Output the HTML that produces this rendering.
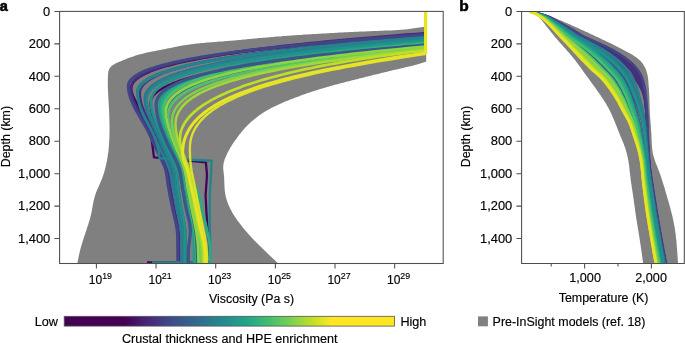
<!DOCTYPE html><html><head><meta charset="utf-8"><style>html,body{margin:0;padding:0;background:#fff;width:685px;height:343px;overflow:hidden}</style></head><body><svg width="685" height="343" viewBox="0 0 685 343" style="position:absolute;left:0;top:0;will-change:transform;opacity:0.999;font-family:'Liberation Sans',sans-serif;font-size:12px"><style>text{fill:#000;stroke:#000;stroke-width:.15px}</style>
<defs><clipPath id="ca"><rect x="59.5" y="11.3" width="383.7" height="252.2"/></clipPath><clipPath id="cb"><rect x="521.5" y="11.3" width="163" height="252.2"/></clipPath>
<linearGradient id="vg" x1="0" x2="1" y1="0" y2="0"><stop offset="0.185" stop-color="#440154"/><stop offset="0.247" stop-color="#482475"/><stop offset="0.310" stop-color="#414487"/><stop offset="0.372" stop-color="#355f8d"/><stop offset="0.435" stop-color="#2a788e"/><stop offset="0.497" stop-color="#21918c"/><stop offset="0.560" stop-color="#22a884"/><stop offset="0.623" stop-color="#44bf70"/><stop offset="0.685" stop-color="#7ad151"/><stop offset="0.748" stop-color="#bddf26"/><stop offset="0.810" stop-color="#fde725"/></linearGradient></defs>
<rect width="685" height="343" fill="#fff"/>
<g clip-path="url(#ca)">
<path d="M426.2,26.4 L424.5,26.7 L422.7,27.0 L421.0,27.2 L419.3,27.5 L417.6,27.8 L415.8,28.0 L414.1,28.3 L412.4,28.5 L410.7,28.7 L408.9,29.0 L407.2,29.2 L405.5,29.4 L403.7,29.5 L402.0,29.7 L400.3,29.8 L398.5,30.0 L396.8,30.1 L395.0,30.2 L393.3,30.3 L391.5,30.4 L389.8,30.4 L388.1,30.5 L386.3,30.6 L384.6,30.6 L382.8,30.7 L381.1,30.8 L379.3,30.8 L377.6,30.9 L375.8,31.0 L374.1,31.0 L372.3,31.1 L370.6,31.2 L368.9,31.2 L367.1,31.3 L365.4,31.4 L363.6,31.4 L361.9,31.5 L360.1,31.6 L358.4,31.7 L356.6,31.8 L354.9,31.8 L353.2,31.9 L351.4,32.0 L349.7,32.1 L347.9,32.2 L346.2,32.3 L344.4,32.3 L342.7,32.4 L341.0,32.5 L339.2,32.6 L337.5,32.7 L335.7,32.8 L334.0,32.9 L332.2,33.0 L330.5,33.1 L328.8,33.2 L327.0,33.3 L325.3,33.4 L323.5,33.5 L321.8,33.6 L320.1,33.7 L318.3,33.8 L316.6,33.9 L314.8,34.0 L313.1,34.1 L311.3,34.2 L309.6,34.3 L307.9,34.4 L306.1,34.5 L304.4,34.6 L302.6,34.7 L300.9,34.9 L299.2,35.0 L297.4,35.1 L295.7,35.2 L293.9,35.3 L292.2,35.4 L290.4,35.6 L288.7,35.7 L287.0,35.8 L285.2,36.0 L283.5,36.1 L281.7,36.2 L280.0,36.4 L278.3,36.5 L276.5,36.6 L274.8,36.8 L273.0,36.9 L271.3,37.1 L269.6,37.2 L267.8,37.4 L266.1,37.5 L264.3,37.7 L262.6,37.8 L260.9,38.0 L259.1,38.1 L257.4,38.3 L255.7,38.5 L253.9,38.6 L252.2,38.8 L250.4,38.9 L248.7,39.1 L247.0,39.3 L245.2,39.4 L243.5,39.6 L241.8,39.7 L240.0,39.9 L238.3,40.1 L236.5,40.2 L234.8,40.4 L233.1,40.5 L231.3,40.7 L229.6,40.8 L227.8,40.9 L226.1,41.1 L224.4,41.2 L222.6,41.4 L220.9,41.5 L219.1,41.6 L217.4,41.8 L215.7,41.9 L213.9,42.1 L212.2,42.2 L210.4,42.3 L208.7,42.5 L207.0,42.6 L205.2,42.8 L203.5,42.9 L201.7,43.1 L200.0,43.2 L198.3,43.4 L196.5,43.6 L194.8,43.8 L193.1,44.0 L191.3,44.2 L189.6,44.4 L187.9,44.7 L186.1,44.9 L184.4,45.2 L182.7,45.5 L181.0,45.8 L179.3,46.1 L177.6,46.5 L175.9,46.8 L174.1,47.2 L172.4,47.5 L170.7,47.9 L169.0,48.2 L167.3,48.6 L165.6,48.9 L163.9,49.3 L162.2,49.6 L160.5,50.0 L158.7,50.3 L157.0,50.6 L155.3,50.9 L153.6,51.2 L151.9,51.6 L150.2,51.9 L148.5,52.3 L146.8,52.6 L145.1,53.0 L143.4,53.4 L141.7,53.9 L140.0,54.3 L138.3,54.8 L136.6,55.3 L135.0,55.8 L133.3,56.4 L131.7,57.0 L130.0,57.5 L128.4,58.1 L126.7,58.8 L125.1,59.4 L123.5,60.0 L121.9,60.7 L120.3,61.4 L118.7,62.1 L117.1,62.8 L115.5,63.6 L113.9,64.4 L112.5,65.3 L111.1,66.5 L110.0,67.8 L109.1,69.3 L108.5,70.9 L108.2,72.7 L108.0,74.4 L107.9,76.2 L107.9,77.9 L107.8,79.7 L107.8,81.4 L107.8,83.2 L107.8,84.9 L107.8,86.6 L107.9,88.4 L108.0,90.1 L108.0,91.9 L108.1,93.6 L108.2,95.3 L108.3,97.1 L108.4,98.8 L108.5,100.6 L108.6,102.3 L108.7,104.1 L108.8,105.8 L108.9,107.6 L109.0,109.3 L109.1,111.0 L109.2,112.8 L109.2,114.5 L109.3,116.3 L109.3,118.0 L109.4,119.8 L109.4,121.5 L109.5,123.3 L109.5,125.0 L109.5,126.7 L109.5,128.5 L109.5,130.2 L109.5,132.0 L109.5,133.7 L109.4,135.5 L109.4,137.2 L109.3,139.0 L109.2,140.7 L109.1,142.5 L109.0,144.2 L108.9,145.9 L108.7,147.7 L108.6,149.4 L108.4,151.1 L108.2,152.9 L107.9,154.6 L107.7,156.3 L107.4,158.1 L107.1,159.8 L106.8,161.5 L106.4,163.2 L106.1,164.9 L105.7,166.6 L105.2,168.3 L104.8,170.0 L104.3,171.7 L103.8,173.4 L103.3,175.0 L102.7,176.7 L102.2,178.3 L101.5,180.0 L100.8,181.6 L100.1,183.2 L99.4,184.8 L98.7,186.4 L98.0,188.0 L97.3,189.6 L96.6,191.2 L96.0,192.8 L95.4,194.4 L94.9,196.1 L94.4,197.8 L94.0,199.4 L93.6,201.1 L93.3,202.9 L92.9,204.6 L92.6,206.3 L92.3,208.0 L92.0,209.8 L91.7,211.5 L91.3,213.2 L90.9,214.9 L90.5,216.6 L90.1,218.3 L89.6,220.0 L89.1,221.6 L88.6,223.3 L88.1,225.0 L87.5,226.6 L87.0,228.3 L86.5,230.0 L85.9,231.6 L85.3,233.3 L84.8,234.9 L84.2,236.6 L83.7,238.2 L83.1,239.9 L82.6,241.6 L82.1,243.2 L81.6,244.9 L81.1,246.6 L80.6,248.3 L80.2,249.9 L79.8,251.6 L79.4,253.3 L79.0,255.0 L78.6,256.7 L78.3,258.5 L78.0,260.2 L77.6,261.9 L77.3,263.6 L278.3,263.6 L277.4,262.8 L276.6,262.0 L275.7,261.1 L274.8,260.3 L274.0,259.5 L273.1,258.7 L272.3,257.9 L271.4,257.0 L270.5,256.2 L269.7,255.4 L268.8,254.6 L267.9,253.7 L267.1,252.9 L266.2,252.1 L265.4,251.3 L264.5,250.4 L263.6,249.6 L262.8,248.8 L261.9,248.0 L261.1,247.1 L260.2,246.3 L259.4,245.5 L258.5,244.6 L257.7,243.8 L256.9,242.9 L256.0,242.1 L255.2,241.2 L254.4,240.4 L253.5,239.5 L252.7,238.7 L251.9,237.8 L251.1,236.9 L250.3,236.0 L249.5,235.2 L248.7,234.3 L247.9,233.4 L247.1,232.5 L246.3,231.6 L245.5,230.7 L244.8,229.8 L244.0,228.9 L243.2,227.9 L242.5,227.0 L241.7,226.1 L241.0,225.1 L240.3,224.2 L239.6,223.2 L238.8,222.3 L238.1,221.3 L237.4,220.4 L236.8,219.4 L236.1,218.4 L235.4,217.4 L234.7,216.4 L234.1,215.4 L233.5,214.4 L232.8,213.4 L232.2,212.4 L231.7,211.3 L231.1,210.3 L230.5,209.2 L230.0,208.1 L229.5,207.1 L229.0,206.0 L228.5,204.9 L228.1,203.8 L227.6,202.6 L227.2,201.5 L226.9,200.4 L226.5,199.2 L226.2,198.1 L225.9,196.9 L225.6,195.8 L225.4,194.6 L225.1,193.4 L225.0,192.2 L224.8,191.1 L224.7,189.9 L224.6,188.7 L224.5,187.5 L224.5,186.3 L224.4,185.1 L224.4,183.9 L224.3,182.8 L224.3,181.6 L224.3,180.4 L224.2,179.2 L224.1,178.0 L224.1,176.8 L224.0,175.6 L223.8,174.4 L223.7,173.2 L223.6,172.0 L223.4,170.8 L223.3,169.6 L223.2,168.4 L223.2,167.3 L223.3,166.1 L223.4,164.9 L223.5,163.7 L223.8,162.6 L224.1,161.4 L224.4,160.3 L224.8,159.1 L225.2,158.0 L225.7,156.9 L226.2,155.8 L226.7,154.7 L227.2,153.6 L227.7,152.5 L228.3,151.5 L228.9,150.4 L229.4,149.4 L230.0,148.3 L230.6,147.3 L231.3,146.3 L231.9,145.3 L232.5,144.3 L233.2,143.3 L233.8,142.3 L234.5,141.3 L235.2,140.3 L235.9,139.4 L236.6,138.4 L237.3,137.4 L238.0,136.5 L238.7,135.5 L239.4,134.6 L240.2,133.7 L240.9,132.7 L241.7,131.8 L242.4,130.9 L243.2,130.0 L244.0,129.1 L244.8,128.2 L245.6,127.3 L246.5,126.5 L247.3,125.6 L248.1,124.8 L249.0,123.9 L249.9,123.1 L250.7,122.3 L251.6,121.5 L252.5,120.7 L253.4,119.9 L254.3,119.2 L255.3,118.4 L256.2,117.7 L257.2,117.0 L258.1,116.2 L259.1,115.5 L260.0,114.8 L261.0,114.2 L262.0,113.5 L263.0,112.8 L264.0,112.2 L265.0,111.6 L266.1,110.9 L267.1,110.3 L268.1,109.8 L269.2,109.2 L270.2,108.6 L271.3,108.0 L272.3,107.5 L273.4,107.0 L274.4,106.4 L275.5,105.9 L276.6,105.4 L277.7,104.9 L278.8,104.4 L279.9,103.9 L281.0,103.4 L282.0,103.0 L283.1,102.5 L284.2,102.0 L285.3,101.6 L286.5,101.1 L287.6,100.7 L288.7,100.2 L289.8,99.8 L290.9,99.3 L292.0,98.9 L293.1,98.5 L294.2,98.0 L295.3,97.6 L296.4,97.2 L297.6,96.8 L298.7,96.4 L299.8,95.9 L300.9,95.5 L302.0,95.1 L303.2,94.7 L304.3,94.3 L305.4,93.9 L306.5,93.5 L307.6,93.1 L308.8,92.8 L309.9,92.4 L311.0,92.0 L312.2,91.6 L313.3,91.2 L314.4,90.9 L315.6,90.5 L316.7,90.2 L317.8,89.8 L319.0,89.4 L320.1,89.1 L321.2,88.8 L322.4,88.4 L323.5,88.1 L324.7,87.7 L325.8,87.4 L327.0,87.1 L328.1,86.7 L329.3,86.4 L330.4,86.1 L331.5,85.8 L332.7,85.5 L333.8,85.1 L335.0,84.8 L336.1,84.5 L337.3,84.2 L338.4,83.9 L339.6,83.6 L340.8,83.3 L341.9,83.0 L343.1,82.7 L344.2,82.4 L345.4,82.1 L346.5,81.8 L347.7,81.5 L348.8,81.2 L350.0,80.9 L351.1,80.6 L352.3,80.3 L353.5,80.0 L354.6,79.8 L355.8,79.5 L356.9,79.2 L358.1,78.9 L359.2,78.6 L360.4,78.3 L361.5,78.0 L362.7,77.7 L363.9,77.4 L365.0,77.1 L366.2,76.8 L367.3,76.6 L368.5,76.3 L369.6,76.0 L370.8,75.7 L371.9,75.4 L373.1,75.1 L374.3,74.8 L375.4,74.5 L376.6,74.2 L377.7,74.0 L378.9,73.7 L380.0,73.4 L381.2,73.1 L382.4,72.8 L383.5,72.5 L384.7,72.3 L385.8,72.0 L387.0,71.7 L388.1,71.4 L389.3,71.1 L390.5,70.9 L391.6,70.6 L392.8,70.3 L393.9,70.0 L395.1,69.8 L396.3,69.5 L397.4,69.2 L398.6,68.9 L399.7,68.7 L400.9,68.4 L402.1,68.1 L403.2,67.9 L404.4,67.6 L405.6,67.3 L406.7,67.1 L407.9,66.8 L409.0,66.6 L410.2,66.3 L411.4,66.0 L412.5,65.7 L413.7,65.4 L414.8,65.1 L416.0,64.8 L417.1,64.5 L418.3,64.1 L419.4,63.8 L420.5,63.4 L421.7,63.1 L422.8,62.7 L423.9,62.3 L425.1,62.0 L426.2,61.6Z" fill="#808080"/>
<path d="M425.5,34.2 L415.6,35.0 L405.9,35.7 L396.3,36.5 L387.0,37.2 L377.7,38.0 L368.7,38.7 L359.8,39.5 L351.1,40.3 L342.6,41.0 L334.2,41.8 L326.0,42.6 L318.0,43.3 L310.1,44.1 L302.4,44.9 L294.9,45.7 L287.6,46.5 L280.4,47.3 L273.4,48.1 L266.5,48.9 L259.8,49.7 L253.3,50.5 L247.0,51.3 L240.8,52.2 L234.8,53.0 L229.0,53.9 L223.3,54.7 L217.8,55.6 L212.5,56.4 L207.4,57.3 L202.4,58.2 L197.6,59.1 L192.9,60.0 L188.4,60.9 L184.1,61.8 L180.0,62.7 L176.0,63.7 L172.2,64.6 L168.6,65.6 L165.1,66.5 L161.8,67.5 L158.7,68.5 L155.7,69.5 L152.9,70.5 L150.3,71.5 L147.9,72.6 L145.6,73.6 L143.5,74.7 L141.5,75.8 L139.8,76.9 L138.1,78.0 L136.7,79.1 L135.4,80.2 L134.3,81.3 L133.4,82.5 L132.7,83.7 L132.1,84.8 L131.6,86.1 L131.4,87.3 L131.3,88.5 L131.3,89.2 L131.4,89.8 L131.4,90.5 L131.6,91.2 L131.7,91.8 L131.9,92.5 L132.1,93.2 L132.3,93.8 L132.5,94.5 L132.8,95.2 L133.0,95.9 L133.3,96.5 L133.6,97.2 L133.9,97.9 L134.3,98.5 L134.6,99.2 L135.0,99.9 L135.3,100.5 L135.7,101.2 L136.0,101.9 L136.4,102.5 L136.7,103.2 L137.1,103.9 L137.5,104.5 L137.8,105.2 L138.1,105.9 L138.5,106.5 L138.8,107.2 L139.2,107.9 L139.5,108.6 L139.9,109.2 L140.2,109.9 L140.5,110.6 L140.9,111.2 L141.2,111.9 L141.5,112.6 L141.8,113.2 L142.2,113.9 L142.5,114.6 L142.8,115.2 L143.2,115.9 L143.5,116.6 L143.8,117.2 L144.2,117.9 L144.5,118.6 L144.8,119.2 L145.1,119.9 L145.5,120.6 L145.8,121.2 L146.1,121.9 L146.5,122.6 L146.8,123.3 L147.1,123.9 L147.4,124.6 L147.7,125.3 L148.0,125.9 L148.3,126.6 L148.6,127.3 L148.8,127.9 L149.1,128.6 L149.3,129.3 L149.6,129.9 L149.8,130.6 L150.0,131.3 L150.2,131.9 L150.4,132.6 L150.6,133.3 L150.8,133.9 L150.9,134.6 L151.1,135.3 L151.2,136.0 L151.3,136.6 L151.4,137.3 L151.5,138.0 L151.6,138.6 L151.7,139.3 L151.8,140.0 L151.8,140.6 L151.9,141.3 L154.0,157.4 L205.9,162.4 L207.0,175.0 L205.6,195.0 L206.4,212.0 L207.6,230.0 L209.6,246.0 L210.4,262.4 L147.0,262.4" fill="none" stroke="#440457" stroke-width="2.3" stroke-linejoin="round"/>
<path d="M425.5,33.2 L415.6,34.0 L405.9,34.7 L396.3,35.5 L386.9,36.3 L377.7,37.0 L368.6,37.8 L359.8,38.6 L351.1,39.3 L342.5,40.1 L334.1,40.9 L325.9,41.7 L317.9,42.5 L310.0,43.2 L302.3,44.0 L294.8,44.8 L287.4,45.6 L280.2,46.4 L273.2,47.3 L266.4,48.1 L259.7,48.9 L253.2,49.7 L246.8,50.6 L240.6,51.4 L234.6,52.2 L228.8,53.1 L223.1,54.0 L217.6,54.8 L212.3,55.7 L207.1,56.6 L202.2,57.5 L197.3,58.4 L192.7,59.3 L188.2,60.2 L183.9,61.2 L179.7,62.1 L175.8,63.0 L171.9,64.0 L168.3,65.0 L164.8,66.0 L161.5,66.9 L158.4,67.9 L155.5,69.0 L152.7,70.0 L150.0,71.0 L147.6,72.1 L145.3,73.1 L143.2,74.2 L141.2,75.3 L139.5,76.4 L137.9,77.5 L136.4,78.6 L135.1,79.8 L134.0,80.9 L133.1,82.1 L132.4,83.3 L131.8,84.5 L131.3,85.7 L131.1,87.0 L131.0,88.2 L131.1,90.4 L131.4,92.6 L131.8,94.9 L132.4,97.1 L133.1,99.3 L133.9,101.5 L134.8,103.7 L135.9,106.0 L137.0,108.2 L138.2,110.4 L139.4,112.6 L140.7,114.8 L142.0,117.1 L143.4,119.3 L144.7,121.5 L146.0,123.7 L147.4,125.9 L148.6,128.2 L149.8,130.4 L151.0,132.6 L152.1,134.8 L153.1,137.0 L154.1,139.3 L155.0,141.5 L156.0,143.7 L156.9,145.9 L157.9,148.1 L158.9,150.4 L160.0,152.6 L161.1,154.8 L162.2,157.0 L163.3,159.2 L164.3,161.5 L165.3,163.7 L166.2,165.9 L167.0,168.1 L167.7,170.3 L168.2,172.6 L168.6,174.8 L168.9,177.0 L169.2,179.2 L169.5,181.5 L169.7,183.7 L170.1,185.9 L170.4,188.1 L170.8,190.3 L171.2,192.6 L171.6,194.8 L172.0,197.0 L172.4,199.2 L172.8,201.4 L173.2,203.7 L173.6,205.9 L174.1,208.1 L174.5,210.3 L175.0,212.5 L175.5,214.8 L176.0,217.0 L176.5,219.2 L177.0,221.4 L177.4,223.6 L177.8,225.9 L178.1,228.1 L178.4,230.3 L178.7,232.5 L178.8,234.7 L178.9,237.0 L179.0,239.2 L179.0,241.4 L179.0,243.6 L179.0,245.8 L179.1,248.1 L179.1,250.3 L179.1,252.5 L179.1,254.7 L179.1,256.9 L179.2,259.2 L179.2,261.4 L179.2,263.6" fill="none" stroke="#472a79" stroke-width="2.7" stroke-linejoin="round"/>
<path d="M425.5,36.2 L415.9,37.0 L406.5,37.7 L397.2,38.5 L388.1,39.3 L379.1,40.1 L370.3,40.8 L361.7,41.6 L353.3,42.4 L345.0,43.2 L336.9,44.0 L328.9,44.8 L321.1,45.6 L313.5,46.4 L306.0,47.2 L298.7,48.0 L291.6,48.8 L284.6,49.6 L277.8,50.5 L271.1,51.3 L264.6,52.1 L258.3,53.0 L252.2,53.8 L246.2,54.7 L240.3,55.6 L234.7,56.4 L229.2,57.3 L223.8,58.2 L218.7,59.1 L213.7,60.0 L208.8,61.0 L204.1,61.9 L199.6,62.8 L195.3,63.8 L191.1,64.8 L187.1,65.7 L183.2,66.7 L179.5,67.7 L176.0,68.7 L172.6,69.7 L169.4,70.8 L166.4,71.8 L163.5,72.9 L160.8,74.0 L158.3,75.1 L155.9,76.2 L153.7,77.3 L151.6,78.4 L149.7,79.6 L148.0,80.7 L146.4,81.9 L145.1,83.1 L143.8,84.3 L142.8,85.5 L141.9,86.8 L141.1,88.1 L140.5,89.3 L140.1,90.6 L139.9,92.0 L139.8,93.3 L139.9,95.5 L140.1,97.6 L140.5,99.8 L140.9,101.9 L141.5,104.1 L142.2,106.2 L143.0,108.4 L143.9,110.5 L144.8,112.7 L145.8,114.9 L146.9,117.0 L148.0,119.2 L149.1,121.3 L150.2,123.5 L151.3,125.6 L152.4,127.8 L153.5,129.9 L154.6,132.1 L155.6,134.3 L156.6,136.4 L157.5,138.6 L158.5,140.7 L159.4,142.9 L160.3,145.0 L161.3,147.2 L162.3,149.3 L163.3,151.5 L164.4,153.7 L165.5,155.8 L166.6,158.0 L167.6,160.1 L168.6,162.3 L169.6,164.4 L170.4,166.6 L171.1,168.7 L171.7,170.9 L172.2,173.1 L172.6,175.2 L172.9,177.4 L173.2,179.5 L173.4,181.7 L173.7,183.8 L174.0,186.0 L174.4,188.2 L174.8,190.3 L175.2,192.5 L175.5,194.6 L175.9,196.8 L176.3,198.9 L176.6,201.1 L177.0,203.2 L177.4,205.4 L177.8,207.6 L178.1,209.7 L178.6,211.9 L179.0,214.0 L179.4,216.2 L179.8,218.3 L180.3,220.5 L180.7,222.6 L181.1,224.8 L181.4,227.0 L181.7,229.1 L181.9,231.3 L182.1,233.4 L182.3,235.6 L182.4,237.7 L182.5,239.9 L182.5,242.0 L182.6,244.2 L182.6,246.4 L182.6,248.5 L182.7,250.7 L182.7,252.8 L182.7,255.0 L182.7,257.1 L182.8,259.3 L182.8,261.4 L182.8,263.6" fill="none" stroke="#462e7a" stroke-width="2.5" stroke-linejoin="round"/>
<path d="M425.5,34.6 L415.5,35.3 L405.7,36.0 L396.1,36.7 L386.6,37.5 L377.3,38.2 L368.1,38.9 L359.2,39.6 L350.4,40.4 L341.8,41.1 L333.3,41.8 L325.0,42.5 L316.9,43.3 L309.0,44.0 L301.2,44.8 L293.6,45.5 L286.2,46.3 L279.0,47.0 L271.9,47.8 L265.0,48.6 L258.2,49.3 L251.6,50.1 L245.2,50.9 L239.0,51.7 L233.0,52.5 L227.1,53.3 L221.3,54.1 L215.8,54.9 L210.4,55.7 L205.2,56.5 L200.2,57.4 L195.3,58.2 L190.6,59.1 L186.1,59.9 L181.7,60.8 L177.6,61.7 L173.5,62.6 L169.7,63.5 L166.0,64.4 L162.5,65.3 L159.2,66.2 L156.1,67.1 L153.1,68.1 L150.2,69.0 L147.6,70.0 L145.1,71.0 L142.8,72.0 L140.7,73.0 L138.7,74.0 L136.9,75.0 L135.3,76.1 L133.9,77.1 L132.6,78.2 L131.5,79.3 L130.5,80.3 L129.8,81.4 L129.2,82.6 L128.7,83.7 L128.5,84.8 L128.4,86.0 L128.5,88.2 L128.7,90.5 L129.1,92.7 L129.7,95.0 L130.4,97.2 L131.1,99.5 L132.0,101.7 L133.0,104.0 L134.1,106.2 L135.2,108.5 L136.4,110.7 L137.7,113.0 L139.0,115.2 L140.3,117.5 L141.6,119.7 L142.9,122.0 L144.2,124.2 L145.5,126.5 L146.8,128.7 L148.0,131.0 L149.1,133.2 L150.2,135.5 L151.2,137.7 L152.2,140.0 L153.2,142.2 L154.2,144.5 L155.2,146.7 L156.2,148.9 L157.3,151.2 L158.4,153.4 L159.5,155.7 L160.7,157.9 L161.8,160.2 L162.8,162.4 L163.8,164.7 L164.7,166.9 L165.5,169.2 L166.1,171.4 L166.5,173.7 L166.9,175.9 L167.2,178.2 L167.5,180.4 L167.8,182.7 L168.1,184.9 L168.5,187.2 L168.9,189.4 L169.3,191.7 L169.7,193.9 L170.1,196.2 L170.5,198.4 L171.0,200.7 L171.4,202.9 L171.9,205.1 L172.3,207.4 L172.8,209.6 L173.3,211.9 L173.9,214.1 L174.4,216.4 L174.9,218.6 L175.5,220.9 L175.9,223.1 L176.4,225.4 L176.8,227.6 L177.1,229.9 L177.3,232.1 L177.5,234.4 L177.6,236.6 L177.7,238.9 L177.7,241.1 L177.7,243.4 L177.7,245.6 L177.7,247.9 L177.8,250.1 L177.8,252.4 L177.8,254.6 L177.8,256.9 L177.8,259.1 L177.9,261.4 L177.9,263.6" fill="none" stroke="#414487" stroke-width="3.1" stroke-linejoin="round"/>
<path d="M425.5,38.5 L416.1,39.3 L406.8,40.1 L397.7,40.9 L388.8,41.7 L380.0,42.5 L371.4,43.3 L362.9,44.1 L354.6,45.0 L346.5,45.8 L338.5,46.6 L330.7,47.4 L323.0,48.2 L315.5,49.1 L308.2,49.9 L301.0,50.8 L294.0,51.6 L287.1,52.5 L280.5,53.3 L273.9,54.2 L267.6,55.1 L261.4,56.0 L255.3,56.9 L249.4,57.8 L243.7,58.7 L238.2,59.6 L232.8,60.5 L227.5,61.4 L222.4,62.4 L217.5,63.3 L212.8,64.3 L208.2,65.3 L203.7,66.3 L199.5,67.3 L195.4,68.3 L191.4,69.3 L187.6,70.4 L184.0,71.4 L180.5,72.5 L177.2,73.5 L174.1,74.6 L171.1,75.7 L168.3,76.9 L165.6,78.0 L163.1,79.2 L160.8,80.3 L158.6,81.5 L156.6,82.7 L154.8,83.9 L153.1,85.1 L151.5,86.4 L150.2,87.7 L148.9,89.0 L147.9,90.3 L147.0,91.6 L146.3,92.9 L145.7,94.3 L145.3,95.7 L145.1,97.1 L145.0,98.5 L145.1,100.6 L145.3,102.7 L145.6,104.8 L146.0,106.9 L146.6,108.9 L147.2,111.0 L147.9,113.1 L148.7,115.2 L149.5,117.3 L150.4,119.4 L151.3,121.5 L152.2,123.6 L153.2,125.7 L154.1,127.8 L155.1,129.8 L156.0,131.9 L156.9,134.0 L157.8,136.1 L158.7,138.2 L159.6,140.3 L160.4,142.4 L161.3,144.5 L162.2,146.6 L163.1,148.7 L164.1,150.7 L165.1,152.8 L166.1,154.9 L167.1,157.0 L168.0,159.1 L169.0,161.2 L169.9,163.3 L170.7,165.4 L171.4,167.5 L172.1,169.6 L172.6,171.6 L173.0,173.7 L173.3,175.8 L173.6,177.9 L173.9,180.0 L174.1,182.1 L174.4,184.2 L174.7,186.3 L175.1,188.4 L175.4,190.5 L175.8,192.5 L176.1,194.6 L176.5,196.7 L176.8,198.8 L177.2,200.9 L177.6,203.0 L177.9,205.1 L178.3,207.2 L178.7,209.3 L179.1,211.4 L179.5,213.4 L179.9,215.5 L180.3,217.6 L180.7,219.7 L181.1,221.8 L181.5,223.9 L181.8,226.0 L182.2,228.1 L182.4,230.2 L182.6,232.3 L182.8,234.3 L182.9,236.4 L183.0,238.5 L183.1,240.6 L183.1,242.7 L183.2,244.8 L183.2,246.9 L183.2,249.0 L183.3,251.1 L183.3,253.2 L183.3,255.2 L183.3,257.3 L183.4,259.4 L183.4,261.5 L183.4,263.6" fill="none" stroke="#2c738e" stroke-width="2.9" stroke-linejoin="round"/>
<path d="M425.5,37.2 L415.8,37.9 L406.3,38.7 L396.9,39.5 L387.7,40.2 L378.7,41.0 L369.9,41.7 L361.2,42.5 L352.6,43.2 L344.3,44.0 L336.1,44.8 L328.1,45.5 L320.2,46.3 L312.5,47.1 L305.0,47.9 L297.6,48.7 L290.4,49.5 L283.3,50.2 L276.5,51.1 L269.8,51.9 L263.2,52.7 L256.9,53.5 L250.6,54.3 L244.6,55.2 L238.7,56.0 L233.0,56.9 L227.5,57.7 L222.1,58.6 L216.9,59.4 L211.8,60.3 L206.9,61.2 L202.2,62.1 L197.7,63.0 L193.3,64.0 L189.0,64.9 L185.0,65.8 L181.1,66.8 L177.4,67.7 L173.8,68.7 L170.4,69.7 L167.2,70.7 L164.1,71.7 L161.2,72.7 L158.5,73.8 L155.9,74.8 L153.5,75.9 L151.3,76.9 L149.2,78.0 L147.3,79.1 L145.6,80.3 L144.0,81.4 L142.6,82.5 L141.4,83.7 L140.3,84.9 L139.4,86.1 L138.6,87.3 L138.0,88.5 L137.6,89.8 L137.4,91.0 L137.3,92.3 L137.4,94.5 L137.6,96.6 L137.9,98.8 L138.4,101.0 L139.0,103.1 L139.7,105.3 L140.4,107.5 L141.3,109.6 L142.2,111.8 L143.2,114.0 L144.2,116.2 L145.3,118.3 L146.4,120.5 L147.5,122.7 L148.6,124.8 L149.7,127.0 L150.8,129.2 L151.9,131.3 L152.9,133.5 L153.9,135.7 L154.9,137.8 L155.9,140.0 L156.8,142.2 L157.8,144.3 L158.8,146.5 L159.8,148.7 L160.8,150.8 L161.9,153.0 L163.0,155.2 L164.1,157.4 L165.2,159.5 L166.2,161.7 L167.2,163.9 L168.1,166.0 L168.9,168.2 L169.6,170.4 L170.2,172.5 L170.7,174.7 L171.1,176.9 L171.4,179.0 L171.8,181.2 L172.2,183.4 L172.6,185.5 L173.1,187.7 L173.5,189.9 L174.0,192.0 L174.4,194.2 L174.9,196.4 L175.3,198.5 L175.6,200.7 L176.0,202.9 L176.4,205.1 L176.8,207.2 L177.1,209.4 L177.5,211.6 L178.0,213.7 L178.4,215.9 L178.8,218.1 L179.3,220.2 L179.7,222.4 L180.1,224.6 L180.4,226.7 L180.8,228.9 L181.0,231.1 L181.2,233.2 L181.4,235.4 L181.5,237.6 L181.6,239.7 L181.7,241.9 L181.7,244.1 L181.8,246.3 L181.8,248.4 L181.9,250.6 L181.9,252.8 L181.9,254.9 L181.9,257.1 L182.0,259.3 L182.0,261.4 L182.0,263.6" fill="none" stroke="#287d8e" stroke-width="2.7" stroke-linejoin="round"/>
<path d="M425.5,37.6 L415.8,38.4 L406.3,39.1 L397.0,39.9 L387.8,40.6 L378.8,41.4 L370.0,42.1 L361.3,42.9 L352.8,43.7 L344.5,44.4 L336.3,45.2 L328.3,46.0 L320.4,46.7 L312.8,47.5 L305.2,48.3 L297.9,49.1 L290.7,49.9 L283.7,50.7 L276.8,51.5 L270.1,52.3 L263.6,53.1 L257.3,54.0 L251.1,54.8 L245.0,55.6 L239.2,56.5 L233.5,57.3 L227.9,58.2 L222.6,59.1 L217.4,59.9 L212.3,60.8 L207.5,61.7 L202.8,62.6 L198.2,63.5 L193.8,64.5 L189.6,65.4 L185.6,66.4 L181.7,67.3 L178.0,68.3 L174.4,69.3 L171.0,70.3 L167.8,71.3 L164.8,72.3 L161.9,73.3 L159.1,74.3 L156.6,75.4 L154.2,76.5 L152.0,77.5 L149.9,78.6 L148.0,79.8 L146.3,80.9 L144.7,82.0 L143.3,83.2 L142.0,84.3 L141.0,85.5 L140.1,86.7 L139.3,88.0 L138.7,89.2 L138.3,90.4 L138.1,91.7 L138.0,93.0 L138.0,93.7 L138.0,94.5 L138.1,95.2 L138.1,96.0 L138.1,96.7 L138.2,97.4 L138.3,98.2 L138.4,98.9 L138.5,99.6 L138.6,100.4 L138.7,101.1 L138.8,101.9 L139.0,102.6 L139.1,103.3 L139.3,104.1 L139.5,104.8 L139.7,105.5 L139.9,106.3 L140.1,107.0 L140.3,107.8 L140.6,108.5 L140.8,109.2 L141.1,110.0 L141.4,110.7 L141.7,111.4 L142.0,112.2 L142.3,112.9 L142.6,113.7 L142.9,114.4 L143.3,115.1 L143.6,115.9 L144.0,116.6 L144.4,117.4 L144.7,118.1 L145.1,118.8 L145.5,119.6 L145.9,120.3 L146.4,121.0 L146.8,121.8 L147.2,122.5 L147.6,123.3 L148.0,124.0 L148.4,124.7 L148.8,125.5 L149.3,126.2 L149.7,126.9 L150.1,127.7 L150.5,128.4 L150.9,129.2 L151.3,129.9 L151.6,130.6 L152.0,131.4 L152.4,132.1 L152.7,132.9 L153.1,133.6 L153.4,134.3 L153.7,135.1 L154.0,135.8 L154.3,136.5 L154.6,137.3 L154.9,138.0 L155.1,138.8 L155.4,139.5 L155.6,140.2 L155.9,141.0 L156.1,141.7 L156.4,142.4 L156.6,143.2 L156.8,143.9 L157.0,144.7 L157.2,145.4 L157.4,146.1 L157.6,146.9 L157.8,147.6 L158.0,148.3 L158.2,149.1 L158.4,149.8 L158.6,150.6 L158.8,151.3 L159.5,158.2 L211.6,160.8 L211.2,170.0 L209.8,195.0 L209.7,213.0 L210.3,262.4 L152.0,262.4" fill="none" stroke="#26828d" stroke-width="2.4" stroke-linejoin="round"/>
<path d="M425.5,39.3 L416.1,40.1 L406.9,40.9 L397.8,41.7 L389.0,42.5 L380.2,43.3 L371.6,44.1 L363.2,45.0 L355.0,45.8 L346.9,46.6 L338.9,47.4 L331.2,48.2 L323.5,49.1 L316.1,49.9 L308.8,50.7 L301.7,51.6 L294.7,52.5 L287.9,53.3 L281.2,54.2 L274.7,55.0 L268.4,55.9 L262.2,56.8 L256.2,57.7 L250.4,58.6 L244.7,59.5 L239.2,60.5 L233.8,61.4 L228.6,62.3 L223.5,63.3 L218.6,64.2 L213.9,65.2 L209.3,66.2 L204.9,67.2 L200.7,68.2 L196.6,69.2 L192.7,70.3 L188.9,71.3 L185.3,72.4 L181.8,73.4 L178.6,74.5 L175.4,75.6 L172.5,76.7 L169.7,77.9 L167.0,79.0 L164.5,80.2 L162.2,81.4 L160.0,82.6 L158.0,83.8 L156.2,85.0 L154.5,86.3 L153.0,87.5 L151.6,88.8 L150.4,90.1 L149.4,91.4 L148.5,92.8 L147.8,94.1 L147.2,95.5 L146.8,96.9 L146.6,98.4 L146.5,99.8 L146.6,101.9 L146.8,103.9 L147.2,106.0 L147.7,108.1 L148.3,110.2 L149.0,112.2 L149.7,114.3 L150.6,116.4 L151.5,118.5 L152.5,120.5 L153.5,122.6 L154.5,124.7 L155.5,126.8 L156.5,128.8 L157.5,130.9 L158.5,133.0 L159.4,135.0 L160.3,137.1 L161.2,139.2 L162.0,141.3 L162.9,143.3 L163.8,145.4 L164.6,147.5 L165.6,149.6 L166.5,151.6 L167.5,153.7 L168.5,155.8 L169.5,157.9 L170.5,159.9 L171.5,162.0 L172.3,164.1 L173.1,166.1 L173.8,168.2 L174.4,170.3 L174.8,172.4 L175.1,174.4 L175.4,176.5 L175.6,178.6 L175.8,180.7 L176.0,182.7 L176.2,184.8 L176.4,186.9 L176.7,189.0 L177.0,191.0 L177.3,193.1 L177.6,195.2 L177.9,197.3 L178.3,199.3 L178.6,201.4 L179.0,203.5 L179.3,205.5 L179.7,207.6 L180.1,209.7 L180.4,211.8 L180.9,213.8 L181.3,215.9 L181.7,218.0 L182.1,220.1 L182.4,222.1 L182.8,224.2 L183.1,226.3 L183.4,228.4 L183.6,230.4 L183.8,232.5 L184.0,234.6 L184.1,236.6 L184.1,238.7 L184.2,240.8 L184.2,242.9 L184.2,244.9 L184.2,247.0 L184.3,249.1 L184.3,251.2 L184.3,253.2 L184.3,255.3 L184.3,257.4 L184.4,259.5 L184.4,261.5 L184.4,263.6" fill="none" stroke="#26848d" stroke-width="2.9" stroke-linejoin="round"/>
<path d="M425.5,41.0 L416.3,42.1 L407.2,43.1 L398.3,44.1 L389.5,45.2 L380.9,46.2 L372.4,47.2 L364.1,48.2 L356.0,49.2 L348.0,50.2 L340.2,51.2 L332.6,52.2 L325.0,53.2 L317.7,54.1 L310.5,55.1 L303.5,56.1 L296.6,57.1 L289.9,58.0 L283.4,59.0 L277.0,60.0 L270.7,60.9 L264.6,61.9 L258.7,62.9 L252.9,63.8 L247.3,64.8 L241.9,65.8 L236.6,66.8 L231.5,67.7 L226.5,68.7 L221.7,69.7 L217.0,70.7 L212.5,71.7 L208.2,72.7 L204.0,73.7 L200.0,74.7 L196.1,75.7 L192.4,76.8 L188.8,77.8 L185.4,78.8 L182.2,79.9 L179.1,80.9 L176.2,82.0 L173.4,83.1 L170.8,84.2 L168.4,85.3 L166.1,86.4 L163.9,87.5 L162.0,88.6 L160.2,89.8 L158.5,90.9 L157.0,92.1 L155.7,93.3 L154.5,94.5 L153.4,95.7 L152.6,96.9 L151.9,98.2 L151.3,99.4 L150.9,100.7 L150.7,102.0 L150.6,103.3 L150.7,105.3 L150.9,107.4 L151.2,109.4 L151.7,111.4 L152.3,113.4 L152.9,115.5 L153.7,117.5 L154.5,119.5 L155.3,121.6 L156.2,123.6 L157.1,125.6 L158.1,127.6 L159.0,129.7 L159.9,131.7 L160.8,133.7 L161.7,135.8 L162.5,137.8 L163.4,139.8 L164.2,141.9 L165.1,143.9 L165.9,145.9 L166.8,147.9 L167.7,150.0 L168.7,152.0 L169.6,154.0 L170.6,156.1 L171.6,158.1 L172.6,160.1 L173.5,162.1 L174.3,164.2 L175.1,166.2 L175.7,168.2 L176.3,170.3 L176.7,172.3 L177.0,174.3 L177.2,176.3 L177.4,178.4 L177.5,180.4 L177.7,182.4 L177.9,184.5 L178.1,186.5 L178.3,188.5 L178.6,190.6 L178.9,192.6 L179.1,194.6 L179.4,196.6 L179.8,198.7 L180.1,200.7 L180.4,202.7 L180.7,204.8 L181.1,206.8 L181.5,208.8 L181.9,210.8 L182.3,212.9 L182.7,214.9 L183.1,216.9 L183.5,219.0 L183.9,221.0 L184.3,223.0 L184.6,225.0 L184.9,227.1 L185.1,229.1 L185.3,231.1 L185.4,233.2 L185.4,235.2 L185.5,237.2 L185.4,239.3 L185.4,241.3 L185.3,243.3 L185.3,245.3 L185.3,247.4 L185.2,249.4 L185.2,251.4 L185.2,253.5 L185.2,255.5 L185.2,257.5 L185.3,259.5 L185.3,261.6 L185.3,263.6" fill="none" stroke="#440154" stroke-width="2.2" stroke-linejoin="round"/>
<path d="M425.5,40.3 L416.3,41.1 L407.2,41.9 L398.3,42.7 L389.5,43.5 L380.9,44.3 L372.5,45.2 L364.2,46.0 L356.1,46.8 L348.1,47.6 L340.3,48.4 L332.7,49.3 L325.2,50.1 L317.9,51.0 L310.7,51.8 L303.7,52.6 L296.8,53.5 L290.1,54.4 L283.6,55.2 L277.2,56.1 L270.9,57.0 L264.9,57.9 L259.0,58.8 L253.2,59.7 L247.6,60.6 L242.2,61.6 L236.9,62.5 L231.7,63.5 L226.8,64.4 L222.0,65.4 L217.3,66.4 L212.8,67.4 L208.5,68.4 L204.3,69.4 L200.3,70.4 L196.4,71.5 L192.7,72.5 L189.2,73.6 L185.8,74.7 L182.5,75.8 L179.5,76.9 L176.5,78.0 L173.8,79.2 L171.2,80.3 L168.7,81.5 L166.5,82.7 L164.3,83.9 L162.4,85.2 L160.5,86.4 L158.9,87.7 L157.4,89.0 L156.0,90.3 L154.9,91.6 L153.8,93.0 L153.0,94.3 L152.3,95.7 L151.7,97.1 L151.3,98.6 L151.1,100.0 L151.0,101.5 L151.1,103.6 L151.2,105.6 L151.5,107.7 L151.9,109.7 L152.4,111.8 L153.0,113.8 L153.6,115.9 L154.3,117.9 L155.1,120.0 L155.9,122.0 L156.7,124.1 L157.6,126.1 L158.4,128.2 L159.3,130.2 L160.2,132.3 L161.1,134.3 L161.9,136.4 L162.7,138.4 L163.6,140.5 L164.4,142.5 L165.3,144.6 L166.2,146.6 L167.1,148.7 L168.1,150.7 L169.1,152.8 L170.1,154.8 L171.1,156.9 L172.0,159.0 L173.0,161.0 L173.9,163.1 L174.7,165.1 L175.4,167.2 L176.0,169.2 L176.5,171.3 L176.8,173.3 L177.1,175.4 L177.3,177.4 L177.5,179.5 L177.6,181.5 L177.8,183.6 L178.0,185.6 L178.2,187.7 L178.5,189.7 L178.7,191.8 L179.0,193.8 L179.3,195.9 L179.6,197.9 L180.0,200.0 L180.3,202.0 L180.6,204.1 L181.0,206.1 L181.4,208.2 L181.8,210.3 L182.2,212.3 L182.6,214.4 L183.0,216.4 L183.4,218.5 L183.8,220.5 L184.2,222.6 L184.5,224.6 L184.8,226.7 L185.1,228.7 L185.3,230.8 L185.4,232.8 L185.4,234.9 L185.5,236.9 L185.4,239.0 L185.4,241.0 L185.3,243.1 L185.3,245.1 L185.3,247.2 L185.2,249.2 L185.2,251.3 L185.2,253.3 L185.2,255.4 L185.2,257.4 L185.3,259.5 L185.3,261.5 L185.3,263.6" fill="none" stroke="#21918c" stroke-width="2.9" stroke-linejoin="round"/>
<path d="M425.5,42.0 L416.6,42.8 L407.8,43.6 L399.2,44.5 L390.7,45.3 L382.4,46.1 L374.2,46.9 L366.2,47.8 L358.3,48.6 L350.6,49.5 L343.0,50.3 L335.6,51.1 L328.4,52.0 L321.3,52.9 L314.3,53.7 L307.5,54.6 L300.9,55.5 L294.4,56.3 L288.1,57.2 L281.9,58.1 L275.8,59.0 L270.0,60.0 L264.2,60.9 L258.7,61.8 L253.2,62.8 L248.0,63.7 L242.9,64.7 L237.9,65.7 L233.1,66.7 L228.4,67.7 L223.9,68.7 L219.6,69.7 L215.4,70.8 L211.3,71.8 L207.4,72.9 L203.7,74.0 L200.1,75.1 L196.7,76.2 L193.4,77.3 L190.2,78.5 L187.3,79.6 L184.4,80.8 L181.8,82.0 L179.2,83.2 L176.9,84.5 L174.7,85.7 L172.6,87.0 L170.7,88.3 L168.9,89.6 L167.3,90.9 L165.9,92.3 L164.6,93.7 L163.4,95.1 L162.4,96.5 L161.6,97.9 L160.9,99.4 L160.4,100.9 L160.0,102.4 L159.8,103.9 L159.7,105.5 L159.7,107.5 L159.9,109.5 L160.1,111.5 L160.4,113.5 L160.7,115.5 L161.1,117.5 L161.6,119.5 L162.2,121.5 L162.7,123.5 L163.4,125.5 L164.0,127.5 L164.7,129.5 L165.4,131.5 L166.2,133.5 L167.0,135.5 L167.7,137.5 L168.5,139.5 L169.4,141.5 L170.2,143.5 L171.1,145.5 L171.9,147.5 L172.8,149.5 L173.7,151.5 L174.7,153.5 L175.6,155.5 L176.5,157.5 L177.4,159.5 L178.3,161.5 L179.1,163.5 L179.8,165.5 L180.5,167.5 L181.2,169.5 L181.7,171.5 L182.2,173.5 L182.6,175.5 L183.0,177.5 L183.3,179.5 L183.7,181.5 L184.0,183.5 L184.4,185.6 L184.8,187.6 L185.3,189.6 L185.7,191.6 L186.1,193.6 L186.5,195.6 L186.9,197.6 L187.3,199.6 L187.7,201.6 L188.0,203.6 L188.4,205.6 L188.8,207.6 L189.2,209.6 L189.6,211.6 L190.0,213.6 L190.4,215.6 L190.9,217.6 L191.3,219.6 L191.8,221.6 L192.2,223.6 L192.5,225.6 L192.9,227.6 L193.1,229.6 L193.4,231.6 L193.6,233.6 L193.7,235.6 L193.8,237.6 L193.9,239.6 L193.9,241.6 L194.0,243.6 L194.0,245.6 L194.0,247.6 L194.0,249.6 L194.1,251.6 L194.1,253.6 L194.1,255.6 L194.1,257.6 L194.2,259.6 L194.2,261.6 L194.2,263.6" fill="none" stroke="#229c88" stroke-width="2.9" stroke-linejoin="round"/>
<path d="M425.5,43.0 L416.6,43.8 L407.9,44.6 L399.3,45.5 L390.9,46.3 L382.7,47.1 L374.5,48.0 L366.6,48.8 L358.8,49.6 L351.1,50.5 L343.6,51.3 L336.2,52.2 L329.0,53.0 L322.0,53.9 L315.1,54.7 L308.3,55.6 L301.7,56.5 L295.3,57.4 L289.0,58.3 L282.8,59.2 L276.9,60.1 L271.0,61.0 L265.3,61.9 L259.8,62.9 L254.4,63.8 L249.2,64.8 L244.1,65.8 L239.2,66.7 L234.4,67.7 L229.8,68.8 L225.3,69.8 L221.0,70.8 L216.8,71.9 L212.8,72.9 L208.9,74.0 L205.2,75.1 L201.6,76.2 L198.2,77.3 L194.9,78.5 L191.8,79.6 L188.9,80.8 L186.1,82.0 L183.4,83.2 L180.9,84.4 L178.6,85.7 L176.4,86.9 L174.3,88.2 L172.4,89.5 L170.7,90.9 L169.1,92.2 L167.6,93.6 L166.4,95.0 L165.2,96.4 L164.2,97.9 L163.4,99.3 L162.7,100.8 L162.2,102.3 L161.8,103.9 L161.6,105.4 L161.5,107.0 L161.5,109.0 L161.6,111.0 L161.8,112.9 L162.1,114.9 L162.4,116.9 L162.8,118.9 L163.2,120.9 L163.7,122.9 L164.3,124.8 L165.0,126.8 L165.7,128.8 L166.5,130.8 L167.4,132.8 L168.3,134.8 L169.3,136.7 L170.4,138.7 L171.5,140.7 L172.6,142.7 L173.7,144.7 L174.9,146.6 L176.1,148.6 L177.3,150.6 L178.5,152.6 L179.7,154.6 L180.8,156.6 L182.0,158.5 L183.1,160.5 L184.2,162.5 L185.3,164.5 L186.3,166.5 L187.3,168.5 L188.2,170.4 L189.1,172.4 L190.0,174.4 L190.8,176.4 L191.6,178.4 L192.5,180.3 L193.4,182.3 L194.3,184.3 L195.2,186.3 L196.2,188.3 L197.1,190.3 L197.9,192.2 L198.7,194.2 L199.4,196.2 L200.0,198.2 L200.5,200.2 L200.9,202.1 L201.3,204.1 L201.7,206.1 L202.1,208.1 L202.4,210.1 L202.8,212.1 L203.2,214.0 L203.7,216.0 L204.1,218.0 L204.6,220.0 L205.1,222.0 L205.6,224.0 L206.0,225.9 L206.5,227.9 L207.0,229.9 L207.4,231.9 L207.8,233.9 L208.2,235.8 L208.6,237.8 L209.0,239.8 L209.3,241.8 L209.5,243.8 L209.8,245.8 L210.0,247.7 L210.1,249.7 L210.2,251.7 L210.3,253.7 L210.4,255.7 L210.4,257.7 L210.5,259.6 L210.5,261.6 L210.5,263.6" fill="none" stroke="#29ad80" stroke-width="2.8" stroke-linejoin="round"/>
<path d="M425.5,44.0 L416.7,44.8 L408.0,45.7 L399.5,46.5 L391.2,47.3 L383.0,48.2 L374.9,49.0 L367.0,49.8 L359.3,50.7 L351.7,51.5 L344.2,52.4 L336.9,53.2 L329.8,54.1 L322.8,55.0 L315.9,55.9 L309.2,56.7 L302.7,57.6 L296.3,58.5 L290.0,59.4 L283.9,60.3 L278.0,61.3 L272.2,62.2 L266.5,63.1 L261.0,64.1 L255.7,65.0 L250.5,66.0 L245.5,67.0 L240.6,68.0 L235.8,69.0 L231.2,70.0 L226.8,71.1 L222.5,72.1 L218.4,73.2 L214.4,74.3 L210.5,75.4 L206.9,76.5 L203.3,77.6 L199.9,78.7 L196.7,79.9 L193.6,81.1 L190.7,82.3 L187.9,83.5 L185.3,84.7 L182.8,86.0 L180.4,87.2 L178.3,88.5 L176.2,89.8 L174.3,91.2 L172.6,92.5 L171.0,93.9 L169.6,95.3 L168.3,96.7 L167.2,98.2 L166.2,99.7 L165.4,101.1 L164.7,102.7 L164.2,104.2 L163.8,105.8 L163.6,107.4 L163.5,109.0 L163.6,111.0 L163.7,112.9 L163.9,114.9 L164.3,116.8 L164.6,118.8 L165.1,120.7 L165.6,122.7 L166.2,124.7 L166.8,126.6 L167.4,128.6 L168.1,130.5 L168.8,132.5 L169.5,134.4 L170.2,136.4 L171.0,138.4 L171.7,140.3 L172.5,142.3 L173.3,144.2 L174.1,146.2 L174.9,148.1 L175.7,150.1 L176.6,152.1 L177.4,154.0 L178.3,156.0 L179.1,157.9 L180.0,159.9 L180.8,161.8 L181.5,163.8 L182.2,165.8 L182.8,167.7 L183.4,169.7 L183.9,171.6 L184.3,173.6 L184.7,175.5 L185.0,177.5 L185.3,179.5 L185.6,181.4 L185.9,183.4 L186.2,185.3 L186.6,187.3 L186.9,189.2 L187.3,191.2 L187.7,193.1 L188.0,195.1 L188.4,197.1 L188.7,199.0 L189.1,201.0 L189.4,202.9 L189.8,204.9 L190.1,206.8 L190.5,208.8 L190.9,210.8 L191.3,212.7 L191.6,214.7 L192.0,216.6 L192.4,218.6 L192.8,220.5 L193.2,222.5 L193.6,224.5 L193.9,226.4 L194.2,228.4 L194.6,230.3 L194.8,232.3 L195.1,234.2 L195.3,236.2 L195.5,238.2 L195.7,240.1 L195.8,242.1 L196.0,244.0 L196.1,246.0 L196.2,247.9 L196.3,249.9 L196.3,251.9 L196.4,253.8 L196.4,255.8 L196.4,257.7 L196.5,259.7 L196.5,261.6 L196.5,263.6" fill="none" stroke="#44bf70" stroke-width="2.8" stroke-linejoin="round"/>
<path d="M425.5,47.5 L416.8,48.4 L408.3,49.2 L400.0,50.1 L391.8,50.9 L383.7,51.8 L375.8,52.6 L368.0,53.5 L360.4,54.4 L352.9,55.3 L345.6,56.1 L338.4,57.0 L331.4,57.9 L324.5,58.8 L317.8,59.7 L311.2,60.6 L304.8,61.6 L298.5,62.5 L292.3,63.4 L286.4,64.4 L280.5,65.3 L274.8,66.3 L269.3,67.3 L263.9,68.3 L258.6,69.3 L253.5,70.3 L248.6,71.3 L243.7,72.4 L239.1,73.4 L234.6,74.5 L230.2,75.6 L226.0,76.7 L221.9,77.8 L218.0,78.9 L214.2,80.1 L210.6,81.2 L207.1,82.4 L203.8,83.6 L200.6,84.9 L197.6,86.1 L194.7,87.4 L192.0,88.7 L189.4,90.0 L186.9,91.3 L184.6,92.7 L182.5,94.0 L180.5,95.4 L178.7,96.9 L177.0,98.3 L175.4,99.8 L174.0,101.3 L172.7,102.8 L171.6,104.4 L170.7,105.9 L169.8,107.5 L169.2,109.2 L168.7,110.8 L168.3,112.5 L168.1,114.2 L168.0,116.0 L168.1,117.9 L168.2,119.7 L168.5,121.6 L168.8,123.5 L169.2,125.3 L169.7,127.2 L170.3,129.1 L170.8,130.9 L171.4,132.8 L172.1,134.7 L172.7,136.6 L173.4,138.4 L174.1,140.3 L174.8,142.2 L175.5,144.0 L176.3,145.9 L177.0,147.8 L177.8,149.6 L178.6,151.5 L179.4,153.4 L180.2,155.2 L180.9,157.1 L181.7,159.0 L182.5,160.8 L183.2,162.7 L183.9,164.6 L184.5,166.4 L185.0,168.3 L185.5,170.2 L186.0,172.1 L186.4,173.9 L186.7,175.8 L187.0,177.7 L187.3,179.5 L187.6,181.4 L187.9,183.3 L188.2,185.1 L188.5,187.0 L188.8,188.9 L189.2,190.7 L189.5,192.6 L189.9,194.5 L190.3,196.3 L190.6,198.2 L191.0,200.1 L191.3,201.9 L191.7,203.8 L192.1,205.7 L192.5,207.5 L192.8,209.4 L193.2,211.3 L193.6,213.2 L194.0,215.0 L194.4,216.9 L194.7,218.8 L195.1,220.6 L195.5,222.5 L195.9,224.4 L196.3,226.2 L196.6,228.1 L197.0,230.0 L197.3,231.8 L197.7,233.7 L198.0,235.6 L198.3,237.4 L198.6,239.3 L198.9,241.2 L199.1,243.0 L199.3,244.9 L199.5,246.8 L199.6,248.7 L199.7,250.5 L199.8,252.4 L199.9,254.3 L199.9,256.1 L200.0,258.0 L200.0,259.9 L200.0,261.7 L200.0,263.6" fill="none" stroke="#4fc36a" stroke-width="2.7" stroke-linejoin="round"/>
<path d="M425.5,45.0 L416.4,45.8 L407.6,46.5 L398.8,47.3 L390.2,48.1 L381.8,48.9 L373.5,49.7 L365.4,50.4 L357.4,51.2 L349.6,52.0 L341.9,52.8 L334.4,53.6 L327.1,54.4 L319.9,55.2 L312.9,56.0 L306.0,56.8 L299.2,57.7 L292.7,58.5 L286.2,59.3 L280.0,60.2 L273.9,61.0 L267.9,61.9 L262.1,62.8 L256.5,63.7 L251.0,64.5 L245.6,65.4 L240.4,66.3 L235.4,67.3 L230.5,68.2 L225.8,69.1 L221.3,70.1 L216.9,71.1 L212.6,72.0 L208.5,73.0 L204.6,74.0 L200.8,75.0 L197.1,76.1 L193.6,77.1 L190.3,78.2 L187.1,79.2 L184.1,80.3 L181.3,81.4 L178.6,82.6 L176.0,83.7 L173.6,84.9 L171.4,86.0 L169.3,87.2 L167.3,88.4 L165.6,89.7 L163.9,90.9 L162.5,92.2 L161.2,93.5 L160.0,94.8 L159.0,96.1 L158.1,97.4 L157.4,98.8 L156.9,100.2 L156.5,101.6 L156.3,103.0 L156.2,104.5 L156.2,106.5 L156.4,108.5 L156.6,110.5 L156.9,112.6 L157.2,114.6 L157.7,116.6 L158.1,118.6 L158.7,120.6 L159.3,122.6 L159.9,124.6 L160.6,126.7 L161.3,128.7 L162.1,130.7 L162.9,132.7 L163.7,134.7 L164.5,136.7 L165.4,138.7 L166.2,140.8 L167.1,142.8 L168.1,144.8 L169.0,146.8 L170.0,148.8 L171.0,150.8 L172.0,152.8 L173.1,154.8 L174.1,156.9 L175.1,158.9 L176.0,160.9 L176.9,162.9 L177.8,164.9 L178.5,166.9 L179.2,168.9 L179.7,171.0 L180.2,173.0 L180.6,175.0 L180.9,177.0 L181.1,179.0 L181.4,181.0 L181.7,183.0 L182.0,185.1 L182.3,187.1 L182.6,189.1 L183.0,191.1 L183.4,193.1 L183.7,195.1 L184.1,197.1 L184.4,199.2 L184.8,201.2 L185.1,203.2 L185.5,205.2 L185.9,207.2 L186.3,209.2 L186.7,211.2 L187.2,213.3 L187.7,215.3 L188.2,217.3 L188.7,219.3 L189.1,221.3 L189.5,223.3 L189.9,225.3 L190.1,227.3 L190.3,229.4 L190.3,231.4 L190.2,233.4 L190.1,235.4 L189.9,237.4 L189.6,239.4 L189.3,241.4 L189.1,243.5 L188.8,245.5 L188.6,247.5 L188.5,249.5 L188.4,251.5 L188.3,253.5 L188.3,255.5 L188.3,257.6 L188.3,259.6 L188.4,261.6 L188.4,263.6" fill="none" stroke="#39578b" stroke-width="3.3" stroke-linejoin="round"/>
<path d="M425.5,45.8 L416.8,46.7 L408.2,47.5 L399.8,48.4 L391.5,49.2 L383.4,50.1 L375.4,50.9 L367.6,51.8 L359.9,52.7 L352.4,53.5 L345.0,54.4 L337.8,55.3 L330.7,56.2 L323.7,57.1 L317.0,58.0 L310.3,58.9 L303.8,59.8 L297.5,60.7 L291.3,61.7 L285.3,62.6 L279.4,63.5 L273.6,64.5 L268.1,65.5 L262.6,66.4 L257.3,67.4 L252.2,68.4 L247.2,69.5 L242.3,70.5 L237.6,71.5 L233.1,72.6 L228.7,73.7 L224.4,74.7 L220.3,75.8 L216.4,77.0 L212.6,78.1 L208.9,79.2 L205.4,80.4 L202.1,81.6 L198.9,82.8 L195.8,84.0 L192.9,85.2 L190.2,86.5 L187.5,87.8 L185.1,89.1 L182.8,90.4 L180.6,91.7 L178.6,93.1 L176.7,94.5 L175.0,95.9 L173.5,97.3 L172.0,98.8 L170.8,100.2 L169.7,101.7 L168.7,103.3 L167.9,104.8 L167.2,106.4 L166.7,108.0 L166.3,109.6 L166.1,111.3 L166.0,113.0 L166.0,114.9 L166.2,116.8 L166.4,118.7 L166.7,120.6 L167.1,122.5 L167.5,124.4 L168.0,126.3 L168.5,128.3 L169.1,130.2 L169.7,132.1 L170.3,134.0 L171.0,135.9 L171.7,137.8 L172.4,139.7 L173.1,141.6 L173.8,143.5 L174.6,145.4 L175.3,147.3 L176.1,149.2 L176.9,151.1 L177.7,153.0 L178.5,154.9 L179.3,156.8 L180.1,158.8 L180.9,160.7 L181.6,162.6 L182.3,164.5 L183.0,166.4 L183.5,168.3 L184.0,170.2 L184.5,172.1 L184.9,174.0 L185.2,175.9 L185.5,177.8 L185.8,179.7 L186.1,181.6 L186.4,183.5 L186.7,185.4 L187.1,187.3 L187.4,189.3 L187.8,191.2 L188.1,193.1 L188.5,195.0 L188.8,196.9 L189.2,198.8 L189.5,200.7 L189.9,202.6 L190.2,204.5 L190.6,206.4 L190.9,208.3 L191.3,210.2 L191.6,212.1 L192.0,214.0 L192.4,215.9 L192.8,217.8 L193.2,219.8 L193.5,221.7 L193.9,223.6 L194.2,225.5 L194.6,227.4 L194.9,229.3 L195.2,231.2 L195.4,233.1 L195.7,235.0 L195.9,236.9 L196.1,238.8 L196.2,240.7 L196.4,242.6 L196.5,244.5 L196.6,246.4 L196.7,248.3 L196.8,250.3 L196.8,252.2 L196.9,254.1 L196.9,256.0 L196.9,257.9 L197.0,259.8 L197.0,261.7 L197.0,263.6" fill="none" stroke="#33648d" stroke-width="2.5" stroke-linejoin="round"/>
<path d="M425.5,48.5 L417.0,49.4 L408.6,50.3 L400.4,51.2 L392.3,52.1 L384.4,53.0 L376.6,53.9 L368.9,54.8 L361.4,55.7 L354.1,56.6 L346.9,57.6 L339.8,58.5 L332.9,59.4 L326.1,60.4 L319.5,61.3 L313.0,62.3 L306.7,63.3 L300.5,64.2 L294.4,65.2 L288.5,66.2 L282.8,67.2 L277.2,68.2 L271.7,69.3 L266.4,70.3 L261.2,71.4 L256.2,72.5 L251.3,73.5 L246.6,74.6 L242.0,75.8 L237.5,76.9 L233.2,78.0 L229.1,79.2 L225.1,80.4 L221.2,81.6 L217.5,82.8 L213.9,84.0 L210.5,85.3 L207.2,86.6 L204.1,87.9 L201.1,89.2 L198.3,90.5 L195.6,91.9 L193.0,93.3 L190.6,94.7 L188.4,96.1 L186.3,97.6 L184.3,99.1 L182.5,100.6 L180.8,102.1 L179.3,103.7 L177.9,105.3 L176.7,106.9 L175.6,108.6 L174.6,110.3 L173.8,112.0 L173.2,113.7 L172.7,115.5 L172.3,117.3 L172.1,119.1 L172.0,121.0 L172.0,122.8 L172.2,124.6 L172.4,126.4 L172.6,128.2 L173.0,130.0 L173.4,131.8 L173.8,133.6 L174.3,135.4 L174.9,137.2 L175.4,139.1 L176.1,140.9 L176.7,142.7 L177.4,144.5 L178.1,146.3 L178.8,148.1 L179.5,149.9 L180.2,151.7 L180.9,153.5 L181.6,155.3 L182.3,157.1 L183.0,158.9 L183.7,160.7 L184.3,162.5 L184.9,164.3 L185.5,166.1 L186.0,167.9 L186.4,169.7 L186.9,171.5 L187.2,173.3 L187.6,175.2 L187.9,177.0 L188.1,178.8 L188.4,180.6 L188.7,182.4 L189.0,184.2 L189.3,186.0 L189.6,187.8 L190.0,189.6 L190.3,191.4 L190.7,193.2 L191.0,195.0 L191.4,196.8 L191.7,198.6 L192.1,200.4 L192.4,202.2 L192.8,204.0 L193.1,205.8 L193.5,207.6 L193.8,209.4 L194.2,211.3 L194.6,213.1 L194.9,214.9 L195.3,216.7 L195.7,218.5 L196.0,220.3 L196.4,222.1 L196.7,223.9 L197.1,225.7 L197.5,227.5 L197.9,229.3 L198.2,231.1 L198.6,232.9 L199.0,234.7 L199.3,236.5 L199.6,238.3 L200.0,240.1 L200.3,241.9 L200.5,243.7 L200.7,245.5 L200.9,247.4 L201.1,249.2 L201.2,251.0 L201.3,252.8 L201.4,254.6 L201.4,256.4 L201.5,258.2 L201.5,260.0 L201.5,261.8 L201.5,263.6" fill="none" stroke="#7ad151" stroke-width="2.5" stroke-linejoin="round"/>
<path d="M425.5,46.5 L416.8,47.3 L408.2,48.1 L399.8,49.0 L391.5,49.8 L383.4,50.6 L375.4,51.4 L367.6,52.3 L359.9,53.1 L352.3,53.9 L345.0,54.8 L337.7,55.6 L330.6,56.5 L323.7,57.4 L316.9,58.2 L310.3,59.1 L303.8,60.0 L297.5,60.9 L291.3,61.8 L285.2,62.7 L279.3,63.6 L273.6,64.5 L268.0,65.5 L262.6,66.4 L257.3,67.4 L252.1,68.3 L247.1,69.3 L242.3,70.3 L237.6,71.3 L233.0,72.3 L228.6,73.4 L224.4,74.4 L220.3,75.5 L216.3,76.6 L212.5,77.7 L208.9,78.8 L205.4,79.9 L202.0,81.1 L198.8,82.2 L195.7,83.4 L192.8,84.6 L190.1,85.8 L187.5,87.1 L185.0,88.3 L182.7,89.6 L180.5,90.9 L178.5,92.3 L176.6,93.6 L174.9,95.0 L173.4,96.4 L171.9,97.8 L170.7,99.2 L169.6,100.7 L168.6,102.2 L167.8,103.7 L167.1,105.3 L166.6,106.8 L166.2,108.4 L166.0,110.0 L165.9,111.7 L165.9,113.6 L166.1,115.5 L166.3,117.5 L166.6,119.4 L167.0,121.3 L167.4,123.2 L167.9,125.2 L168.4,127.1 L169.0,129.0 L169.6,130.9 L170.2,132.9 L170.9,134.8 L171.6,136.7 L172.3,138.6 L173.0,140.5 L173.8,142.5 L174.5,144.4 L175.3,146.3 L176.1,148.2 L176.9,150.2 L177.7,152.1 L178.6,154.0 L179.4,155.9 L180.2,157.8 L181.0,159.8 L181.8,161.7 L182.5,163.6 L183.2,165.5 L183.8,167.5 L184.3,169.4 L184.8,171.3 L185.2,173.2 L185.6,175.2 L185.9,177.1 L186.2,179.0 L186.5,180.9 L186.8,182.8 L187.1,184.8 L187.4,186.7 L187.8,188.6 L188.1,190.5 L188.5,192.5 L188.9,194.4 L189.3,196.3 L189.6,198.2 L190.0,200.1 L190.4,202.1 L190.7,204.0 L191.1,205.9 L191.5,207.8 L191.9,209.8 L192.3,211.7 L192.7,213.6 L193.1,215.5 L193.5,217.5 L193.9,219.4 L194.3,221.3 L194.7,223.2 L195.1,225.1 L195.5,227.1 L195.8,229.0 L196.2,230.9 L196.5,232.8 L196.8,234.8 L197.0,236.7 L197.3,238.6 L197.5,240.5 L197.7,242.4 L197.9,244.4 L198.0,246.3 L198.1,248.2 L198.2,250.1 L198.3,252.1 L198.4,254.0 L198.4,255.9 L198.4,257.8 L198.5,259.8 L198.5,261.7 L198.5,263.6" fill="none" stroke="#8ed544" stroke-width="2.7" stroke-linejoin="round"/>
<path d="M425.5,49.5 L417.1,50.4 L408.8,51.3 L400.7,52.2 L392.8,53.2 L384.9,54.1 L377.2,55.0 L369.7,55.9 L362.3,56.9 L355.0,57.8 L347.9,58.7 L341.0,59.7 L334.1,60.7 L327.5,61.6 L320.9,62.6 L314.5,63.6 L308.3,64.6 L302.2,65.6 L296.2,66.6 L290.4,67.6 L284.7,68.6 L279.2,69.6 L273.8,70.7 L268.6,71.8 L263.5,72.9 L258.5,74.0 L253.7,75.1 L249.0,76.2 L244.5,77.3 L240.1,78.5 L235.9,79.7 L231.8,80.9 L227.9,82.1 L224.0,83.3 L220.4,84.6 L216.9,85.8 L213.5,87.1 L210.3,88.4 L207.2,89.8 L204.2,91.1 L201.4,92.5 L198.8,93.9 L196.3,95.4 L193.9,96.8 L191.7,98.3 L189.6,99.8 L187.6,101.3 L185.8,102.9 L184.2,104.5 L182.7,106.1 L181.3,107.8 L180.1,109.4 L179.0,111.1 L178.1,112.9 L177.3,114.7 L176.6,116.5 L176.1,118.3 L175.8,120.2 L175.6,122.1 L175.5,124.0 L175.5,125.8 L175.6,127.5 L175.8,129.3 L176.1,131.1 L176.3,132.8 L176.7,134.6 L177.1,136.4 L177.5,138.1 L178.0,139.9 L178.5,141.7 L179.0,143.4 L179.6,145.2 L180.2,147.0 L180.8,148.7 L181.4,150.5 L182.0,152.3 L182.6,154.0 L183.2,155.8 L183.8,157.6 L184.4,159.3 L185.0,161.1 L185.6,162.9 L186.1,164.6 L186.6,166.4 L187.1,168.2 L187.5,169.9 L187.9,171.7 L188.2,173.5 L188.5,175.2 L188.8,177.0 L189.1,178.8 L189.4,180.5 L189.7,182.3 L190.0,184.1 L190.3,185.8 L190.6,187.6 L190.9,189.4 L191.3,191.1 L191.6,192.9 L191.9,194.7 L192.3,196.5 L192.6,198.2 L193.0,200.0 L193.3,201.8 L193.7,203.5 L194.0,205.3 L194.4,207.1 L194.7,208.8 L195.1,210.6 L195.4,212.4 L195.8,214.1 L196.1,215.9 L196.5,217.7 L196.8,219.4 L197.2,221.2 L197.5,223.0 L197.9,224.7 L198.2,226.5 L198.6,228.3 L199.0,230.0 L199.4,231.8 L199.8,233.6 L200.2,235.3 L200.6,237.1 L201.0,238.9 L201.3,240.6 L201.6,242.4 L201.9,244.2 L202.2,245.9 L202.4,247.7 L202.6,249.5 L202.7,251.2 L202.8,253.0 L202.9,254.8 L202.9,256.5 L203.0,258.3 L203.0,260.1 L203.0,261.8 L203.0,263.6" fill="none" stroke="#a2d937" stroke-width="2.5" stroke-linejoin="round"/>
<path d="M425.5,50.5 L417.2,51.5 L409.1,52.4 L401.2,53.4 L393.3,54.4 L385.6,55.5 L378.1,56.5 L370.7,57.6 L363.4,58.7 L356.3,59.8 L349.3,61.0 L342.5,62.1 L335.8,63.3 L329.2,64.5 L322.8,65.7 L316.5,66.9 L310.4,68.2 L304.4,69.4 L298.5,70.7 L292.8,72.0 L287.2,73.4 L281.8,74.7 L276.5,76.1 L271.3,77.5 L266.3,78.9 L261.5,80.3 L256.7,81.7 L252.1,83.2 L247.7,84.6 L243.4,86.1 L239.2,87.7 L235.2,89.2 L231.3,90.7 L227.6,92.3 L224.0,93.9 L220.5,95.5 L217.2,97.1 L214.0,98.7 L211.0,100.4 L208.1,102.1 L205.4,103.7 L202.8,105.4 L200.3,107.2 L198.0,108.9 L195.8,110.7 L193.7,112.4 L191.8,114.2 L190.1,116.0 L188.4,117.9 L187.0,119.7 L185.6,121.6 L184.4,123.4 L183.4,125.3 L182.4,127.2 L181.7,129.1 L181.0,131.1 L180.5,133.0 L180.2,135.0 L180.0,137.0 L179.9,139.0 L179.9,140.6 L180.1,142.2 L180.3,143.7 L180.6,145.3 L180.9,146.9 L181.3,148.5 L181.8,150.0 L182.3,151.6 L182.9,153.2 L183.4,154.8 L184.0,156.3 L184.6,157.9 L185.3,159.5 L185.9,161.1 L186.5,162.7 L187.1,164.2 L187.6,165.8 L188.2,167.4 L188.7,169.0 L189.2,170.5 L189.6,172.1 L189.9,173.7 L190.3,175.3 L190.6,176.9 L190.9,178.4 L191.2,180.0 L191.5,181.6 L191.9,183.2 L192.2,184.7 L192.5,186.3 L192.9,187.9 L193.3,189.5 L193.6,191.0 L194.0,192.6 L194.3,194.2 L194.7,195.8 L195.0,197.4 L195.3,198.9 L195.6,200.5 L195.9,202.1 L196.2,203.7 L196.5,205.2 L196.8,206.8 L197.1,208.4 L197.4,210.0 L197.8,211.6 L198.1,213.1 L198.4,214.7 L198.7,216.3 L199.0,217.9 L199.4,219.4 L199.7,221.0 L200.0,222.6 L200.3,224.2 L200.7,225.7 L201.0,227.3 L201.3,228.9 L201.6,230.5 L201.9,232.1 L202.2,233.6 L202.4,235.2 L202.7,236.8 L203.0,238.4 L203.2,239.9 L203.4,241.5 L203.6,243.1 L203.8,244.7 L203.9,246.3 L204.1,247.8 L204.2,249.4 L204.2,251.0 L204.3,252.6 L204.4,254.1 L204.4,255.7 L204.4,257.3 L204.5,258.9 L204.5,260.4 L204.5,262.0 L204.5,263.6" fill="none" stroke="#bddf26" stroke-width="2.7" stroke-linejoin="round"/>
<path d="M425.5,54.0 L417.6,55.2 L409.8,56.4 L402.1,57.6 L394.6,58.8 L387.3,60.0 L380.0,61.2 L372.9,62.4 L365.9,63.6 L359.1,64.8 L352.4,66.0 L345.8,67.2 L339.4,68.5 L333.1,69.7 L327.0,71.0 L320.9,72.2 L315.0,73.5 L309.3,74.8 L303.7,76.1 L298.2,77.4 L292.8,78.7 L287.6,80.1 L282.6,81.4 L277.6,82.8 L272.8,84.2 L268.1,85.6 L263.6,87.0 L259.2,88.4 L254.9,89.9 L250.8,91.4 L246.8,92.9 L243.0,94.4 L239.2,95.9 L235.7,97.5 L232.2,99.1 L228.9,100.7 L225.7,102.3 L222.7,104.0 L219.7,105.6 L217.0,107.3 L214.3,109.1 L211.8,110.8 L209.5,112.6 L207.2,114.4 L205.1,116.3 L203.2,118.2 L201.3,120.1 L199.6,122.0 L198.1,124.0 L196.7,126.0 L195.4,128.0 L194.2,130.1 L193.2,132.2 L192.3,134.4 L191.6,136.5 L191.0,138.7 L190.5,141.0 L190.2,143.3 L190.0,145.6 L189.9,148.0 L189.9,149.5 L189.9,150.9 L190.0,152.4 L190.0,153.9 L190.0,155.3 L190.1,156.8 L190.2,158.2 L190.3,159.7 L190.4,161.2 L190.6,162.6 L190.7,164.1 L190.9,165.6 L191.1,167.0 L191.3,168.5 L191.5,169.9 L191.7,171.4 L192.0,172.9 L192.3,174.3 L192.6,175.8 L192.9,177.3 L193.2,178.7 L193.5,180.2 L193.8,181.7 L194.1,183.1 L194.4,184.6 L194.7,186.0 L195.0,187.5 L195.3,189.0 L195.6,190.4 L195.9,191.9 L196.2,193.4 L196.5,194.8 L196.8,196.3 L197.0,197.8 L197.3,199.2 L197.6,200.7 L197.9,202.1 L198.2,203.6 L198.5,205.1 L198.8,206.5 L199.1,208.0 L199.3,209.5 L199.6,210.9 L199.9,212.4 L200.2,213.8 L200.5,215.3 L200.8,216.8 L201.1,218.2 L201.4,219.7 L201.7,221.2 L202.0,222.6 L202.3,224.1 L202.6,225.6 L202.9,227.0 L203.2,228.5 L203.5,229.9 L203.8,231.4 L204.1,232.9 L204.4,234.3 L204.7,235.8 L205.0,237.3 L205.2,238.7 L205.5,240.2 L205.7,241.7 L205.9,243.1 L206.1,244.6 L206.3,246.0 L206.5,247.5 L206.6,249.0 L206.7,250.4 L206.8,251.9 L206.8,253.4 L206.9,254.8 L206.9,256.3 L207.0,257.7 L207.0,259.2 L207.0,260.7 L207.0,262.1 L207.0,263.6" fill="none" stroke="#dde326" stroke-width="2.3" stroke-linejoin="round"/>
<path d="M425.5,53.0 L417.3,54.2 L409.3,55.4 L401.4,56.6 L393.7,57.8 L386.1,59.0 L378.6,60.2 L371.3,61.5 L364.1,62.7 L357.0,63.9 L350.1,65.2 L343.4,66.4 L336.7,67.7 L330.3,68.9 L323.9,70.2 L317.7,71.5 L311.6,72.8 L305.7,74.1 L299.9,75.4 L294.2,76.8 L288.7,78.2 L283.4,79.5 L278.1,80.9 L273.0,82.4 L268.1,83.8 L263.3,85.2 L258.6,86.7 L254.1,88.2 L249.7,89.8 L245.4,91.3 L241.3,92.9 L237.3,94.5 L233.5,96.1 L229.8,97.7 L226.2,99.4 L222.8,101.1 L219.5,102.9 L216.4,104.6 L213.4,106.4 L210.5,108.3 L207.8,110.1 L205.2,112.0 L202.8,114.0 L200.5,115.9 L198.3,117.9 L196.3,120.0 L194.4,122.1 L192.6,124.2 L191.0,126.4 L189.6,128.6 L188.3,130.8 L187.1,133.1 L186.0,135.4 L185.1,137.8 L184.3,140.2 L183.7,142.7 L183.2,145.2 L182.9,147.7 L182.7,150.3 L182.6,153.0 L182.7,154.4 L182.8,155.8 L183.1,157.2 L183.4,158.6 L183.8,160.0 L184.2,161.4 L184.7,162.8 L185.2,164.2 L185.8,165.6 L186.3,167.0 L186.8,168.4 L187.2,169.8 L187.7,171.2 L188.1,172.6 L188.4,174.0 L188.7,175.4 L189.0,176.8 L189.3,178.2 L189.6,179.6 L189.9,181.0 L190.2,182.4 L190.5,183.8 L190.8,185.2 L191.2,186.6 L191.5,188.0 L191.8,189.4 L192.2,190.8 L192.5,192.2 L192.9,193.6 L193.2,195.0 L193.5,196.4 L193.8,197.8 L194.2,199.2 L194.5,200.6 L194.8,202.0 L195.1,203.4 L195.3,204.8 L195.6,206.2 L195.9,207.6 L196.2,209.0 L196.5,210.4 L196.8,211.8 L197.1,213.2 L197.4,214.6 L197.7,216.0 L197.9,217.4 L198.2,218.8 L198.5,220.2 L198.8,221.6 L199.2,223.0 L199.5,224.4 L199.8,225.8 L200.1,227.2 L200.5,228.6 L200.8,230.0 L201.1,231.4 L201.5,232.8 L201.9,234.2 L202.2,235.6 L202.6,237.0 L202.9,238.4 L203.2,239.8 L203.5,241.2 L203.8,242.6 L204.1,244.0 L204.3,245.4 L204.5,246.8 L204.7,248.2 L204.8,249.6 L205.0,251.0 L205.0,252.4 L205.1,253.8 L205.2,255.2 L205.2,256.6 L205.3,258.0 L205.3,259.4 L205.3,260.8 L205.3,262.2 L205.3,263.6" fill="none" stroke="#e7e425" stroke-width="3.0" stroke-linejoin="round"/>
<path d="M425.6,11 V54" fill="none" stroke="#e8e31d" stroke-width="3.2"/>
</g>
<g clip-path="url(#cb)">
<path d="M538.0,12.0 L539.0,12.3 L540.0,12.7 L541.1,13.0 L542.1,13.3 L543.1,13.7 L544.1,14.0 L545.1,14.4 L546.2,14.7 L547.2,15.1 L548.2,15.5 L549.2,15.8 L550.2,16.2 L551.2,16.6 L552.2,17.0 L553.2,17.4 L554.2,17.8 L555.2,18.2 L556.2,18.6 L557.2,19.0 L558.2,19.4 L559.2,19.9 L560.2,20.3 L561.2,20.7 L562.2,21.1 L563.1,21.5 L564.1,22.0 L565.1,22.4 L566.1,22.8 L567.1,23.3 L568.1,23.7 L569.1,24.1 L570.0,24.6 L571.0,25.0 L572.0,25.4 L573.0,25.9 L574.0,26.3 L575.0,26.8 L575.9,27.2 L576.9,27.6 L577.9,28.1 L578.9,28.5 L579.9,29.0 L580.8,29.4 L581.8,29.9 L582.8,30.3 L583.8,30.8 L584.8,31.2 L585.7,31.7 L586.7,32.1 L587.7,32.6 L588.7,33.0 L589.6,33.5 L590.6,33.9 L591.6,34.4 L592.6,34.8 L593.6,35.3 L594.5,35.8 L595.5,36.2 L596.5,36.7 L597.5,37.1 L598.4,37.6 L599.4,38.0 L600.4,38.5 L601.4,39.0 L602.3,39.4 L603.3,39.9 L604.3,40.3 L605.2,40.8 L606.2,41.3 L607.2,41.7 L608.1,42.2 L609.1,42.7 L610.1,43.1 L611.1,43.6 L612.0,44.1 L613.0,44.5 L614.0,45.0 L614.9,45.5 L615.9,46.0 L616.8,46.4 L617.8,46.9 L618.8,47.4 L619.7,47.9 L620.7,48.4 L621.6,48.9 L622.6,49.4 L623.5,49.9 L624.5,50.4 L625.4,50.9 L626.4,51.4 L627.3,51.9 L628.3,52.4 L629.2,53.0 L630.2,53.5 L631.1,54.1 L632.0,54.6 L633.0,55.2 L633.9,55.8 L634.8,56.4 L635.7,57.0 L636.5,57.6 L637.4,58.3 L638.2,58.9 L639.0,59.6 L639.8,60.4 L640.6,61.1 L641.3,61.9 L642.0,62.8 L642.6,63.6 L643.3,64.5 L643.8,65.4 L644.4,66.4 L644.9,67.4 L645.4,68.3 L645.8,69.3 L646.2,70.3 L646.5,71.4 L646.8,72.4 L647.1,73.4 L647.4,74.5 L647.6,75.5 L647.8,76.6 L647.9,77.6 L648.1,78.7 L648.2,79.8 L648.3,80.9 L648.4,82.0 L648.5,83.0 L648.6,84.1 L648.6,85.2 L648.7,86.3 L648.8,87.4 L648.9,88.4 L648.9,89.5 L649.0,90.6 L649.1,91.7 L649.1,92.7 L649.2,93.8 L649.3,94.9 L649.3,95.9 L649.4,97.0 L649.4,98.1 L649.4,99.2 L649.5,100.2 L649.5,101.3 L649.5,102.4 L649.5,103.5 L649.6,104.5 L649.6,105.6 L649.6,106.7 L649.6,107.8 L649.7,108.9 L649.7,109.9 L649.8,111.0 L649.8,112.1 L649.9,113.2 L649.9,114.2 L650.0,115.3 L650.1,116.4 L650.2,117.5 L650.3,118.5 L650.3,119.6 L650.4,120.7 L650.5,121.7 L650.6,122.8 L650.7,123.9 L650.8,125.0 L650.9,126.0 L650.9,127.1 L651.0,128.2 L651.1,129.3 L651.1,130.3 L651.2,131.4 L651.3,132.5 L651.3,133.5 L651.4,134.6 L651.4,135.7 L651.5,136.8 L651.5,137.8 L651.6,138.9 L651.6,140.0 L651.7,141.1 L651.7,142.2 L651.8,143.3 L651.8,144.3 L651.9,145.4 L652.0,146.5 L652.1,147.6 L652.2,148.7 L652.3,149.7 L652.5,150.8 L652.6,151.9 L652.8,152.9 L653.0,154.0 L653.2,155.0 L653.5,156.1 L653.8,157.1 L654.1,158.1 L654.4,159.1 L654.7,160.2 L655.1,161.2 L655.5,162.2 L655.9,163.2 L656.3,164.2 L656.7,165.2 L657.1,166.2 L657.5,167.2 L657.9,168.2 L658.3,169.2 L658.7,170.2 L659.1,171.2 L659.4,172.2 L659.8,173.2 L660.1,174.2 L660.5,175.3 L660.8,176.3 L661.2,177.3 L661.5,178.3 L661.8,179.4 L662.2,180.4 L662.5,181.4 L662.8,182.4 L663.1,183.5 L663.5,184.5 L663.8,185.5 L664.1,186.5 L664.4,187.6 L664.7,188.6 L665.0,189.6 L665.3,190.7 L665.6,191.7 L665.9,192.7 L666.2,193.8 L666.5,194.8 L666.8,195.8 L667.1,196.9 L667.4,197.9 L667.7,198.9 L668.0,200.0 L668.3,201.0 L668.6,202.0 L668.9,203.1 L669.2,204.1 L669.5,205.2 L669.8,206.2 L670.1,207.2 L670.3,208.3 L670.6,209.3 L670.9,210.4 L671.2,211.4 L671.4,212.4 L671.7,213.5 L672.0,214.5 L672.2,215.6 L672.5,216.6 L672.7,217.7 L672.9,218.7 L673.2,219.8 L673.4,220.8 L673.6,221.9 L673.8,222.9 L674.0,224.0 L674.2,225.0 L674.4,226.1 L674.6,227.2 L674.8,228.2 L674.9,229.3 L675.1,230.4 L675.2,231.4 L675.4,232.5 L675.5,233.6 L675.7,234.6 L675.8,235.7 L675.9,236.8 L676.0,237.8 L676.1,238.9 L676.3,240.0 L676.4,241.1 L676.5,242.1 L676.6,243.2 L676.7,244.3 L676.7,245.3 L676.8,246.4 L676.9,247.5 L677.0,248.6 L677.1,249.6 L677.2,250.7 L677.2,251.8 L677.3,252.9 L677.4,253.9 L677.5,255.0 L677.5,256.1 L677.6,257.2 L677.7,258.2 L677.7,259.3 L677.8,260.4 L677.9,261.5 L677.9,262.5 L678.0,263.6 L643.2,263.6 L643.1,262.7 L642.9,261.7 L642.8,260.8 L642.7,259.8 L642.5,258.9 L642.4,257.9 L642.3,257.0 L642.1,256.1 L642.0,255.1 L641.9,254.2 L641.7,253.2 L641.6,252.3 L641.5,251.4 L641.3,250.4 L641.2,249.5 L641.1,248.5 L640.9,247.6 L640.8,246.7 L640.6,245.7 L640.5,244.8 L640.4,243.8 L640.2,242.9 L640.1,241.9 L639.9,241.0 L639.8,240.1 L639.6,239.1 L639.5,238.2 L639.4,237.2 L639.2,236.3 L639.1,235.4 L638.9,234.4 L638.8,233.5 L638.6,232.6 L638.5,231.6 L638.3,230.7 L638.1,229.7 L638.0,228.8 L637.8,227.9 L637.7,226.9 L637.5,226.0 L637.4,225.0 L637.2,224.1 L637.1,223.2 L636.9,222.2 L636.8,221.3 L636.6,220.3 L636.5,219.4 L636.3,218.5 L636.2,217.5 L636.0,216.6 L635.9,215.6 L635.8,214.7 L635.6,213.8 L635.5,212.8 L635.3,211.9 L635.2,210.9 L635.1,210.0 L635.0,209.1 L634.8,208.1 L634.7,207.2 L634.6,206.2 L634.4,205.3 L634.3,204.3 L634.2,203.4 L634.1,202.5 L633.9,201.5 L633.8,200.6 L633.7,199.6 L633.5,198.7 L633.4,197.7 L633.3,196.8 L633.1,195.9 L633.0,194.9 L632.8,194.0 L632.7,193.0 L632.6,192.1 L632.4,191.2 L632.3,190.2 L632.1,189.3 L632.0,188.3 L631.8,187.4 L631.7,186.5 L631.6,185.5 L631.4,184.6 L631.3,183.6 L631.1,182.7 L631.0,181.8 L630.9,180.8 L630.7,179.9 L630.6,178.9 L630.5,178.0 L630.4,177.0 L630.3,176.1 L630.2,175.2 L630.1,174.2 L629.9,173.3 L629.8,172.3 L629.7,171.4 L629.6,170.4 L629.5,169.5 L629.4,168.5 L629.3,167.6 L629.2,166.6 L629.1,165.7 L628.9,164.8 L628.8,163.8 L628.7,162.9 L628.5,161.9 L628.4,161.0 L628.2,160.1 L628.0,159.1 L627.9,158.2 L627.7,157.3 L627.5,156.3 L627.3,155.4 L627.0,154.5 L626.8,153.5 L626.6,152.6 L626.3,151.7 L626.0,150.8 L625.8,149.9 L625.5,149.0 L625.2,148.1 L624.9,147.2 L624.6,146.3 L624.2,145.4 L623.9,144.5 L623.6,143.6 L623.2,142.7 L622.8,141.8 L622.5,141.0 L622.1,140.1 L621.8,139.2 L621.4,138.3 L621.0,137.4 L620.6,136.6 L620.3,135.7 L619.9,134.8 L619.6,133.9 L619.2,133.0 L618.9,132.2 L618.5,131.3 L618.2,130.4 L617.8,129.5 L617.5,128.6 L617.1,127.7 L616.8,126.8 L616.4,126.0 L616.1,125.1 L615.7,124.2 L615.4,123.3 L615.0,122.4 L614.7,121.5 L614.3,120.7 L613.9,119.8 L613.6,118.9 L613.2,118.0 L612.8,117.2 L612.4,116.3 L612.1,115.4 L611.7,114.5 L611.3,113.7 L610.9,112.8 L610.4,112.0 L610.0,111.1 L609.6,110.3 L609.2,109.4 L608.7,108.6 L608.3,107.7 L607.8,106.9 L607.3,106.1 L606.9,105.2 L606.4,104.4 L605.9,103.6 L605.4,102.8 L604.9,102.0 L604.4,101.2 L603.9,100.4 L603.4,99.6 L602.8,98.8 L602.3,98.0 L601.8,97.2 L601.3,96.4 L600.7,95.6 L600.2,94.8 L599.6,94.1 L599.1,93.3 L598.6,92.5 L598.0,91.7 L597.5,90.9 L596.9,90.2 L596.4,89.4 L595.8,88.6 L595.3,87.8 L594.7,87.1 L594.2,86.3 L593.6,85.5 L593.0,84.7 L592.5,84.0 L591.9,83.2 L591.4,82.4 L590.8,81.7 L590.2,80.9 L589.7,80.1 L589.1,79.4 L588.6,78.6 L588.0,77.8 L587.4,77.1 L586.9,76.3 L586.3,75.5 L585.7,74.8 L585.2,74.0 L584.6,73.2 L584.1,72.5 L583.5,71.7 L583.0,70.9 L582.4,70.1 L581.8,69.4 L581.3,68.6 L580.7,67.8 L580.2,67.0 L579.6,66.3 L579.1,65.5 L578.5,64.7 L578.0,64.0 L577.4,63.2 L576.8,62.4 L576.3,61.7 L575.7,60.9 L575.1,60.1 L574.5,59.4 L573.9,58.7 L573.3,57.9 L572.7,57.2 L572.1,56.4 L571.5,55.7 L570.9,55.0 L570.3,54.3 L569.7,53.6 L569.0,52.8 L568.4,52.1 L567.8,51.4 L567.1,50.7 L566.5,50.0 L565.9,49.3 L565.2,48.6 L564.6,47.9 L564.0,47.2 L563.3,46.4 L562.7,45.7 L562.1,45.0 L561.4,44.3 L560.8,43.6 L560.2,42.9 L559.5,42.2 L558.9,41.5 L558.3,40.8 L557.6,40.1 L557.0,39.3 L556.4,38.6 L555.8,37.9 L555.2,37.2 L554.6,36.4 L554.0,35.7 L553.4,35.0 L552.8,34.2 L552.2,33.5 L551.6,32.8 L551.0,32.0 L550.4,31.3 L549.8,30.5 L549.2,29.8 L548.6,29.1 L548.0,28.3 L547.4,27.6 L546.8,26.8 L546.2,26.1 L545.6,25.3 L545.1,24.6 L544.5,23.8 L543.9,23.1 L543.3,22.3 L542.7,21.6 L542.1,20.8 L541.5,20.1 L540.8,19.3 L540.2,18.6 L539.6,18.0 L538.9,17.3 L538.2,16.7 L537.5,16.1 L536.7,15.5 L535.9,14.9 L535.1,14.4 L534.3,13.9 L533.5,13.4 L532.7,12.9 L531.8,12.5 L531.0,12.0Z" fill="#808080"/>
<path d="M529.9,11.3 L534.1,12.6 L537.9,13.8 L541.3,15.1 L544.2,16.4 L546.8,17.6 L549.0,18.9 L551.0,20.2 L552.8,21.4 L554.6,22.7 L556.4,24.0 L558.3,25.2 L560.2,26.5 L562.0,27.8 L563.9,29.0 L565.7,30.3 L567.5,31.6 L569.2,32.9 L570.9,34.1 L572.6,35.4 L574.5,36.7 L576.5,37.9 L578.7,39.2 L581.0,40.5 L583.1,41.7 L585.2,43.0 L587.3,44.3 L589.4,45.5 L591.4,46.8 L593.5,48.1 L595.4,49.3 L597.3,50.6 L599.2,51.9 L600.9,53.1 L602.6,54.4 L604.2,55.7 L605.8,56.9 L607.3,58.2 L608.8,59.5 L610.3,60.7 L611.7,62.0 L613.1,63.3 L614.4,64.5 L615.6,65.8 L616.8,67.1 L617.9,68.4 L619.1,69.6 L620.2,70.9 L621.2,72.2 L622.3,73.4 L623.3,74.7 L624.2,76.0 L625.0,77.2 L625.8,78.5 L626.5,79.8 L627.2,81.0 L627.8,82.3 L628.4,83.6 L629.0,84.8 L629.6,86.1 L630.2,87.4 L630.7,88.6 L631.3,89.9 L631.8,91.2 L632.3,92.4 L632.9,93.7 L633.4,95.0 L633.9,96.2 L634.4,97.5 L634.9,98.8 L635.4,100.0 L635.9,101.3 L636.4,102.6 L636.8,103.9 L637.3,105.1 L637.7,106.4 L638.2,107.7 L638.6,108.9 L639.0,110.2 L639.4,111.5 L639.8,112.7 L640.2,114.0 L640.6,115.3 L641.0,116.5 L641.3,117.8 L641.7,119.1 L642.0,120.3 L642.3,121.6 L642.5,122.9 L642.8,124.1 L643.0,125.4 L643.2,126.7 L643.4,127.9 L643.6,129.2 L643.7,130.5 L643.9,131.7 L644.1,133.0 L644.2,134.3 L644.3,135.5 L644.5,136.8 L644.6,138.1 L644.8,139.4 L644.9,140.6 L645.1,141.9 L645.2,143.2 L645.4,144.4 L645.5,145.7 L645.6,147.0 L645.8,148.2 L645.9,149.5 L646.1,150.8 L646.2,152.0 L646.3,153.3 L646.5,154.6 L646.6,155.8 L646.7,157.1 L646.9,158.4 L647.0,159.6 L647.1,160.9 L647.2,162.2 L647.4,163.4 L647.5,164.7 L647.6,166.0 L647.8,167.2 L647.9,168.5 L648.0,169.8 L648.2,171.0 L648.3,172.3 L648.5,173.6 L648.7,174.9 L648.8,176.1 L649.0,177.4 L649.2,178.7 L649.3,179.9 L649.5,181.2 L649.7,182.5 L649.9,183.7 L650.1,185.0 L650.2,186.3 L650.4,187.5 L650.6,188.8 L650.8,190.1 L651.0,191.3 L651.2,192.6 L651.4,193.9 L651.6,195.1 L651.8,196.4 L652.0,197.7 L652.2,198.9 L652.4,200.2 L652.6,201.5 L652.8,202.7 L653.0,204.0 L653.1,205.3 L653.3,206.5 L653.5,207.8 L653.7,209.1 L653.9,210.4 L654.1,211.6 L654.3,212.9 L654.5,214.2 L654.7,215.4 L654.9,216.7 L655.2,218.0 L655.4,219.2 L655.6,220.5 L655.8,221.8 L656.0,223.0 L656.2,224.3 L656.4,225.6 L656.6,226.8 L656.9,228.1 L657.1,229.4 L657.3,230.6 L657.5,231.9 L657.8,233.2 L658.0,234.4 L658.2,235.7 L658.4,237.0 L658.7,238.2 L658.9,239.5 L659.1,240.8 L659.3,242.0 L659.6,243.3 L659.8,244.6 L660.0,245.9 L660.3,247.1 L660.5,248.4 L660.7,249.7 L661.0,250.9 L661.2,252.2 L661.5,253.5 L661.7,254.7 L661.9,256.0 L662.2,257.3 L662.4,258.5 L662.7,259.8 L662.9,261.1 L663.2,262.3 L663.4,263.6" fill="none" stroke="#440154" stroke-width="2.2"/>
<path d="M530.2,11.3 L534.9,12.6 L539.3,13.8 L543.2,15.1 L546.7,16.4 L549.7,17.6 L552.2,18.9 L554.5,20.2 L556.6,21.4 L558.6,22.7 L560.8,24.0 L563.0,25.2 L565.2,26.5 L567.5,27.8 L569.7,29.0 L571.9,30.3 L574.0,31.6 L576.0,32.9 L578.0,34.1 L580.0,35.4 L582.2,36.7 L584.7,37.9 L587.5,39.2 L590.3,40.5 L593.0,41.7 L595.6,43.0 L598.2,44.3 L600.8,45.5 L603.3,46.8 L605.8,48.1 L608.2,49.3 L610.5,50.6 L612.7,51.9 L614.8,53.1 L616.7,54.4 L618.6,55.7 L620.4,56.9 L622.1,58.2 L623.8,59.5 L625.4,60.7 L626.9,62.0 L628.4,63.3 L629.7,64.5 L631.0,65.8 L632.1,67.1 L633.3,68.4 L634.3,69.6 L635.4,70.9 L636.3,72.2 L637.2,73.4 L637.9,74.7 L638.6,76.0 L639.2,77.2 L639.8,78.5 L640.3,79.8 L640.8,81.0 L641.3,82.3 L641.7,83.6 L642.1,84.8 L642.5,86.1 L642.9,87.4 L643.2,88.6 L643.5,89.9 L643.8,91.2 L644.0,92.4 L644.2,93.7 L644.5,95.0 L644.7,96.2 L644.9,97.5 L645.0,98.8 L645.2,100.0 L645.4,101.3 L645.5,102.6 L645.6,103.9 L645.8,105.1 L645.9,106.4 L646.0,107.7 L646.1,108.9 L646.2,110.2 L646.3,111.5 L646.4,112.7 L646.4,114.0 L646.5,115.3 L646.6,116.5 L646.7,117.8 L646.7,119.1 L646.8,120.3 L646.8,121.6 L646.9,122.9 L646.9,124.1 L647.0,125.4 L647.0,126.7 L647.1,127.9 L647.1,129.2 L647.2,130.5 L647.2,131.7 L647.3,133.0 L647.3,134.3 L647.4,135.5 L647.4,136.8 L647.5,138.1 L647.6,139.4 L647.6,140.6 L647.7,141.9 L647.8,143.2 L647.8,144.4 L647.9,145.7 L648.0,147.0 L648.1,148.2 L648.1,149.5 L648.2,150.8 L648.3,152.0 L648.4,153.3 L648.5,154.6 L648.6,155.8 L648.7,157.1 L648.7,158.4 L648.9,159.6 L649.0,160.9 L649.1,162.2 L649.2,163.4 L649.3,164.7 L649.4,166.0 L649.5,167.2 L649.7,168.5 L649.8,169.8 L650.0,171.0 L650.2,172.3 L650.3,173.6 L650.5,174.9 L650.7,176.1 L650.9,177.4 L651.0,178.7 L651.2,179.9 L651.4,181.2 L651.6,182.5 L651.8,183.7 L652.0,185.0 L652.2,186.3 L652.4,187.5 L652.6,188.8 L652.8,190.1 L653.0,191.3 L653.2,192.6 L653.4,193.9 L653.6,195.1 L653.8,196.4 L654.0,197.7 L654.2,198.9 L654.4,200.2 L654.6,201.5 L654.8,202.7 L655.0,204.0 L655.2,205.3 L655.4,206.5 L655.6,207.8 L655.8,209.1 L656.0,210.4 L656.3,211.6 L656.5,212.9 L656.7,214.2 L656.9,215.4 L657.1,216.7 L657.3,218.0 L657.5,219.2 L657.7,220.5 L657.9,221.8 L658.2,223.0 L658.4,224.3 L658.6,225.6 L658.8,226.8 L659.0,228.1 L659.2,229.4 L659.5,230.6 L659.7,231.9 L659.9,233.2 L660.1,234.4 L660.4,235.7 L660.6,237.0 L660.8,238.2 L661.0,239.5 L661.3,240.8 L661.5,242.0 L661.7,243.3 L662.0,244.6 L662.2,245.9 L662.5,247.1 L662.7,248.4 L662.9,249.7 L663.2,250.9 L663.4,252.2 L663.7,253.5 L663.9,254.7 L664.2,256.0 L664.4,257.3 L664.7,258.5 L664.9,259.8 L665.2,261.1 L665.4,262.3 L665.7,263.6" fill="none" stroke="#440457" stroke-width="2.2"/>
<path d="M530.1,11.3 L534.7,12.6 L538.9,13.8 L542.6,15.1 L546.0,16.4 L548.9,17.6 L551.3,18.9 L553.5,20.2 L555.5,21.4 L557.5,22.7 L559.5,24.0 L561.6,25.2 L563.8,26.5 L565.9,27.8 L568.0,29.0 L570.1,30.3 L572.1,31.6 L574.1,32.9 L576.0,34.1 L577.9,35.4 L580.0,36.7 L582.3,37.9 L584.9,39.2 L587.6,40.5 L590.1,41.7 L592.6,43.0 L595.1,44.3 L597.5,45.5 L599.9,46.8 L602.2,48.1 L604.5,49.3 L606.7,50.6 L608.8,51.9 L610.8,53.1 L612.6,54.4 L614.4,55.7 L616.2,56.9 L617.8,58.2 L619.5,59.5 L621.0,60.7 L622.5,62.0 L624.0,63.3 L625.4,64.5 L626.7,65.8 L628.0,67.1 L629.3,68.4 L630.5,69.6 L631.7,70.9 L632.8,72.2 L633.9,73.4 L634.8,74.7 L635.7,76.0 L636.6,77.2 L637.4,78.5 L638.1,79.8 L638.8,81.0 L639.4,82.3 L640.0,83.6 L640.6,84.8 L641.2,86.1 L641.7,87.4 L642.2,88.6 L642.6,89.9 L643.0,91.2 L643.4,92.4 L643.8,93.7 L644.1,95.0 L644.4,96.2 L644.6,97.5 L644.9,98.8 L645.1,100.0 L645.3,101.3 L645.5,102.6 L645.6,103.9 L645.8,105.1 L645.9,106.4 L646.0,107.7 L646.1,108.9 L646.2,110.2 L646.3,111.5 L646.4,112.7 L646.4,114.0 L646.5,115.3 L646.6,116.5 L646.7,117.8 L646.7,119.1 L646.8,120.3 L646.8,121.6 L646.9,122.9 L646.9,124.1 L647.0,125.4 L647.0,126.7 L647.1,127.9 L647.1,129.2 L647.2,130.5 L647.2,131.7 L647.3,133.0 L647.3,134.3 L647.4,135.5 L647.4,136.8 L647.5,138.1 L647.6,139.4 L647.6,140.6 L647.7,141.9 L647.8,143.2 L647.8,144.4 L647.9,145.7 L648.0,147.0 L648.1,148.2 L648.1,149.5 L648.2,150.8 L648.3,152.0 L648.4,153.3 L648.5,154.6 L648.6,155.8 L648.7,157.1 L648.7,158.4 L648.9,159.6 L649.0,160.9 L649.1,162.2 L649.2,163.4 L649.3,164.7 L649.4,166.0 L649.5,167.2 L649.7,168.5 L649.8,169.8 L650.0,171.0 L650.2,172.3 L650.3,173.6 L650.5,174.9 L650.7,176.1 L650.9,177.4 L651.0,178.7 L651.2,179.9 L651.4,181.2 L651.6,182.5 L651.8,183.7 L652.0,185.0 L652.2,186.3 L652.4,187.5 L652.6,188.8 L652.8,190.1 L653.0,191.3 L653.2,192.6 L653.4,193.9 L653.6,195.1 L653.8,196.4 L654.0,197.7 L654.2,198.9 L654.4,200.2 L654.6,201.5 L654.8,202.7 L655.0,204.0 L655.2,205.3 L655.4,206.5 L655.6,207.8 L655.8,209.1 L656.0,210.4 L656.3,211.6 L656.5,212.9 L656.7,214.2 L656.9,215.4 L657.1,216.7 L657.3,218.0 L657.5,219.2 L657.7,220.5 L657.9,221.8 L658.2,223.0 L658.4,224.3 L658.6,225.6 L658.8,226.8 L659.0,228.1 L659.2,229.4 L659.5,230.6 L659.7,231.9 L659.9,233.2 L660.1,234.4 L660.4,235.7 L660.6,237.0 L660.8,238.2 L661.0,239.5 L661.3,240.8 L661.5,242.0 L661.7,243.3 L662.0,244.6 L662.2,245.9 L662.5,247.1 L662.7,248.4 L662.9,249.7 L663.2,250.9 L663.4,252.2 L663.7,253.5 L663.9,254.7 L664.2,256.0 L664.4,257.3 L664.7,258.5 L664.9,259.8 L665.2,261.1 L665.4,262.3 L665.7,263.6" fill="none" stroke="#472777" stroke-width="2.4"/>
<path d="M530.2,11.3 L534.9,12.6 L539.3,13.8 L543.3,15.1 L546.8,16.4 L549.8,17.6 L552.4,18.9 L554.7,20.2 L556.8,21.4 L558.8,22.7 L561.0,24.0 L563.2,25.2 L565.5,26.5 L567.8,27.8 L570.0,29.0 L572.2,30.3 L574.4,31.6 L576.4,32.9 L578.4,34.1 L580.4,35.4 L582.6,36.7 L585.1,37.9 L587.9,39.2 L590.8,40.5 L593.5,41.7 L596.2,43.0 L598.8,44.3 L601.4,45.5 L604.0,46.8 L606.5,48.1 L608.9,49.3 L611.2,50.6 L613.4,51.9 L615.5,53.1 L617.5,54.4 L619.3,55.7 L621.2,56.9 L622.9,58.2 L624.6,59.5 L626.2,60.7 L627.7,62.0 L629.2,63.3 L630.5,64.5 L631.7,65.8 L632.9,67.1 L634.0,68.4 L635.1,69.6 L636.0,70.9 L636.9,72.2 L637.8,73.4 L638.5,74.7 L639.1,76.0 L639.7,77.2 L640.2,78.5 L640.7,79.8 L641.2,81.0 L641.6,82.3 L642.0,83.6 L642.4,84.8 L642.7,86.1 L643.1,87.4 L643.4,88.6 L643.7,89.9 L643.9,91.2 L644.1,92.4 L644.3,93.7 L644.5,95.0 L644.7,96.2 L644.9,97.5 L645.1,98.8 L645.2,100.0 L645.4,101.3 L645.5,102.6 L645.6,103.9 L645.8,105.1 L645.9,106.4 L646.0,107.7 L646.1,108.9 L646.2,110.2 L646.3,111.5 L646.4,112.7 L646.4,114.0 L646.5,115.3 L646.6,116.5 L646.7,117.8 L646.7,119.1 L646.8,120.3 L646.8,121.6 L646.9,122.9 L646.9,124.1 L647.0,125.4 L647.0,126.7 L647.1,127.9 L647.1,129.2 L647.2,130.5 L647.2,131.7 L647.3,133.0 L647.3,134.3 L647.4,135.5 L647.4,136.8 L647.5,138.1 L647.6,139.4 L647.6,140.6 L647.7,141.9 L647.8,143.2 L647.8,144.4 L647.9,145.7 L648.0,147.0 L648.1,148.2 L648.1,149.5 L648.2,150.8 L648.3,152.0 L648.4,153.3 L648.5,154.6 L648.6,155.8 L648.7,157.1 L648.7,158.4 L648.9,159.6 L649.0,160.9 L649.1,162.2 L649.2,163.4 L649.3,164.7 L649.4,166.0 L649.5,167.2 L649.7,168.5 L649.8,169.8 L650.0,171.0 L650.2,172.3 L650.3,173.6 L650.5,174.9 L650.7,176.1 L650.9,177.4 L651.0,178.7 L651.2,179.9 L651.4,181.2 L651.6,182.5 L651.8,183.7 L652.0,185.0 L652.2,186.3 L652.4,187.5 L652.6,188.8 L652.8,190.1 L653.0,191.3 L653.2,192.6 L653.4,193.9 L653.6,195.1 L653.8,196.4 L654.0,197.7 L654.2,198.9 L654.4,200.2 L654.6,201.5 L654.8,202.7 L655.0,204.0 L655.2,205.3 L655.4,206.5 L655.6,207.8 L655.8,209.1 L656.0,210.4 L656.3,211.6 L656.5,212.9 L656.7,214.2 L656.9,215.4 L657.1,216.7 L657.3,218.0 L657.5,219.2 L657.7,220.5 L657.9,221.8 L658.2,223.0 L658.4,224.3 L658.6,225.6 L658.8,226.8 L659.0,228.1 L659.2,229.4 L659.5,230.6 L659.7,231.9 L659.9,233.2 L660.1,234.4 L660.4,235.7 L660.6,237.0 L660.8,238.2 L661.0,239.5 L661.3,240.8 L661.5,242.0 L661.7,243.3 L662.0,244.6 L662.2,245.9 L662.5,247.1 L662.7,248.4 L662.9,249.7 L663.2,250.9 L663.4,252.2 L663.7,253.5 L663.9,254.7 L664.2,256.0 L664.4,257.3 L664.7,258.5 L664.9,259.8 L665.2,261.1 L665.4,262.3 L665.7,263.6" fill="none" stroke="#472a79" stroke-width="2.4"/>
<path d="M530.0,11.3 L534.4,12.6 L538.5,13.8 L542.1,15.1 L545.3,16.4 L548.0,17.6 L550.4,18.9 L552.5,20.2 L554.4,21.4 L556.3,22.7 L558.3,24.0 L560.3,25.2 L562.3,26.5 L564.4,27.8 L566.4,29.0 L568.3,30.3 L570.3,31.6 L572.1,32.9 L573.9,34.1 L575.8,35.4 L577.8,36.7 L579.9,37.9 L582.4,39.2 L584.9,40.5 L587.3,41.7 L589.6,43.0 L591.9,44.3 L594.2,45.5 L596.5,46.8 L598.7,48.1 L600.9,49.3 L602.9,50.6 L604.9,51.9 L606.8,53.1 L608.6,54.4 L610.3,55.7 L612.0,56.9 L613.6,58.2 L615.2,59.5 L616.7,60.7 L618.2,62.0 L619.7,63.3 L621.2,64.5 L622.6,65.8 L623.9,67.1 L625.3,68.4 L626.7,69.6 L628.0,70.9 L629.3,72.2 L630.6,73.4 L631.8,74.7 L632.9,76.0 L633.9,77.2 L634.9,78.5 L635.9,79.8 L636.7,81.0 L637.6,82.3 L638.4,83.6 L639.1,84.8 L639.9,86.1 L640.5,87.4 L641.2,88.6 L641.8,89.9 L642.3,91.2 L642.8,92.4 L643.3,93.7 L643.7,95.0 L644.1,96.2 L644.4,97.5 L644.7,98.8 L645.0,100.0 L645.3,101.3 L645.5,102.6 L645.6,103.9 L645.8,105.1 L645.9,106.4 L646.0,107.7 L646.1,108.9 L646.2,110.2 L646.3,111.5 L646.4,112.7 L646.4,114.0 L646.5,115.3 L646.6,116.5 L646.7,117.8 L646.7,119.1 L646.8,120.3 L646.8,121.6 L646.9,122.9 L646.9,124.1 L647.0,125.4 L647.0,126.7 L647.1,127.9 L647.1,129.2 L647.2,130.5 L647.2,131.7 L647.3,133.0 L647.3,134.3 L647.4,135.5 L647.4,136.8 L647.5,138.1 L647.6,139.4 L647.6,140.6 L647.7,141.9 L647.8,143.2 L647.8,144.4 L647.9,145.7 L648.0,147.0 L648.1,148.2 L648.1,149.5 L648.2,150.8 L648.3,152.0 L648.4,153.3 L648.5,154.6 L648.6,155.8 L648.7,157.1 L648.7,158.4 L648.9,159.6 L649.0,160.9 L649.1,162.2 L649.2,163.4 L649.3,164.7 L649.4,166.0 L649.5,167.2 L649.7,168.5 L649.8,169.8 L650.0,171.0 L650.2,172.3 L650.3,173.6 L650.5,174.9 L650.7,176.1 L650.9,177.4 L651.0,178.7 L651.2,179.9 L651.4,181.2 L651.6,182.5 L651.8,183.7 L652.0,185.0 L652.2,186.3 L652.4,187.5 L652.6,188.8 L652.8,190.1 L653.0,191.3 L653.2,192.6 L653.4,193.9 L653.6,195.1 L653.8,196.4 L654.0,197.7 L654.2,198.9 L654.4,200.2 L654.6,201.5 L654.8,202.7 L655.0,204.0 L655.2,205.3 L655.4,206.5 L655.6,207.8 L655.8,209.1 L656.0,210.4 L656.3,211.6 L656.5,212.9 L656.7,214.2 L656.9,215.4 L657.1,216.7 L657.3,218.0 L657.5,219.2 L657.7,220.5 L657.9,221.8 L658.2,223.0 L658.4,224.3 L658.6,225.6 L658.8,226.8 L659.0,228.1 L659.2,229.4 L659.5,230.6 L659.7,231.9 L659.9,233.2 L660.1,234.4 L660.4,235.7 L660.6,237.0 L660.8,238.2 L661.0,239.5 L661.3,240.8 L661.5,242.0 L661.7,243.3 L662.0,244.6 L662.2,245.9 L662.5,247.1 L662.7,248.4 L662.9,249.7 L663.2,250.9 L663.4,252.2 L663.7,253.5 L663.9,254.7 L664.2,256.0 L664.4,257.3 L664.7,258.5 L664.9,259.8 L665.2,261.1 L665.4,262.3 L665.7,263.6" fill="none" stroke="#462e7a" stroke-width="2.2"/>
<path d="M530.2,11.3 L534.8,12.6 L539.1,13.8 L542.9,15.1 L546.4,16.4 L549.3,17.6 L551.8,18.9 L554.0,20.2 L556.0,21.4 L558.1,22.7 L560.1,24.0 L562.3,25.2 L564.5,26.5 L566.7,27.8 L568.9,29.0 L571.0,30.3 L573.1,31.6 L575.1,32.9 L577.0,34.1 L579.0,35.4 L581.1,36.7 L583.5,37.9 L586.2,39.2 L589.0,40.5 L591.6,41.7 L594.1,43.0 L596.6,44.3 L599.1,45.5 L601.6,46.8 L604.0,48.1 L606.4,49.3 L608.6,50.6 L610.8,51.9 L612.8,53.1 L614.7,54.4 L616.5,55.7 L618.3,56.9 L620.0,58.2 L621.6,59.5 L623.2,60.7 L624.7,62.0 L626.2,63.3 L627.6,64.5 L628.9,65.8 L630.1,67.1 L631.3,68.4 L632.4,69.6 L633.5,70.9 L634.6,72.2 L635.5,73.4 L636.4,74.7 L637.2,76.0 L637.9,77.2 L638.6,78.5 L639.2,79.8 L639.8,81.0 L640.4,82.3 L640.9,83.6 L641.4,84.8 L641.8,86.1 L642.3,87.4 L642.7,88.6 L643.1,89.9 L643.4,91.2 L643.7,92.4 L644.0,93.7 L644.3,95.0 L644.5,96.2 L644.7,97.5 L645.0,98.8 L645.2,100.0 L645.3,101.3 L645.5,102.6 L645.6,103.9 L645.8,105.1 L645.9,106.4 L646.0,107.7 L646.1,108.9 L646.2,110.2 L646.3,111.5 L646.4,112.7 L646.4,114.0 L646.5,115.3 L646.6,116.5 L646.7,117.8 L646.7,119.1 L646.8,120.3 L646.8,121.6 L646.9,122.9 L646.9,124.1 L647.0,125.4 L647.0,126.7 L647.1,127.9 L647.1,129.2 L647.2,130.5 L647.2,131.7 L647.3,133.0 L647.3,134.3 L647.4,135.5 L647.4,136.8 L647.5,138.1 L647.6,139.4 L647.6,140.6 L647.7,141.9 L647.8,143.2 L647.8,144.4 L647.9,145.7 L648.0,147.0 L648.1,148.2 L648.1,149.5 L648.2,150.8 L648.3,152.0 L648.4,153.3 L648.5,154.6 L648.6,155.8 L648.7,157.1 L648.7,158.4 L648.9,159.6 L649.0,160.9 L649.1,162.2 L649.2,163.4 L649.3,164.7 L649.4,166.0 L649.5,167.2 L649.7,168.5 L649.8,169.8 L650.0,171.0 L650.2,172.3 L650.3,173.6 L650.5,174.9 L650.7,176.1 L650.9,177.4 L651.0,178.7 L651.2,179.9 L651.4,181.2 L651.6,182.5 L651.8,183.7 L652.0,185.0 L652.2,186.3 L652.4,187.5 L652.6,188.8 L652.8,190.1 L653.0,191.3 L653.2,192.6 L653.4,193.9 L653.6,195.1 L653.8,196.4 L654.0,197.7 L654.2,198.9 L654.4,200.2 L654.6,201.5 L654.8,202.7 L655.0,204.0 L655.2,205.3 L655.4,206.5 L655.6,207.8 L655.8,209.1 L656.0,210.4 L656.3,211.6 L656.5,212.9 L656.7,214.2 L656.9,215.4 L657.1,216.7 L657.3,218.0 L657.5,219.2 L657.7,220.5 L657.9,221.8 L658.2,223.0 L658.4,224.3 L658.6,225.6 L658.8,226.8 L659.0,228.1 L659.2,229.4 L659.5,230.6 L659.7,231.9 L659.9,233.2 L660.1,234.4 L660.4,235.7 L660.6,237.0 L660.8,238.2 L661.0,239.5 L661.3,240.8 L661.5,242.0 L661.7,243.3 L662.0,244.6 L662.2,245.9 L662.5,247.1 L662.7,248.4 L662.9,249.7 L663.2,250.9 L663.4,252.2 L663.7,253.5 L663.9,254.7 L664.2,256.0 L664.4,257.3 L664.7,258.5 L664.9,259.8 L665.2,261.1 L665.4,262.3 L665.7,263.6" fill="none" stroke="#45317c" stroke-width="2.6"/>
<path d="M530.3,11.3 L535.1,12.6 L539.5,13.8 L543.6,15.1 L547.2,16.4 L550.3,17.6 L552.9,18.9 L555.2,20.2 L557.4,21.4 L559.5,22.7 L561.7,24.0 L564.0,25.2 L566.3,26.5 L568.6,27.8 L570.9,29.0 L573.2,30.3 L575.4,31.6 L577.5,32.9 L579.5,34.1 L581.6,35.4 L583.9,36.7 L586.4,37.9 L589.3,39.2 L592.3,40.5 L595.1,41.7 L597.8,43.0 L600.5,44.3 L603.2,45.5 L605.9,46.8 L608.4,48.1 L610.9,49.3 L613.3,50.6 L615.6,51.9 L617.7,53.1 L619.7,54.4 L621.6,55.7 L623.5,56.9 L625.3,58.2 L627.0,59.5 L628.6,60.7 L630.1,62.0 L631.6,63.3 L632.9,64.5 L634.1,65.8 L635.3,67.1 L636.3,68.4 L637.3,69.6 L638.3,70.9 L639.1,72.2 L639.8,73.4 L640.5,74.7 L641.1,76.0 L641.6,77.2 L642.0,78.5 L642.5,79.8 L642.9,81.0 L643.2,82.3 L643.5,83.6 L643.8,84.8 L644.1,86.1 L644.4,87.4 L644.7,88.6 L644.9,89.9 L645.1,91.2 L645.3,92.4 L645.4,93.7 L645.6,95.0 L645.7,96.2 L645.9,97.5 L646.0,98.8 L646.1,100.0 L646.2,101.3 L646.3,102.6 L646.5,103.9 L646.6,105.1 L646.7,106.4 L646.7,107.7 L646.8,108.9 L646.9,110.2 L647.0,111.5 L647.0,112.7 L647.1,114.0 L647.2,115.3 L647.2,116.5 L647.3,117.8 L647.3,119.1 L647.4,120.3 L647.4,121.6 L647.4,122.9 L647.5,124.1 L647.5,125.4 L647.5,126.7 L647.6,127.9 L647.6,129.2 L647.6,130.5 L647.7,131.7 L647.7,133.0 L647.8,134.3 L647.8,135.5 L647.9,136.8 L647.9,138.1 L648.0,139.4 L648.0,140.6 L648.1,141.9 L648.1,143.2 L648.2,144.4 L648.2,145.7 L648.3,147.0 L648.4,148.2 L648.4,149.5 L648.5,150.8 L648.6,152.0 L648.7,153.3 L648.7,154.6 L648.8,155.8 L648.9,157.1 L649.0,158.4 L649.1,159.6 L649.2,160.9 L649.3,162.2 L649.4,163.4 L649.5,164.7 L649.7,166.0 L649.8,167.2 L649.9,168.5 L650.1,169.8 L650.2,171.0 L650.4,172.3 L650.6,173.6 L650.8,174.9 L650.9,176.1 L651.1,177.4 L651.3,178.7 L651.5,179.9 L651.7,181.2 L651.9,182.5 L652.1,183.7 L652.3,185.0 L652.5,186.3 L652.7,187.5 L652.9,188.8 L653.1,190.1 L653.3,191.3 L653.5,192.6 L653.7,193.9 L653.9,195.1 L654.1,196.4 L654.3,197.7 L654.5,198.9 L654.7,200.2 L654.9,201.5 L655.1,202.7 L655.3,204.0 L655.5,205.3 L655.7,206.5 L655.9,207.8 L656.1,209.1 L656.3,210.4 L656.5,211.6 L656.8,212.9 L657.0,214.2 L657.2,215.4 L657.4,216.7 L657.6,218.0 L657.8,219.2 L658.0,220.5 L658.2,221.8 L658.5,223.0 L658.7,224.3 L658.9,225.6 L659.1,226.8 L659.3,228.1 L659.5,229.4 L659.8,230.6 L660.0,231.9 L660.2,233.2 L660.4,234.4 L660.7,235.7 L660.9,237.0 L661.1,238.2 L661.3,239.5 L661.6,240.8 L661.8,242.0 L662.0,243.3 L662.3,244.6 L662.5,245.9 L662.8,247.1 L663.0,248.4 L663.2,249.7 L663.5,250.9 L663.7,252.2 L664.0,253.5 L664.2,254.7 L664.5,256.0 L664.7,257.3 L665.0,258.5 L665.2,259.8 L665.5,261.1 L665.7,262.3 L666.0,263.6" fill="none" stroke="#414487" stroke-width="2.8"/>
<path d="M529.8,11.3 L534.0,12.6 L537.7,13.8 L540.9,15.1 L543.8,16.4 L546.3,17.6 L548.4,18.9 L550.4,20.2 L552.2,21.4 L553.9,22.7 L555.7,24.0 L557.5,25.2 L559.3,26.5 L561.1,27.8 L562.8,29.0 L564.6,30.3 L566.3,31.6 L568.0,32.9 L569.6,34.1 L571.3,35.4 L573.0,36.7 L575.0,37.9 L577.1,39.2 L579.3,40.5 L581.3,41.7 L583.3,43.0 L585.3,44.3 L587.3,45.5 L589.3,46.8 L591.2,48.1 L593.1,49.3 L594.9,50.6 L596.7,51.9 L598.4,53.1 L600.0,54.4 L601.6,55.7 L603.1,56.9 L604.6,58.2 L606.1,59.5 L607.5,60.7 L608.9,62.0 L610.3,63.3 L611.6,64.5 L612.8,65.8 L614.0,67.1 L615.2,68.4 L616.3,69.6 L617.5,70.9 L618.6,72.2 L619.6,73.4 L620.7,74.7 L621.6,76.0 L622.5,77.2 L623.4,78.5 L624.1,79.8 L624.8,81.0 L625.5,82.3 L626.2,83.6 L626.8,84.8 L627.4,86.1 L628.0,87.4 L628.5,88.6 L629.1,89.9 L629.6,91.2 L630.1,92.4 L630.5,93.7 L631.0,95.0 L631.4,96.2 L631.9,97.5 L632.3,98.8 L632.7,100.0 L633.1,101.3 L633.5,102.6 L633.9,103.9 L634.3,105.1 L634.6,106.4 L635.0,107.7 L635.3,108.9 L635.7,110.2 L636.0,111.5 L636.4,112.7 L636.7,114.0 L637.1,115.3 L637.4,116.5 L637.8,117.8 L638.2,119.1 L638.5,120.3 L638.8,121.6 L639.1,122.9 L639.3,124.1 L639.6,125.4 L639.8,126.7 L640.1,127.9 L640.3,129.2 L640.5,130.5 L640.7,131.7 L640.9,133.0 L641.2,134.3 L641.4,135.5 L641.6,136.8 L641.8,138.1 L642.0,139.4 L642.3,140.6 L642.5,141.9 L642.7,143.2 L642.9,144.4 L643.2,145.7 L643.4,147.0 L643.6,148.2 L643.8,149.5 L643.9,150.8 L644.1,152.0 L644.3,153.3 L644.5,154.6 L644.7,155.8 L644.8,157.1 L645.0,158.4 L645.2,159.6 L645.3,160.9 L645.5,162.2 L645.6,163.4 L645.8,164.7 L645.9,166.0 L646.0,167.2 L646.2,168.5 L646.3,169.8 L646.4,171.0 L646.6,172.3 L646.7,173.6 L646.9,174.9 L647.0,176.1 L647.2,177.4 L647.3,178.7 L647.5,179.9 L647.7,181.2 L647.8,182.5 L648.0,183.7 L648.2,185.0 L648.4,186.3 L648.5,187.5 L648.7,188.8 L648.9,190.1 L649.1,191.3 L649.3,192.6 L649.4,193.9 L649.6,195.1 L649.8,196.4 L650.0,197.7 L650.2,198.9 L650.4,200.2 L650.6,201.5 L650.7,202.7 L650.9,204.0 L651.1,205.3 L651.3,206.5 L651.5,207.8 L651.7,209.1 L651.9,210.4 L652.1,211.6 L652.3,212.9 L652.5,214.2 L652.7,215.4 L652.9,216.7 L653.1,218.0 L653.3,219.2 L653.5,220.5 L653.7,221.8 L653.9,223.0 L654.1,224.3 L654.3,225.6 L654.5,226.8 L654.8,228.1 L655.0,229.4 L655.2,230.6 L655.4,231.9 L655.7,233.2 L655.9,234.4 L656.1,235.7 L656.3,237.0 L656.5,238.2 L656.8,239.5 L657.0,240.8 L657.2,242.0 L657.5,243.3 L657.7,244.6 L657.9,245.9 L658.1,247.1 L658.4,248.4 L658.6,249.7 L658.8,250.9 L659.1,252.2 L659.3,253.5 L659.5,254.7 L659.8,256.0 L660.0,257.3 L660.3,258.5 L660.5,259.8 L660.7,261.1 L661.0,262.3 L661.2,263.6" fill="none" stroke="#39578b" stroke-width="3.0"/>
<path d="M529.6,11.3 L533.4,12.6 L536.8,13.8 L539.6,15.1 L542.1,16.4 L544.3,17.6 L546.3,18.9 L548.0,20.2 L549.7,21.4 L551.2,22.7 L552.8,24.0 L554.3,25.2 L555.9,26.5 L557.4,27.8 L559.0,29.0 L560.5,30.3 L561.9,31.6 L563.4,32.9 L564.8,34.1 L566.3,35.4 L567.9,36.7 L569.5,37.9 L571.3,39.2 L573.0,40.5 L574.7,41.7 L576.4,43.0 L578.1,44.3 L579.7,45.5 L581.4,46.8 L583.0,48.1 L584.6,49.3 L586.1,50.6 L587.7,51.9 L589.1,53.1 L590.6,54.4 L592.0,55.7 L593.4,56.9 L594.8,58.2 L596.1,59.5 L597.5,60.7 L598.8,62.0 L600.1,63.3 L601.4,64.5 L602.6,65.8 L603.8,67.1 L605.1,68.4 L606.3,69.6 L607.5,70.9 L608.7,72.2 L610.0,73.4 L611.2,74.7 L612.3,76.0 L613.4,77.2 L614.4,78.5 L615.4,79.8 L616.2,81.0 L617.1,82.3 L617.9,83.6 L618.6,84.8 L619.4,86.1 L620.1,87.4 L620.8,88.6 L621.5,89.9 L622.2,91.2 L622.8,92.4 L623.4,93.7 L624.0,95.0 L624.6,96.2 L625.2,97.5 L625.8,98.8 L626.3,100.0 L626.8,101.3 L627.4,102.6 L627.9,103.9 L628.4,105.1 L628.9,106.4 L629.3,107.7 L629.8,108.9 L630.3,110.2 L630.8,111.5 L631.3,112.7 L631.8,114.0 L632.3,115.3 L632.8,116.5 L633.3,117.8 L633.8,119.1 L634.3,120.3 L634.7,121.6 L635.1,122.9 L635.5,124.1 L635.8,125.4 L636.2,126.7 L636.5,127.9 L636.8,129.2 L637.1,130.5 L637.4,131.7 L637.7,133.0 L638.0,134.3 L638.3,135.5 L638.6,136.8 L638.9,138.1 L639.2,139.4 L639.5,140.6 L639.8,141.9 L640.1,143.2 L640.4,144.4 L640.7,145.7 L641.0,147.0 L641.3,148.2 L641.5,149.5 L641.8,150.8 L642.0,152.0 L642.2,153.3 L642.5,154.6 L642.7,155.8 L642.9,157.1 L643.1,158.4 L643.3,159.6 L643.5,160.9 L643.7,162.2 L643.8,163.4 L644.0,164.7 L644.1,166.0 L644.2,167.2 L644.4,168.5 L644.5,169.8 L644.6,171.0 L644.7,172.3 L644.9,173.6 L645.0,174.9 L645.1,176.1 L645.3,177.4 L645.4,178.7 L645.6,179.9 L645.7,181.2 L645.9,182.5 L646.1,183.7 L646.2,185.0 L646.4,186.3 L646.6,187.5 L646.7,188.8 L646.9,190.1 L647.1,191.3 L647.2,192.6 L647.4,193.9 L647.6,195.1 L647.8,196.4 L647.9,197.7 L648.1,198.9 L648.3,200.2 L648.5,201.5 L648.6,202.7 L648.8,204.0 L649.0,205.3 L649.2,206.5 L649.4,207.8 L649.6,209.1 L649.8,210.4 L649.9,211.6 L650.1,212.9 L650.3,214.2 L650.5,215.4 L650.7,216.7 L650.9,218.0 L651.1,219.2 L651.3,220.5 L651.5,221.8 L651.7,223.0 L651.9,224.3 L652.2,225.6 L652.4,226.8 L652.6,228.1 L652.8,229.4 L653.0,230.6 L653.3,231.9 L653.5,233.2 L653.7,234.4 L653.9,235.7 L654.1,237.0 L654.4,238.2 L654.6,239.5 L654.8,240.8 L655.0,242.0 L655.3,243.3 L655.5,244.6 L655.7,245.9 L655.9,247.1 L656.2,248.4 L656.4,249.7 L656.6,250.9 L656.8,252.2 L657.1,253.5 L657.3,254.7 L657.5,256.0 L657.8,257.3 L658.0,258.5 L658.2,259.8 L658.5,261.1 L658.7,262.3 L658.9,263.6" fill="none" stroke="#33648d" stroke-width="2.2"/>
<path d="M530.0,11.3 L534.4,12.6 L538.3,13.8 L541.9,15.1 L545.0,16.4 L547.7,17.6 L550.0,18.9 L552.1,20.2 L554.0,21.4 L555.8,22.7 L557.7,24.0 L559.7,25.2 L561.7,26.5 L563.7,27.8 L565.6,29.0 L567.6,30.3 L569.5,31.6 L571.3,32.9 L573.1,34.1 L574.9,35.4 L576.8,36.7 L578.9,37.9 L581.4,39.2 L583.8,40.5 L586.1,41.7 L588.4,43.0 L590.6,44.3 L592.8,45.5 L595.0,46.8 L597.2,48.1 L599.3,49.3 L601.3,50.6 L603.3,51.9 L605.1,53.1 L606.9,54.4 L608.6,55.7 L610.2,56.9 L611.8,58.2 L613.4,59.5 L614.9,60.7 L616.3,62.0 L617.7,63.3 L619.0,64.5 L620.2,65.8 L621.4,67.1 L622.5,68.4 L623.6,69.6 L624.7,70.9 L625.7,72.2 L626.7,73.4 L627.6,74.7 L628.4,76.0 L629.2,77.2 L629.9,78.5 L630.5,79.8 L631.1,81.0 L631.7,82.3 L632.2,83.6 L632.7,84.8 L633.2,86.1 L633.7,87.4 L634.2,88.6 L634.7,89.9 L635.1,91.2 L635.6,92.4 L636.0,93.7 L636.4,95.0 L636.9,96.2 L637.3,97.5 L637.7,98.8 L638.1,100.0 L638.5,101.3 L638.9,102.6 L639.2,103.9 L639.6,105.1 L640.0,106.4 L640.3,107.7 L640.7,108.9 L641.0,110.2 L641.3,111.5 L641.6,112.7 L641.9,114.0 L642.2,115.3 L642.5,116.5 L642.8,117.8 L643.1,119.1 L643.3,120.3 L643.5,121.6 L643.8,122.9 L643.9,124.1 L644.1,125.4 L644.3,126.7 L644.4,127.9 L644.6,129.2 L644.7,130.5 L644.9,131.7 L645.0,133.0 L645.1,134.3 L645.2,135.5 L645.3,136.8 L645.4,138.1 L645.6,139.4 L645.7,140.6 L645.8,141.9 L645.9,143.2 L646.1,144.4 L646.2,145.7 L646.3,147.0 L646.4,148.2 L646.5,149.5 L646.7,150.8 L646.8,152.0 L646.9,153.3 L647.0,154.6 L647.1,155.8 L647.3,157.1 L647.4,158.4 L647.5,159.6 L647.6,160.9 L647.8,162.2 L647.9,163.4 L648.0,164.7 L648.1,166.0 L648.3,167.2 L648.4,168.5 L648.5,169.8 L648.7,171.0 L648.9,172.3 L649.0,173.6 L649.2,174.9 L649.3,176.1 L649.5,177.4 L649.7,178.7 L649.9,179.9 L650.0,181.2 L650.2,182.5 L650.4,183.7 L650.6,185.0 L650.8,186.3 L651.0,187.5 L651.2,188.8 L651.4,190.1 L651.6,191.3 L651.8,192.6 L652.0,193.9 L652.2,195.1 L652.4,196.4 L652.6,197.7 L652.8,198.9 L653.0,200.2 L653.2,201.5 L653.3,202.7 L653.5,204.0 L653.7,205.3 L653.9,206.5 L654.1,207.8 L654.3,209.1 L654.5,210.4 L654.7,211.6 L654.9,212.9 L655.1,214.2 L655.4,215.4 L655.6,216.7 L655.8,218.0 L656.0,219.2 L656.2,220.5 L656.4,221.8 L656.6,223.0 L656.8,224.3 L657.0,225.6 L657.3,226.8 L657.5,228.1 L657.7,229.4 L657.9,230.6 L658.1,231.9 L658.4,233.2 L658.6,234.4 L658.8,235.7 L659.0,237.0 L659.3,238.2 L659.5,239.5 L659.7,240.8 L660.0,242.0 L660.2,243.3 L660.4,244.6 L660.7,245.9 L660.9,247.1 L661.1,248.4 L661.4,249.7 L661.6,250.9 L661.8,252.2 L662.1,253.5 L662.3,254.7 L662.6,256.0 L662.8,257.3 L663.1,258.5 L663.3,259.8 L663.6,261.1 L663.8,262.3 L664.1,263.6" fill="none" stroke="#2c738e" stroke-width="2.6"/>
<path d="M530.1,11.3 L534.5,12.6 L538.6,13.8 L542.3,15.1 L545.6,16.4 L548.4,17.6 L550.8,18.9 L552.9,20.2 L554.9,21.4 L556.8,22.7 L558.8,24.0 L560.9,25.2 L562.9,26.5 L565.0,27.8 L567.1,29.0 L569.1,30.3 L571.0,31.6 L572.9,32.9 L574.8,34.1 L576.7,35.4 L578.7,36.7 L580.9,37.9 L583.5,39.2 L586.1,40.5 L588.5,41.7 L590.9,43.0 L593.3,44.3 L595.6,45.5 L597.9,46.8 L600.2,48.1 L602.4,49.3 L604.5,50.6 L606.6,51.9 L608.5,53.1 L610.3,54.4 L612.0,55.7 L613.7,56.9 L615.4,58.2 L617.0,59.5 L618.5,60.7 L620.0,62.0 L621.4,63.3 L622.7,64.5 L623.9,65.8 L625.1,67.1 L626.2,68.4 L627.3,69.6 L628.3,70.9 L629.3,72.2 L630.2,73.4 L631.0,74.7 L631.8,76.0 L632.5,77.2 L633.1,78.5 L633.7,79.8 L634.2,81.0 L634.8,82.3 L635.2,83.6 L635.7,84.8 L636.1,86.1 L636.6,87.4 L637.0,88.6 L637.4,89.9 L637.8,91.2 L638.2,92.4 L638.5,93.7 L638.9,95.0 L639.2,96.2 L639.6,97.5 L639.9,98.8 L640.2,100.0 L640.6,101.3 L640.9,102.6 L641.2,103.9 L641.5,105.1 L641.8,106.4 L642.0,107.7 L642.3,108.9 L642.6,110.2 L642.8,111.5 L643.1,112.7 L643.3,114.0 L643.5,115.3 L643.8,116.5 L644.0,117.8 L644.2,119.1 L644.4,120.3 L644.6,121.6 L644.7,122.9 L644.9,124.1 L645.0,125.4 L645.2,126.7 L645.3,127.9 L645.4,129.2 L645.5,130.5 L645.6,131.7 L645.7,133.0 L645.8,134.3 L645.9,135.5 L646.0,136.8 L646.1,138.1 L646.2,139.4 L646.3,140.6 L646.4,141.9 L646.5,143.2 L646.6,144.4 L646.7,145.7 L646.8,147.0 L647.0,148.2 L647.1,149.5 L647.2,150.8 L647.3,152.0 L647.4,153.3 L647.5,154.6 L647.6,155.8 L647.7,157.1 L647.8,158.4 L647.9,159.6 L648.1,160.9 L648.2,162.2 L648.3,163.4 L648.4,164.7 L648.5,166.0 L648.7,167.2 L648.8,168.5 L649.0,169.8 L649.1,171.0 L649.3,172.3 L649.4,173.6 L649.6,174.9 L649.8,176.1 L649.9,177.4 L650.1,178.7 L650.3,179.9 L650.5,181.2 L650.7,182.5 L650.9,183.7 L651.0,185.0 L651.2,186.3 L651.4,187.5 L651.6,188.8 L651.8,190.1 L652.0,191.3 L652.2,192.6 L652.4,193.9 L652.6,195.1 L652.8,196.4 L653.0,197.7 L653.2,198.9 L653.4,200.2 L653.6,201.5 L653.8,202.7 L654.0,204.0 L654.2,205.3 L654.4,206.5 L654.6,207.8 L654.8,209.1 L655.0,210.4 L655.2,211.6 L655.4,212.9 L655.6,214.2 L655.8,215.4 L656.0,216.7 L656.3,218.0 L656.5,219.2 L656.7,220.5 L656.9,221.8 L657.1,223.0 L657.3,224.3 L657.5,225.6 L657.8,226.8 L658.0,228.1 L658.2,229.4 L658.4,230.6 L658.6,231.9 L658.9,233.2 L659.1,234.4 L659.3,235.7 L659.5,237.0 L659.8,238.2 L660.0,239.5 L660.2,240.8 L660.4,242.0 L660.7,243.3 L660.9,244.6 L661.2,245.9 L661.4,247.1 L661.6,248.4 L661.9,249.7 L662.1,250.9 L662.3,252.2 L662.6,253.5 L662.8,254.7 L663.1,256.0 L663.3,257.3 L663.6,258.5 L663.8,259.8 L664.1,261.1 L664.3,262.3 L664.6,263.6" fill="none" stroke="#287d8e" stroke-width="2.4"/>
<path d="M530.1,11.3 L534.5,12.6 L538.6,13.8 L542.3,15.1 L545.5,16.4 L548.3,17.6 L550.7,18.9 L552.8,20.2 L554.8,21.4 L556.7,22.7 L558.7,24.0 L560.8,25.2 L562.8,26.5 L564.9,27.8 L566.9,29.0 L568.9,30.3 L570.9,31.6 L572.8,32.9 L574.6,34.1 L576.5,35.4 L578.5,36.7 L580.7,37.9 L583.3,39.2 L585.9,40.5 L588.2,41.7 L590.6,43.0 L593.0,44.3 L595.3,45.5 L597.6,46.8 L599.9,48.1 L602.1,49.3 L604.2,50.6 L606.2,51.9 L608.1,53.1 L609.9,54.4 L611.7,55.7 L613.4,56.9 L615.0,58.2 L616.6,59.5 L618.2,60.7 L619.6,62.0 L621.0,63.3 L622.3,64.5 L623.6,65.8 L624.7,67.1 L625.8,68.4 L626.9,69.6 L627.9,70.9 L628.9,72.2 L629.8,73.4 L630.7,74.7 L631.4,76.0 L632.1,77.2 L632.8,78.5 L633.4,79.8 L633.9,81.0 L634.4,82.3 L634.9,83.6 L635.4,84.8 L635.8,86.1 L636.3,87.4 L636.7,88.6 L637.1,89.9 L637.5,91.2 L637.9,92.4 L638.3,93.7 L638.6,95.0 L639.0,96.2 L639.3,97.5 L639.7,98.8 L640.0,100.0 L640.3,101.3 L640.7,102.6 L641.0,103.9 L641.3,105.1 L641.6,106.4 L641.9,107.7 L642.1,108.9 L642.4,110.2 L642.7,111.5 L642.9,112.7 L643.2,114.0 L643.4,115.3 L643.6,116.5 L643.9,117.8 L644.1,119.1 L644.3,120.3 L644.5,121.6 L644.6,122.9 L644.8,124.1 L644.9,125.4 L645.1,126.7 L645.2,127.9 L645.3,129.2 L645.4,130.5 L645.5,131.7 L645.6,133.0 L645.7,134.3 L645.8,135.5 L645.9,136.8 L646.0,138.1 L646.1,139.4 L646.2,140.6 L646.4,141.9 L646.5,143.2 L646.6,144.4 L646.7,145.7 L646.8,147.0 L646.9,148.2 L647.0,149.5 L647.1,150.8 L647.2,152.0 L647.3,153.3 L647.4,154.6 L647.6,155.8 L647.7,157.1 L647.8,158.4 L647.9,159.6 L648.0,160.9 L648.1,162.2 L648.3,163.4 L648.4,164.7 L648.5,166.0 L648.6,167.2 L648.8,168.5 L648.9,169.8 L649.1,171.0 L649.2,172.3 L649.4,173.6 L649.6,174.9 L649.7,176.1 L649.9,177.4 L650.1,178.7 L650.3,179.9 L650.4,181.2 L650.6,182.5 L650.8,183.7 L651.0,185.0 L651.2,186.3 L651.4,187.5 L651.6,188.8 L651.8,190.1 L652.0,191.3 L652.2,192.6 L652.4,193.9 L652.6,195.1 L652.8,196.4 L653.0,197.7 L653.2,198.9 L653.4,200.2 L653.6,201.5 L653.8,202.7 L654.0,204.0 L654.2,205.3 L654.4,206.5 L654.6,207.8 L654.8,209.1 L655.0,210.4 L655.2,211.6 L655.4,212.9 L655.6,214.2 L655.8,215.4 L656.0,216.7 L656.2,218.0 L656.4,219.2 L656.6,220.5 L656.8,221.8 L657.1,223.0 L657.3,224.3 L657.5,225.6 L657.7,226.8 L657.9,228.1 L658.1,229.4 L658.4,230.6 L658.6,231.9 L658.8,233.2 L659.0,234.4 L659.3,235.7 L659.5,237.0 L659.7,238.2 L659.9,239.5 L660.2,240.8 L660.4,242.0 L660.6,243.3 L660.9,244.6 L661.1,245.9 L661.3,247.1 L661.6,248.4 L661.8,249.7 L662.1,250.9 L662.3,252.2 L662.5,253.5 L662.8,254.7 L663.0,256.0 L663.3,257.3 L663.5,258.5 L663.8,259.8 L664.0,261.1 L664.3,262.3 L664.5,263.6" fill="none" stroke="#26828d" stroke-width="2.2"/>
<path d="M530.0,11.3 L534.3,12.6 L538.2,13.8 L541.6,15.1 L544.7,16.4 L547.3,17.6 L549.6,18.9 L551.6,20.2 L553.5,21.4 L555.3,22.7 L557.2,24.0 L559.2,25.2 L561.1,26.5 L563.0,27.8 L564.9,29.0 L566.8,30.3 L568.7,31.6 L570.4,32.9 L572.2,34.1 L574.0,35.4 L575.9,36.7 L578.0,37.9 L580.3,39.2 L582.7,40.5 L584.9,41.7 L587.1,43.0 L589.3,44.3 L591.5,45.5 L593.6,46.8 L595.7,48.1 L597.8,49.3 L599.7,50.6 L601.6,51.9 L603.4,53.1 L605.1,54.4 L606.8,55.7 L608.4,56.9 L610.0,58.2 L611.6,59.5 L613.0,60.7 L614.5,62.0 L615.8,63.3 L617.1,64.5 L618.4,65.8 L619.5,67.1 L620.7,68.4 L621.8,69.6 L622.9,70.9 L623.9,72.2 L624.9,73.4 L625.8,74.7 L626.7,76.0 L627.5,77.2 L628.2,78.5 L628.9,79.8 L629.5,81.0 L630.1,82.3 L630.7,83.6 L631.2,84.8 L631.8,86.1 L632.3,87.4 L632.8,88.6 L633.3,89.9 L633.8,91.2 L634.3,92.4 L634.8,93.7 L635.2,95.0 L635.7,96.2 L636.1,97.5 L636.6,98.8 L637.0,100.0 L637.5,101.3 L637.9,102.6 L638.3,103.9 L638.7,105.1 L639.1,106.4 L639.5,107.7 L639.8,108.9 L640.2,110.2 L640.6,111.5 L640.9,112.7 L641.2,114.0 L641.6,115.3 L641.9,116.5 L642.2,117.8 L642.5,119.1 L642.8,120.3 L643.0,121.6 L643.3,122.9 L643.5,124.1 L643.7,125.4 L643.9,126.7 L644.0,127.9 L644.2,129.2 L644.3,130.5 L644.5,131.7 L644.6,133.0 L644.7,134.3 L644.9,135.5 L645.0,136.8 L645.1,138.1 L645.2,139.4 L645.4,140.6 L645.5,141.9 L645.6,143.2 L645.8,144.4 L645.9,145.7 L646.0,147.0 L646.2,148.2 L646.3,149.5 L646.4,150.8 L646.5,152.0 L646.7,153.3 L646.8,154.6 L646.9,155.8 L647.1,157.1 L647.2,158.4 L647.3,159.6 L647.4,160.9 L647.6,162.2 L647.7,163.4 L647.8,164.7 L647.9,166.0 L648.1,167.2 L648.2,168.5 L648.3,169.8 L648.5,171.0 L648.6,172.3 L648.8,173.6 L649.0,174.9 L649.1,176.1 L649.3,177.4 L649.5,178.7 L649.6,179.9 L649.8,181.2 L650.0,182.5 L650.2,183.7 L650.4,185.0 L650.6,186.3 L650.8,187.5 L651.0,188.8 L651.2,190.1 L651.4,191.3 L651.6,192.6 L651.7,193.9 L651.9,195.1 L652.1,196.4 L652.3,197.7 L652.5,198.9 L652.7,200.2 L652.9,201.5 L653.1,202.7 L653.3,204.0 L653.5,205.3 L653.7,206.5 L653.9,207.8 L654.1,209.1 L654.3,210.4 L654.5,211.6 L654.7,212.9 L654.9,214.2 L655.1,215.4 L655.3,216.7 L655.5,218.0 L655.7,219.2 L655.9,220.5 L656.2,221.8 L656.4,223.0 L656.6,224.3 L656.8,225.6 L657.0,226.8 L657.2,228.1 L657.5,229.4 L657.7,230.6 L657.9,231.9 L658.1,233.2 L658.3,234.4 L658.6,235.7 L658.8,237.0 L659.0,238.2 L659.2,239.5 L659.5,240.8 L659.7,242.0 L659.9,243.3 L660.2,244.6 L660.4,245.9 L660.6,247.1 L660.9,248.4 L661.1,249.7 L661.4,250.9 L661.6,252.2 L661.8,253.5 L662.1,254.7 L662.3,256.0 L662.6,257.3 L662.8,258.5 L663.1,259.8 L663.3,261.1 L663.6,262.3 L663.8,263.6" fill="none" stroke="#26848d" stroke-width="2.6"/>
<path d="M529.9,11.3 L534.2,12.6 L538.0,13.8 L541.4,15.1 L544.4,16.4 L547.0,17.6 L549.2,18.9 L551.2,20.2 L553.0,21.4 L554.8,22.7 L556.7,24.0 L558.6,25.2 L560.4,26.5 L562.3,27.8 L564.2,29.0 L566.0,30.3 L567.8,31.6 L569.6,32.9 L571.3,34.1 L573.0,35.4 L574.9,36.7 L576.9,37.9 L579.2,39.2 L581.5,40.5 L583.6,41.7 L585.7,43.0 L587.9,44.3 L590.0,45.5 L592.1,46.8 L594.1,48.1 L596.1,49.3 L598.0,50.6 L599.9,51.9 L601.6,53.1 L603.3,54.4 L604.9,55.7 L606.5,56.9 L608.1,58.2 L609.6,59.5 L611.1,60.7 L612.5,62.0 L613.9,63.3 L615.2,64.5 L616.4,65.8 L617.6,67.1 L618.7,68.4 L619.8,69.6 L620.9,70.9 L622.0,72.2 L623.0,73.4 L624.0,74.7 L624.9,76.0 L625.7,77.2 L626.5,78.5 L627.2,79.8 L627.9,81.0 L628.5,82.3 L629.1,83.6 L629.7,84.8 L630.2,86.1 L630.8,87.4 L631.3,88.6 L631.9,89.9 L632.4,91.2 L632.9,92.4 L633.4,93.7 L633.9,95.0 L634.4,96.2 L634.9,97.5 L635.4,98.8 L635.9,100.0 L636.4,101.3 L636.8,102.6 L637.3,103.9 L637.7,105.1 L638.1,106.4 L638.5,107.7 L639.0,108.9 L639.4,110.2 L639.7,111.5 L640.1,112.7 L640.5,114.0 L640.9,115.3 L641.2,116.5 L641.6,117.8 L641.9,119.1 L642.2,120.3 L642.5,121.6 L642.7,122.9 L643.0,124.1 L643.2,125.4 L643.4,126.7 L643.6,127.9 L643.8,129.2 L643.9,130.5 L644.1,131.7 L644.2,133.0 L644.4,134.3 L644.5,135.5 L644.6,136.8 L644.8,138.1 L644.9,139.4 L645.0,140.6 L645.2,141.9 L645.3,143.2 L645.5,144.4 L645.6,145.7 L645.8,147.0 L645.9,148.2 L646.0,149.5 L646.2,150.8 L646.3,152.0 L646.4,153.3 L646.6,154.6 L646.7,155.8 L646.8,157.1 L646.9,158.4 L647.1,159.6 L647.2,160.9 L647.3,162.2 L647.5,163.4 L647.6,164.7 L647.7,166.0 L647.8,167.2 L648.0,168.5 L648.1,169.8 L648.3,171.0 L648.4,172.3 L648.6,173.6 L648.7,174.9 L648.9,176.1 L649.1,177.4 L649.2,178.7 L649.4,179.9 L649.6,181.2 L649.8,182.5 L650.0,183.7 L650.1,185.0 L650.3,186.3 L650.5,187.5 L650.7,188.8 L650.9,190.1 L651.1,191.3 L651.3,192.6 L651.5,193.9 L651.7,195.1 L651.9,196.4 L652.1,197.7 L652.3,198.9 L652.5,200.2 L652.7,201.5 L652.9,202.7 L653.1,204.0 L653.2,205.3 L653.4,206.5 L653.6,207.8 L653.8,209.1 L654.0,210.4 L654.2,211.6 L654.4,212.9 L654.6,214.2 L654.8,215.4 L655.1,216.7 L655.3,218.0 L655.5,219.2 L655.7,220.5 L655.9,221.8 L656.1,223.0 L656.3,224.3 L656.5,225.6 L656.8,226.8 L657.0,228.1 L657.2,229.4 L657.4,230.6 L657.6,231.9 L657.9,233.2 L658.1,234.4 L658.3,235.7 L658.5,237.0 L658.8,238.2 L659.0,239.5 L659.2,240.8 L659.4,242.0 L659.7,243.3 L659.9,244.6 L660.1,245.9 L660.4,247.1 L660.6,248.4 L660.8,249.7 L661.1,250.9 L661.3,252.2 L661.6,253.5 L661.8,254.7 L662.1,256.0 L662.3,257.3 L662.5,258.5 L662.8,259.8 L663.0,261.1 L663.3,262.3 L663.5,263.6" fill="none" stroke="#21918c" stroke-width="2.6"/>
<path d="M529.8,11.3 L533.9,12.6 L537.5,13.8 L540.7,15.1 L543.5,16.4 L545.9,17.6 L548.0,18.9 L549.9,20.2 L551.7,21.4 L553.4,22.7 L555.1,24.0 L556.9,25.2 L558.7,26.5 L560.4,27.8 L562.1,29.0 L563.8,30.3 L565.5,31.6 L567.1,32.9 L568.7,34.1 L570.4,35.4 L572.1,36.7 L574.0,37.9 L576.0,39.2 L578.1,40.5 L580.1,41.7 L582.1,43.0 L584.0,44.3 L585.9,45.5 L587.8,46.8 L589.7,48.1 L591.5,49.3 L593.3,50.6 L595.1,51.9 L596.7,53.1 L598.3,54.4 L599.8,55.7 L601.4,56.9 L602.8,58.2 L604.3,59.5 L605.7,60.7 L607.1,62.0 L608.4,63.3 L609.7,64.5 L611.0,65.8 L612.2,67.1 L613.3,68.4 L614.5,69.6 L615.6,70.9 L616.8,72.2 L617.9,73.4 L618.9,74.7 L619.9,76.0 L620.9,77.2 L621.7,78.5 L622.5,79.8 L623.3,81.0 L624.0,82.3 L624.7,83.6 L625.3,84.8 L625.9,86.1 L626.5,87.4 L627.1,88.6 L627.7,89.9 L628.2,91.2 L628.7,92.4 L629.2,93.7 L629.7,95.0 L630.2,96.2 L630.7,97.5 L631.1,98.8 L631.5,100.0 L632.0,101.3 L632.4,102.6 L632.8,103.9 L633.2,105.1 L633.6,106.4 L633.9,107.7 L634.3,108.9 L634.7,110.2 L635.1,111.5 L635.4,112.7 L635.8,114.0 L636.2,115.3 L636.6,116.5 L637.0,117.8 L637.4,119.1 L637.7,120.3 L638.1,121.6 L638.4,122.9 L638.6,124.1 L638.9,125.4 L639.2,126.7 L639.4,127.9 L639.7,129.2 L639.9,130.5 L640.1,131.7 L640.4,133.0 L640.6,134.3 L640.8,135.5 L641.0,136.8 L641.3,138.1 L641.5,139.4 L641.8,140.6 L642.0,141.9 L642.2,143.2 L642.5,144.4 L642.7,145.7 L642.9,147.0 L643.1,148.2 L643.3,149.5 L643.5,150.8 L643.7,152.0 L643.9,153.3 L644.1,154.6 L644.3,155.8 L644.5,157.1 L644.7,158.4 L644.8,159.6 L645.0,160.9 L645.2,162.2 L645.3,163.4 L645.4,164.7 L645.6,166.0 L645.7,167.2 L645.8,168.5 L646.0,169.8 L646.1,171.0 L646.2,172.3 L646.4,173.6 L646.5,174.9 L646.7,176.1 L646.8,177.4 L647.0,178.7 L647.1,179.9 L647.3,181.2 L647.5,182.5 L647.6,183.7 L647.8,185.0 L648.0,186.3 L648.2,187.5 L648.4,188.8 L648.5,190.1 L648.7,191.3 L648.9,192.6 L649.1,193.9 L649.3,195.1 L649.4,196.4 L649.6,197.7 L649.8,198.9 L650.0,200.2 L650.2,201.5 L650.4,202.7 L650.5,204.0 L650.7,205.3 L650.9,206.5 L651.1,207.8 L651.3,209.1 L651.5,210.4 L651.7,211.6 L651.9,212.9 L652.1,214.2 L652.3,215.4 L652.5,216.7 L652.7,218.0 L652.9,219.2 L653.1,220.5 L653.3,221.8 L653.5,223.0 L653.7,224.3 L653.9,225.6 L654.2,226.8 L654.4,228.1 L654.6,229.4 L654.8,230.6 L655.0,231.9 L655.3,233.2 L655.5,234.4 L655.7,235.7 L655.9,237.0 L656.2,238.2 L656.4,239.5 L656.6,240.8 L656.8,242.0 L657.1,243.3 L657.3,244.6 L657.5,245.9 L657.7,247.1 L658.0,248.4 L658.2,249.7 L658.4,250.9 L658.7,252.2 L658.9,253.5 L659.1,254.7 L659.4,256.0 L659.6,257.3 L659.8,258.5 L660.1,259.8 L660.3,261.1 L660.6,262.3 L660.8,263.6" fill="none" stroke="#229c88" stroke-width="2.6"/>
<path d="M529.7,11.3 L533.7,12.6 L537.3,13.8 L540.3,15.1 L543.0,16.4 L545.4,17.6 L547.5,18.9 L549.3,20.2 L551.0,21.4 L552.7,22.7 L554.3,24.0 L556.0,25.2 L557.7,26.5 L559.4,27.8 L561.1,29.0 L562.7,30.3 L564.3,31.6 L565.9,32.9 L567.4,34.1 L569.0,35.4 L570.7,36.7 L572.5,37.9 L574.5,39.2 L576.4,40.5 L578.3,41.7 L580.2,43.0 L582.0,44.3 L583.9,45.5 L585.7,46.8 L587.5,48.1 L589.2,49.3 L590.9,50.6 L592.6,51.9 L594.2,53.1 L595.7,54.4 L597.2,55.7 L598.7,56.9 L600.2,58.2 L601.6,59.5 L603.0,60.7 L604.3,62.0 L605.7,63.3 L606.9,64.5 L608.2,65.8 L609.4,67.1 L610.6,68.4 L611.7,69.6 L612.9,70.9 L614.1,72.2 L615.3,73.4 L616.4,74.7 L617.4,76.0 L618.4,77.2 L619.3,78.5 L620.1,79.8 L620.9,81.0 L621.7,82.3 L622.4,83.6 L623.1,84.8 L623.8,86.1 L624.4,87.4 L625.0,88.6 L625.6,89.9 L626.2,91.2 L626.8,92.4 L627.3,93.7 L627.8,95.0 L628.3,96.2 L628.8,97.5 L629.3,98.8 L629.8,100.0 L630.3,101.3 L630.7,102.6 L631.1,103.9 L631.6,105.1 L632.0,106.4 L632.4,107.7 L632.8,108.9 L633.2,110.2 L633.6,111.5 L634.1,112.7 L634.5,114.0 L634.9,115.3 L635.3,116.5 L635.8,117.8 L636.2,119.1 L636.6,120.3 L636.9,121.6 L637.3,122.9 L637.6,124.1 L637.9,125.4 L638.2,126.7 L638.4,127.9 L638.7,129.2 L639.0,130.5 L639.2,131.7 L639.5,133.0 L639.7,134.3 L640.0,135.5 L640.2,136.8 L640.5,138.1 L640.8,139.4 L641.0,140.6 L641.3,141.9 L641.5,143.2 L641.8,144.4 L642.0,145.7 L642.3,147.0 L642.5,148.2 L642.7,149.5 L642.9,150.8 L643.2,152.0 L643.4,153.3 L643.6,154.6 L643.8,155.8 L644.0,157.1 L644.1,158.4 L644.3,159.6 L644.5,160.9 L644.7,162.2 L644.8,163.4 L644.9,164.7 L645.1,166.0 L645.2,167.2 L645.3,168.5 L645.5,169.8 L645.6,171.0 L645.7,172.3 L645.9,173.6 L646.0,174.9 L646.2,176.1 L646.3,177.4 L646.5,178.7 L646.6,179.9 L646.8,181.2 L646.9,182.5 L647.1,183.7 L647.3,185.0 L647.5,186.3 L647.6,187.5 L647.8,188.8 L648.0,190.1 L648.2,191.3 L648.3,192.6 L648.5,193.9 L648.7,195.1 L648.9,196.4 L649.1,197.7 L649.2,198.9 L649.4,200.2 L649.6,201.5 L649.8,202.7 L650.0,204.0 L650.2,205.3 L650.3,206.5 L650.5,207.8 L650.7,209.1 L650.9,210.4 L651.1,211.6 L651.3,212.9 L651.5,214.2 L651.7,215.4 L651.9,216.7 L652.1,218.0 L652.3,219.2 L652.5,220.5 L652.7,221.8 L652.9,223.0 L653.1,224.3 L653.3,225.6 L653.6,226.8 L653.8,228.1 L654.0,229.4 L654.2,230.6 L654.4,231.9 L654.7,233.2 L654.9,234.4 L655.1,235.7 L655.3,237.0 L655.6,238.2 L655.8,239.5 L656.0,240.8 L656.2,242.0 L656.5,243.3 L656.7,244.6 L656.9,245.9 L657.1,247.1 L657.4,248.4 L657.6,249.7 L657.8,250.9 L658.1,252.2 L658.3,253.5 L658.5,254.7 L658.8,256.0 L659.0,257.3 L659.2,258.5 L659.5,259.8 L659.7,261.1 L659.9,262.3 L660.2,263.6" fill="none" stroke="#29ad80" stroke-width="2.5"/>
<path d="M529.7,11.3 L533.6,12.6 L537.0,13.8 L539.9,15.1 L542.5,16.4 L544.8,17.6 L546.8,18.9 L548.6,20.2 L550.2,21.4 L551.8,22.7 L553.4,24.0 L555.0,25.2 L556.7,26.5 L558.3,27.8 L559.8,29.0 L561.4,30.3 L562.9,31.6 L564.4,32.9 L565.9,34.1 L567.5,35.4 L569.0,36.7 L570.7,37.9 L572.6,39.2 L574.4,40.5 L576.2,41.7 L578.0,43.0 L579.7,44.3 L581.4,45.5 L583.2,46.8 L584.8,48.1 L586.5,49.3 L588.1,50.6 L589.7,51.9 L591.2,53.1 L592.7,54.4 L594.2,55.7 L595.6,56.9 L597.0,58.2 L598.4,59.5 L599.8,60.7 L601.1,62.0 L602.4,63.3 L603.7,64.5 L604.9,65.8 L606.1,67.1 L607.4,68.4 L608.5,69.6 L609.8,70.9 L611.0,72.2 L612.2,73.4 L613.3,74.7 L614.4,76.0 L615.5,77.2 L616.5,78.5 L617.4,79.8 L618.2,81.0 L619.0,82.3 L619.8,83.6 L620.5,84.8 L621.2,86.1 L621.9,87.4 L622.6,88.6 L623.2,89.9 L623.8,91.2 L624.4,92.4 L625.0,93.7 L625.6,95.0 L626.2,96.2 L626.7,97.5 L627.2,98.8 L627.8,100.0 L628.3,101.3 L628.8,102.6 L629.2,103.9 L629.7,105.1 L630.2,106.4 L630.6,107.7 L631.1,108.9 L631.5,110.2 L632.0,111.5 L632.4,112.7 L632.9,114.0 L633.4,115.3 L633.8,116.5 L634.3,117.8 L634.8,119.1 L635.2,120.3 L635.6,121.6 L636.0,122.9 L636.3,124.1 L636.7,125.4 L637.0,126.7 L637.3,127.9 L637.6,129.2 L637.9,130.5 L638.2,131.7 L638.4,133.0 L638.7,134.3 L639.0,135.5 L639.3,136.8 L639.6,138.1 L639.8,139.4 L640.1,140.6 L640.4,141.9 L640.7,143.2 L641.0,144.4 L641.3,145.7 L641.5,147.0 L641.8,148.2 L642.0,149.5 L642.2,150.8 L642.5,152.0 L642.7,153.3 L642.9,154.6 L643.1,155.8 L643.3,157.1 L643.5,158.4 L643.7,159.6 L643.9,160.9 L644.1,162.2 L644.2,163.4 L644.4,164.7 L644.5,166.0 L644.6,167.2 L644.8,168.5 L644.9,169.8 L645.0,171.0 L645.2,172.3 L645.3,173.6 L645.4,174.9 L645.6,176.1 L645.7,177.4 L645.9,178.7 L646.0,179.9 L646.2,181.2 L646.3,182.5 L646.5,183.7 L646.7,185.0 L646.8,186.3 L647.0,187.5 L647.2,188.8 L647.3,190.1 L647.5,191.3 L647.7,192.6 L647.9,193.9 L648.1,195.1 L648.2,196.4 L648.4,197.7 L648.6,198.9 L648.8,200.2 L648.9,201.5 L649.1,202.7 L649.3,204.0 L649.5,205.3 L649.7,206.5 L649.9,207.8 L650.0,209.1 L650.2,210.4 L650.4,211.6 L650.6,212.9 L650.8,214.2 L651.0,215.4 L651.2,216.7 L651.4,218.0 L651.6,219.2 L651.8,220.5 L652.0,221.8 L652.2,223.0 L652.4,224.3 L652.6,225.6 L652.9,226.8 L653.1,228.1 L653.3,229.4 L653.5,230.6 L653.7,231.9 L654.0,233.2 L654.2,234.4 L654.4,235.7 L654.6,237.0 L654.9,238.2 L655.1,239.5 L655.3,240.8 L655.5,242.0 L655.8,243.3 L656.0,244.6 L656.2,245.9 L656.4,247.1 L656.7,248.4 L656.9,249.7 L657.1,250.9 L657.4,252.2 L657.6,253.5 L657.8,254.7 L658.0,256.0 L658.3,257.3 L658.5,258.5 L658.7,259.8 L659.0,261.1 L659.2,262.3 L659.4,263.6" fill="none" stroke="#44bf70" stroke-width="2.5"/>
<path d="M529.5,11.3 L533.3,12.6 L536.5,13.8 L539.2,15.1 L541.6,16.4 L543.7,17.6 L545.6,18.9 L547.3,20.2 L548.9,21.4 L550.4,22.7 L551.8,24.0 L553.3,25.2 L554.8,26.5 L556.3,27.8 L557.7,29.0 L559.1,30.3 L560.6,31.6 L561.9,32.9 L563.3,34.1 L564.8,35.4 L566.2,36.7 L567.8,37.9 L569.4,39.2 L571.0,40.5 L572.6,41.7 L574.2,43.0 L575.7,44.3 L577.3,45.5 L578.8,46.8 L580.4,48.1 L581.9,49.3 L583.3,50.6 L584.8,51.9 L586.2,53.1 L587.6,54.4 L588.9,55.7 L590.3,56.9 L591.6,58.2 L593.0,59.5 L594.3,60.7 L595.6,62.0 L596.9,63.3 L598.1,64.5 L599.4,65.8 L600.6,67.1 L601.8,68.4 L603.1,69.6 L604.3,70.9 L605.6,72.2 L606.9,73.4 L608.2,74.7 L609.4,76.0 L610.5,77.2 L611.6,78.5 L612.6,79.8 L613.5,81.0 L614.4,82.3 L615.2,83.6 L616.0,84.8 L616.8,86.1 L617.6,87.4 L618.4,88.6 L619.1,89.9 L619.8,91.2 L620.5,92.4 L621.1,93.7 L621.8,95.0 L622.4,96.2 L623.1,97.5 L623.7,98.8 L624.3,100.0 L624.8,101.3 L625.4,102.6 L626.0,103.9 L626.5,105.1 L627.0,106.4 L627.6,107.7 L628.1,108.9 L628.6,110.2 L629.1,111.5 L629.6,112.7 L630.2,114.0 L630.7,115.3 L631.3,116.5 L631.8,117.8 L632.4,119.1 L632.9,120.3 L633.4,121.6 L633.8,122.9 L634.2,124.1 L634.6,125.4 L635.0,126.7 L635.3,127.9 L635.7,129.2 L636.0,130.5 L636.3,131.7 L636.7,133.0 L637.0,134.3 L637.3,135.5 L637.6,136.8 L638.0,138.1 L638.3,139.4 L638.6,140.6 L639.0,141.9 L639.3,143.2 L639.6,144.4 L639.9,145.7 L640.2,147.0 L640.5,148.2 L640.8,149.5 L641.1,150.8 L641.3,152.0 L641.6,153.3 L641.8,154.6 L642.0,155.8 L642.3,157.1 L642.5,158.4 L642.7,159.6 L642.9,160.9 L643.1,162.2 L643.2,163.4 L643.4,164.7 L643.5,166.0 L643.7,167.2 L643.8,168.5 L643.9,169.8 L644.0,171.0 L644.2,172.3 L644.3,173.6 L644.4,174.9 L644.5,176.1 L644.7,177.4 L644.8,178.7 L645.0,179.9 L645.1,181.2 L645.3,182.5 L645.4,183.7 L645.6,185.0 L645.8,186.3 L645.9,187.5 L646.1,188.8 L646.3,190.1 L646.4,191.3 L646.6,192.6 L646.8,193.9 L646.9,195.1 L647.1,196.4 L647.3,197.7 L647.5,198.9 L647.6,200.2 L647.8,201.5 L648.0,202.7 L648.2,204.0 L648.3,205.3 L648.5,206.5 L648.7,207.8 L648.9,209.1 L649.1,210.4 L649.3,211.6 L649.4,212.9 L649.6,214.2 L649.8,215.4 L650.0,216.7 L650.2,218.0 L650.4,219.2 L650.6,220.5 L650.8,221.8 L651.0,223.0 L651.2,224.3 L651.5,225.6 L651.7,226.8 L651.9,228.1 L652.1,229.4 L652.3,230.6 L652.6,231.9 L652.8,233.2 L653.0,234.4 L653.2,235.7 L653.4,237.0 L653.7,238.2 L653.9,239.5 L654.1,240.8 L654.3,242.0 L654.6,243.3 L654.8,244.6 L655.0,245.9 L655.2,247.1 L655.5,248.4 L655.7,249.7 L655.9,250.9 L656.1,252.2 L656.4,253.5 L656.6,254.7 L656.8,256.0 L657.0,257.3 L657.3,258.5 L657.5,259.8 L657.7,261.1 L658.0,262.3 L658.2,263.6" fill="none" stroke="#4fc36a" stroke-width="2.4"/>
<path d="M529.4,11.3 L533.0,12.6 L536.0,13.8 L538.6,15.1 L540.8,16.4 L542.8,17.6 L544.5,18.9 L546.1,20.2 L547.6,21.4 L549.0,22.7 L550.4,24.0 L551.8,25.2 L553.1,26.5 L554.5,27.8 L555.8,29.0 L557.1,30.3 L558.4,31.6 L559.7,32.9 L561.0,34.1 L562.3,35.4 L563.6,36.7 L565.0,37.9 L566.5,39.2 L567.9,40.5 L569.3,41.7 L570.7,43.0 L572.1,44.3 L573.5,45.5 L574.9,46.8 L576.2,48.1 L577.6,49.3 L578.9,50.6 L580.3,51.9 L581.6,53.1 L582.9,54.4 L584.1,55.7 L585.4,56.9 L586.7,58.2 L588.0,59.5 L589.2,60.7 L590.5,62.0 L591.8,63.3 L593.0,64.5 L594.3,65.8 L595.5,67.1 L596.8,68.4 L598.0,69.6 L599.4,70.9 L600.7,72.2 L602.1,73.4 L603.4,74.7 L604.7,76.0 L606.0,77.2 L607.1,78.5 L608.2,79.8 L609.2,81.0 L610.1,82.3 L611.1,83.6 L612.0,84.8 L612.8,86.1 L613.7,87.4 L614.5,88.6 L615.3,89.9 L616.1,91.2 L616.8,92.4 L617.6,93.7 L618.3,95.0 L619.0,96.2 L619.7,97.5 L620.4,98.8 L621.1,100.0 L621.7,101.3 L622.3,102.6 L622.9,103.9 L623.6,105.1 L624.1,106.4 L624.7,107.7 L625.3,108.9 L625.9,110.2 L626.5,111.5 L627.1,112.7 L627.7,114.0 L628.3,115.3 L628.9,116.5 L629.6,117.8 L630.2,119.1 L630.8,120.3 L631.3,121.6 L631.8,122.9 L632.3,124.1 L632.7,125.4 L633.1,126.7 L633.5,127.9 L633.9,129.2 L634.3,130.5 L634.7,131.7 L635.1,133.0 L635.4,134.3 L635.8,135.5 L636.1,136.8 L636.5,138.1 L636.9,139.4 L637.3,140.6 L637.6,141.9 L638.0,143.2 L638.4,144.4 L638.7,145.7 L639.1,147.0 L639.4,148.2 L639.7,149.5 L640.0,150.8 L640.2,152.0 L640.5,153.3 L640.8,154.6 L641.0,155.8 L641.3,157.1 L641.5,158.4 L641.8,159.6 L642.0,160.9 L642.2,162.2 L642.3,163.4 L642.5,164.7 L642.6,166.0 L642.8,167.2 L642.9,168.5 L643.0,169.8 L643.1,171.0 L643.2,172.3 L643.4,173.6 L643.5,174.9 L643.6,176.1 L643.7,177.4 L643.9,178.7 L644.0,179.9 L644.2,181.2 L644.3,182.5 L644.5,183.7 L644.6,185.0 L644.8,186.3 L644.9,187.5 L645.1,188.8 L645.3,190.1 L645.4,191.3 L645.6,192.6 L645.8,193.9 L645.9,195.1 L646.1,196.4 L646.3,197.7 L646.4,198.9 L646.6,200.2 L646.8,201.5 L646.9,202.7 L647.1,204.0 L647.3,205.3 L647.5,206.5 L647.6,207.8 L647.8,209.1 L648.0,210.4 L648.2,211.6 L648.4,212.9 L648.6,214.2 L648.8,215.4 L648.9,216.7 L649.1,218.0 L649.3,219.2 L649.5,220.5 L649.7,221.8 L649.9,223.0 L650.2,224.3 L650.4,225.6 L650.6,226.8 L650.8,228.1 L651.0,229.4 L651.2,230.6 L651.5,231.9 L651.7,233.2 L651.9,234.4 L652.1,235.7 L652.4,237.0 L652.6,238.2 L652.8,239.5 L653.0,240.8 L653.2,242.0 L653.5,243.3 L653.7,244.6 L653.9,245.9 L654.1,247.1 L654.4,248.4 L654.6,249.7 L654.8,250.9 L655.0,252.2 L655.2,253.5 L655.5,254.7 L655.7,256.0 L655.9,257.3 L656.1,258.5 L656.4,259.8 L656.6,261.1 L656.8,262.3 L657.1,263.6" fill="none" stroke="#7ad151" stroke-width="2.2"/>
<path d="M529.5,11.3 L533.1,12.6 L536.3,13.8 L538.9,15.1 L541.3,16.4 L543.3,17.6 L545.1,18.9 L546.8,20.2 L548.3,21.4 L549.7,22.7 L551.2,24.0 L552.6,25.2 L554.1,26.5 L555.5,27.8 L556.8,29.0 L558.2,30.3 L559.6,31.6 L560.9,32.9 L562.3,34.1 L563.6,35.4 L565.0,36.7 L566.5,37.9 L568.1,39.2 L569.6,40.5 L571.1,41.7 L572.6,43.0 L574.1,44.3 L575.6,45.5 L577.0,46.8 L578.5,48.1 L579.9,49.3 L581.3,50.6 L582.7,51.9 L584.1,53.1 L585.4,54.4 L586.8,55.7 L588.1,56.9 L589.4,58.2 L590.7,59.5 L592.0,60.7 L593.3,62.0 L594.5,63.3 L595.8,64.5 L597.1,65.8 L598.3,67.1 L599.5,68.4 L600.8,69.6 L602.1,70.9 L603.4,72.2 L604.7,73.4 L606.0,74.7 L607.3,76.0 L608.5,77.2 L609.6,78.5 L610.6,79.8 L611.5,81.0 L612.4,82.3 L613.3,83.6 L614.2,84.8 L615.0,86.1 L615.8,87.4 L616.6,88.6 L617.4,89.9 L618.1,91.2 L618.8,92.4 L619.5,93.7 L620.2,95.0 L620.9,96.2 L621.5,97.5 L622.2,98.8 L622.8,100.0 L623.4,101.3 L624.0,102.6 L624.6,103.9 L625.2,105.1 L625.7,106.4 L626.3,107.7 L626.8,108.9 L627.4,110.2 L627.9,111.5 L628.5,112.7 L629.0,114.0 L629.6,115.3 L630.2,116.5 L630.8,117.8 L631.4,119.1 L631.9,120.3 L632.5,121.6 L632.9,122.9 L633.3,124.1 L633.8,125.4 L634.1,126.7 L634.5,127.9 L634.9,129.2 L635.2,130.5 L635.6,131.7 L635.9,133.0 L636.3,134.3 L636.6,135.5 L637.0,136.8 L637.3,138.1 L637.7,139.4 L638.0,140.6 L638.4,141.9 L638.7,143.2 L639.1,144.4 L639.4,145.7 L639.7,147.0 L640.0,148.2 L640.3,149.5 L640.6,150.8 L640.8,152.0 L641.1,153.3 L641.3,154.6 L641.6,155.8 L641.8,157.1 L642.1,158.4 L642.3,159.6 L642.5,160.9 L642.7,162.2 L642.8,163.4 L643.0,164.7 L643.1,166.0 L643.3,167.2 L643.4,168.5 L643.5,169.8 L643.6,171.0 L643.7,172.3 L643.9,173.6 L644.0,174.9 L644.1,176.1 L644.3,177.4 L644.4,178.7 L644.5,179.9 L644.7,181.2 L644.8,182.5 L645.0,183.7 L645.2,185.0 L645.3,186.3 L645.5,187.5 L645.6,188.8 L645.8,190.1 L646.0,191.3 L646.1,192.6 L646.3,193.9 L646.5,195.1 L646.6,196.4 L646.8,197.7 L647.0,198.9 L647.2,200.2 L647.3,201.5 L647.5,202.7 L647.7,204.0 L647.9,205.3 L648.0,206.5 L648.2,207.8 L648.4,209.1 L648.6,210.4 L648.8,211.6 L649.0,212.9 L649.2,214.2 L649.3,215.4 L649.5,216.7 L649.7,218.0 L649.9,219.2 L650.1,220.5 L650.3,221.8 L650.5,223.0 L650.8,224.3 L651.0,225.6 L651.2,226.8 L651.4,228.1 L651.6,229.4 L651.8,230.6 L652.1,231.9 L652.3,233.2 L652.5,234.4 L652.7,235.7 L653.0,237.0 L653.2,238.2 L653.4,239.5 L653.6,240.8 L653.8,242.0 L654.1,243.3 L654.3,244.6 L654.5,245.9 L654.7,247.1 L655.0,248.4 L655.2,249.7 L655.4,250.9 L655.6,252.2 L655.9,253.5 L656.1,254.7 L656.3,256.0 L656.5,257.3 L656.8,258.5 L657.0,259.8 L657.2,261.1 L657.5,262.3 L657.7,263.6" fill="none" stroke="#8ed544" stroke-width="2.4"/>
<path d="M529.4,11.3 L532.9,12.6 L535.9,13.8 L538.4,15.1 L540.5,16.4 L542.4,17.6 L544.1,18.9 L545.7,20.2 L547.2,21.4 L548.5,22.7 L549.9,24.0 L551.2,25.2 L552.5,26.5 L553.8,27.8 L555.1,29.0 L556.3,30.3 L557.6,31.6 L558.8,32.9 L560.1,34.1 L561.4,35.4 L562.7,36.7 L564.0,37.9 L565.4,39.2 L566.8,40.5 L568.1,41.7 L569.5,43.0 L570.8,44.3 L572.1,45.5 L573.4,46.8 L574.7,48.1 L576.0,49.3 L577.3,50.6 L578.6,51.9 L579.9,53.1 L581.1,54.4 L582.4,55.7 L583.7,56.9 L584.9,58.2 L586.2,59.5 L587.4,60.7 L588.7,62.0 L589.9,63.3 L591.2,64.5 L592.4,65.8 L593.7,67.1 L594.9,68.4 L596.2,69.6 L597.5,70.9 L598.9,72.2 L600.3,73.4 L601.7,74.7 L603.0,76.0 L604.3,77.2 L605.5,78.5 L606.6,79.8 L607.6,81.0 L608.6,82.3 L609.6,83.6 L610.5,84.8 L611.4,86.1 L612.3,87.4 L613.1,88.6 L613.9,89.9 L614.7,91.2 L615.5,92.4 L616.3,93.7 L617.0,95.0 L617.8,96.2 L618.5,97.5 L619.2,98.8 L619.9,100.0 L620.6,101.3 L621.2,102.6 L621.9,103.9 L622.5,105.1 L623.1,106.4 L623.7,107.7 L624.3,108.9 L624.9,110.2 L625.5,111.5 L626.2,112.7 L626.8,114.0 L627.4,115.3 L628.1,116.5 L628.8,117.8 L629.4,119.1 L630.0,120.3 L630.6,121.6 L631.1,122.9 L631.6,124.1 L632.0,125.4 L632.5,126.7 L632.9,127.9 L633.3,129.2 L633.7,130.5 L634.1,131.7 L634.5,133.0 L634.8,134.3 L635.2,135.5 L635.6,136.8 L636.0,138.1 L636.4,139.4 L636.8,140.6 L637.2,141.9 L637.5,143.2 L637.9,144.4 L638.3,145.7 L638.6,147.0 L639.0,148.2 L639.3,149.5 L639.6,150.8 L639.9,152.0 L640.1,153.3 L640.4,154.6 L640.7,155.8 L640.9,157.1 L641.2,158.4 L641.4,159.6 L641.6,160.9 L641.8,162.2 L642.0,163.4 L642.2,164.7 L642.3,166.0 L642.4,167.2 L642.6,168.5 L642.7,169.8 L642.8,171.0 L642.9,172.3 L643.0,173.6 L643.1,174.9 L643.3,176.1 L643.4,177.4 L643.5,178.7 L643.7,179.9 L643.8,181.2 L644.0,182.5 L644.1,183.7 L644.3,185.0 L644.4,186.3 L644.6,187.5 L644.7,188.8 L644.9,190.1 L645.1,191.3 L645.2,192.6 L645.4,193.9 L645.5,195.1 L645.7,196.4 L645.9,197.7 L646.0,198.9 L646.2,200.2 L646.4,201.5 L646.6,202.7 L646.7,204.0 L646.9,205.3 L647.1,206.5 L647.3,207.8 L647.4,209.1 L647.6,210.4 L647.8,211.6 L648.0,212.9 L648.2,214.2 L648.4,215.4 L648.6,216.7 L648.8,218.0 L648.9,219.2 L649.1,220.5 L649.3,221.8 L649.6,223.0 L649.8,224.3 L650.0,225.6 L650.2,226.8 L650.4,228.1 L650.6,229.4 L650.9,230.6 L651.1,231.9 L651.3,233.2 L651.5,234.4 L651.7,235.7 L652.0,237.0 L652.2,238.2 L652.4,239.5 L652.6,240.8 L652.8,242.0 L653.1,243.3 L653.3,244.6 L653.5,245.9 L653.7,247.1 L653.9,248.4 L654.2,249.7 L654.4,250.9 L654.6,252.2 L654.8,253.5 L655.1,254.7 L655.3,256.0 L655.5,257.3 L655.7,258.5 L656.0,259.8 L656.2,261.1 L656.4,262.3 L656.6,263.6" fill="none" stroke="#a2d937" stroke-width="2.2"/>
<path d="M529.4,11.3 L532.8,12.6 L535.7,13.8 L538.1,15.1 L540.2,16.4 L542.1,17.6 L543.8,18.9 L545.3,20.2 L546.7,21.4 L548.0,22.7 L549.4,24.0 L550.6,25.2 L551.9,26.5 L553.2,27.8 L554.4,29.0 L555.6,30.3 L556.8,31.6 L558.0,32.9 L559.2,34.1 L560.5,35.4 L561.8,36.7 L563.0,37.9 L564.3,39.2 L565.6,40.5 L566.9,41.7 L568.2,43.0 L569.5,44.3 L570.7,45.5 L572.0,46.8 L573.2,48.1 L574.5,49.3 L575.7,50.6 L577.0,51.9 L578.2,53.1 L579.4,54.4 L580.7,55.7 L581.9,56.9 L583.1,58.2 L584.3,59.5 L585.6,60.7 L586.8,62.0 L588.1,63.3 L589.3,64.5 L590.6,65.8 L591.8,67.1 L593.1,68.4 L594.4,69.6 L595.7,70.9 L597.1,72.2 L598.6,73.4 L600.0,74.7 L601.4,76.0 L602.7,77.2 L603.9,78.5 L605.0,79.8 L606.0,81.0 L607.1,82.3 L608.0,83.6 L609.0,84.8 L609.9,86.1 L610.8,87.4 L611.7,88.6 L612.6,89.9 L613.4,91.2 L614.2,92.4 L615.0,93.7 L615.8,95.0 L616.5,96.2 L617.3,97.5 L618.0,98.8 L618.7,100.0 L619.4,101.3 L620.1,102.6 L620.8,103.9 L621.4,105.1 L622.1,106.4 L622.7,107.7 L623.3,108.9 L624.0,110.2 L624.6,111.5 L625.2,112.7 L625.9,114.0 L626.6,115.3 L627.2,116.5 L627.9,117.8 L628.6,119.1 L629.3,120.3 L629.8,121.6 L630.4,122.9 L630.9,124.1 L631.3,125.4 L631.8,126.7 L632.2,127.9 L632.7,129.2 L633.1,130.5 L633.5,131.7 L633.9,133.0 L634.3,134.3 L634.7,135.5 L635.1,136.8 L635.5,138.1 L635.9,139.4 L636.3,140.6 L636.7,141.9 L637.1,143.2 L637.5,144.4 L637.8,145.7 L638.2,147.0 L638.5,148.2 L638.9,149.5 L639.2,150.8 L639.5,152.0 L639.8,153.3 L640.0,154.6 L640.3,155.8 L640.6,157.1 L640.8,158.4 L641.1,159.6 L641.3,160.9 L641.5,162.2 L641.7,163.4 L641.8,164.7 L642.0,166.0 L642.1,167.2 L642.2,168.5 L642.4,169.8 L642.5,171.0 L642.6,172.3 L642.7,173.6 L642.8,174.9 L642.9,176.1 L643.1,177.4 L643.2,178.7 L643.3,179.9 L643.5,181.2 L643.6,182.5 L643.8,183.7 L643.9,185.0 L644.1,186.3 L644.2,187.5 L644.4,188.8 L644.5,190.1 L644.7,191.3 L644.9,192.6 L645.0,193.9 L645.2,195.1 L645.3,196.4 L645.5,197.7 L645.7,198.9 L645.8,200.2 L646.0,201.5 L646.2,202.7 L646.3,204.0 L646.5,205.3 L646.7,206.5 L646.9,207.8 L647.1,209.1 L647.2,210.4 L647.4,211.6 L647.6,212.9 L647.8,214.2 L648.0,215.4 L648.2,216.7 L648.4,218.0 L648.6,219.2 L648.8,220.5 L649.0,221.8 L649.2,223.0 L649.4,224.3 L649.6,225.6 L649.8,226.8 L650.0,228.1 L650.2,229.4 L650.5,230.6 L650.7,231.9 L650.9,233.2 L651.1,234.4 L651.3,235.7 L651.6,237.0 L651.8,238.2 L652.0,239.5 L652.2,240.8 L652.4,242.0 L652.7,243.3 L652.9,244.6 L653.1,245.9 L653.3,247.1 L653.5,248.4 L653.8,249.7 L654.0,250.9 L654.2,252.2 L654.4,253.5 L654.7,254.7 L654.9,256.0 L655.1,257.3 L655.3,258.5 L655.6,259.8 L655.8,261.1 L656.0,262.3 L656.2,263.6" fill="none" stroke="#bddf26" stroke-width="2.4"/>
<path d="M529.3,11.3 L532.7,12.6 L535.5,13.8 L537.8,15.1 L539.8,16.4 L541.5,17.6 L543.2,18.9 L544.7,20.2 L546.0,21.4 L547.3,22.7 L548.6,24.0 L549.8,25.2 L551.0,26.5 L552.2,27.8 L553.3,29.0 L554.5,30.3 L555.6,31.6 L556.8,32.9 L557.9,34.1 L559.1,35.4 L560.3,36.7 L561.5,37.9 L562.7,39.2 L563.9,40.5 L565.1,41.7 L566.3,43.0 L567.5,44.3 L568.7,45.5 L569.8,46.8 L571.0,48.1 L572.2,49.3 L573.3,50.6 L574.5,51.9 L575.7,53.1 L576.9,54.4 L578.0,55.7 L579.2,56.9 L580.4,58.2 L581.6,59.5 L582.8,60.7 L584.1,62.0 L585.3,63.3 L586.5,64.5 L587.8,65.8 L589.1,67.1 L590.3,68.4 L591.6,69.6 L593.0,70.9 L594.5,72.2 L595.9,73.4 L597.4,74.7 L598.8,76.0 L600.2,77.2 L601.4,78.5 L602.6,79.8 L603.7,81.0 L604.8,82.3 L605.8,83.6 L606.8,84.8 L607.7,86.1 L608.7,87.4 L609.6,88.6 L610.5,89.9 L611.4,91.2 L612.2,92.4 L613.0,93.7 L613.9,95.0 L614.7,96.2 L615.5,97.5 L616.2,98.8 L617.0,100.0 L617.7,101.3 L618.4,102.6 L619.1,103.9 L619.8,105.1 L620.5,106.4 L621.2,107.7 L621.8,108.9 L622.5,110.2 L623.2,111.5 L623.8,112.7 L624.5,114.0 L625.2,115.3 L626.0,116.5 L626.7,117.8 L627.4,119.1 L628.1,120.3 L628.7,121.6 L629.3,122.9 L629.8,124.1 L630.3,125.4 L630.8,126.7 L631.3,127.9 L631.7,129.2 L632.1,130.5 L632.6,131.7 L633.0,133.0 L633.4,134.3 L633.8,135.5 L634.2,136.8 L634.7,138.1 L635.1,139.4 L635.5,140.6 L635.9,141.9 L636.4,143.2 L636.8,144.4 L637.2,145.7 L637.6,147.0 L637.9,148.2 L638.2,149.5 L638.6,150.8 L638.9,152.0 L639.2,153.3 L639.5,154.6 L639.8,155.8 L640.1,157.1 L640.3,158.4 L640.6,159.6 L640.8,160.9 L641.0,162.2 L641.2,163.4 L641.3,164.7 L641.5,166.0 L641.6,167.2 L641.7,168.5 L641.9,169.8 L642.0,171.0 L642.1,172.3 L642.2,173.6 L642.3,174.9 L642.4,176.1 L642.5,177.4 L642.7,178.7 L642.8,179.9 L642.9,181.2 L643.1,182.5 L643.2,183.7 L643.4,185.0 L643.5,186.3 L643.7,187.5 L643.8,188.8 L644.0,190.1 L644.1,191.3 L644.3,192.6 L644.5,193.9 L644.6,195.1 L644.8,196.4 L644.9,197.7 L645.1,198.9 L645.3,200.2 L645.4,201.5 L645.6,202.7 L645.8,204.0 L645.9,205.3 L646.1,206.5 L646.3,207.8 L646.5,209.1 L646.6,210.4 L646.8,211.6 L647.0,212.9 L647.2,214.2 L647.4,215.4 L647.6,216.7 L647.8,218.0 L648.0,219.2 L648.2,220.5 L648.4,221.8 L648.6,223.0 L648.8,224.3 L649.0,225.6 L649.2,226.8 L649.4,228.1 L649.6,229.4 L649.9,230.6 L650.1,231.9 L650.3,233.2 L650.5,234.4 L650.7,235.7 L651.0,237.0 L651.2,238.2 L651.4,239.5 L651.6,240.8 L651.8,242.0 L652.1,243.3 L652.3,244.6 L652.5,245.9 L652.7,247.1 L652.9,248.4 L653.2,249.7 L653.4,250.9 L653.6,252.2 L653.8,253.5 L654.0,254.7 L654.3,256.0 L654.5,257.3 L654.7,258.5 L654.9,259.8 L655.2,261.1 L655.4,262.3 L655.6,263.6" fill="none" stroke="#dde326" stroke-width="2.2"/>
<path d="M529.3,11.3 L532.7,12.6 L535.6,13.8 L537.9,15.1 L540.0,16.4 L541.8,17.6 L543.5,18.9 L545.0,20.2 L546.4,21.4 L547.7,22.7 L549.0,24.0 L550.2,25.2 L551.4,26.5 L552.7,27.8 L553.9,29.0 L555.0,30.3 L556.2,31.6 L557.4,32.9 L558.6,34.1 L559.8,35.4 L561.0,36.7 L562.3,37.9 L563.5,39.2 L564.8,40.5 L566.0,41.7 L567.3,43.0 L568.5,44.3 L569.7,45.5 L570.9,46.8 L572.1,48.1 L573.3,49.3 L574.5,50.6 L575.7,51.9 L576.9,53.1 L578.1,54.4 L579.3,55.7 L580.6,56.9 L581.8,58.2 L583.0,59.5 L584.2,60.7 L585.4,62.0 L586.7,63.3 L587.9,64.5 L589.2,65.8 L590.4,67.1 L591.7,68.4 L593.0,69.6 L594.4,70.9 L595.8,72.2 L597.2,73.4 L598.7,74.7 L600.1,76.0 L601.4,77.2 L602.7,78.5 L603.8,79.8 L604.9,81.0 L605.9,82.3 L606.9,83.6 L607.9,84.8 L608.8,86.1 L609.8,87.4 L610.6,88.6 L611.5,89.9 L612.4,91.2 L613.2,92.4 L614.0,93.7 L614.8,95.0 L615.6,96.2 L616.4,97.5 L617.1,98.8 L617.9,100.0 L618.6,101.3 L619.3,102.6 L619.9,103.9 L620.6,105.1 L621.3,106.4 L621.9,107.7 L622.6,108.9 L623.2,110.2 L623.9,111.5 L624.5,112.7 L625.2,114.0 L625.9,115.3 L626.6,116.5 L627.3,117.8 L628.0,119.1 L628.7,120.3 L629.3,121.6 L629.8,122.9 L630.3,124.1 L630.8,125.4 L631.3,126.7 L631.7,127.9 L632.2,129.2 L632.6,130.5 L633.0,131.7 L633.4,133.0 L633.8,134.3 L634.2,135.5 L634.6,136.8 L635.1,138.1 L635.5,139.4 L635.9,140.6 L636.3,141.9 L636.7,143.2 L637.1,144.4 L637.5,145.7 L637.9,147.0 L638.2,148.2 L638.6,149.5 L638.9,150.8 L639.2,152.0 L639.5,153.3 L639.8,154.6 L640.0,155.8 L640.3,157.1 L640.6,158.4 L640.8,159.6 L641.0,160.9 L641.2,162.2 L641.4,163.4 L641.6,164.7 L641.7,166.0 L641.9,167.2 L642.0,168.5 L642.1,169.8 L642.2,171.0 L642.3,172.3 L642.4,173.6 L642.5,174.9 L642.7,176.1 L642.8,177.4 L642.9,178.7 L643.1,179.9 L643.2,181.2 L643.4,182.5 L643.5,183.7 L643.6,185.0 L643.8,186.3 L644.0,187.5 L644.1,188.8 L644.3,190.1 L644.4,191.3 L644.6,192.6 L644.7,193.9 L644.9,195.1 L645.1,196.4 L645.2,197.7 L645.4,198.9 L645.6,200.2 L645.7,201.5 L645.9,202.7 L646.1,204.0 L646.2,205.3 L646.4,206.5 L646.6,207.8 L646.8,209.1 L646.9,210.4 L647.1,211.6 L647.3,212.9 L647.5,214.2 L647.7,215.4 L647.9,216.7 L648.1,218.0 L648.3,219.2 L648.5,220.5 L648.7,221.8 L648.9,223.0 L649.1,224.3 L649.3,225.6 L649.5,226.8 L649.7,228.1 L649.9,229.4 L650.2,230.6 L650.4,231.9 L650.6,233.2 L650.8,234.4 L651.0,235.7 L651.3,237.0 L651.5,238.2 L651.7,239.5 L651.9,240.8 L652.1,242.0 L652.4,243.3 L652.6,244.6 L652.8,245.9 L653.0,247.1 L653.2,248.4 L653.5,249.7 L653.7,250.9 L653.9,252.2 L654.1,253.5 L654.4,254.7 L654.6,256.0 L654.8,257.3 L655.0,258.5 L655.2,259.8 L655.5,261.1 L655.7,262.3 L655.9,263.6" fill="none" stroke="#e7e425" stroke-width="2.7"/>
</g>
<g fill="none" stroke="#4d4d4d" stroke-width="1.05">
<rect x="59.6" y="11.4" width="383.6" height="252.1"/>
<path d="M521.6,11.4 H684.3 V263.5 H521.6 Z"/>
<path d="M54.4,11.40 H59.6 M516.4,11.40 H521.6"/>
<path d="M54.4,43.85 H59.6 M516.4,43.85 H521.6"/>
<path d="M54.4,76.30 H59.6 M516.4,76.30 H521.6"/>
<path d="M54.4,108.75 H59.6 M516.4,108.75 H521.6"/>
<path d="M54.4,141.20 H59.6 M516.4,141.20 H521.6"/>
<path d="M54.4,173.65 H59.6 M516.4,173.65 H521.6"/>
<path d="M54.4,206.10 H59.6 M516.4,206.10 H521.6"/>
<path d="M54.4,238.55 H59.6 M516.4,238.55 H521.6"/>
<path d="M96.40,263.5 V268.5"/>
<path d="M156.05,263.5 V268.5"/>
<path d="M215.70,263.5 V268.5"/>
<path d="M275.35,263.5 V268.5"/>
<path d="M335.00,263.5 V268.5"/>
<path d="M394.65,263.5 V268.5"/>
<path d="M584.60,263.5 V268.5"/>
<path d="M651.40,263.5 V268.5"/>
<path d="M551.20,263.5 V266.5"/>
<path d="M618.00,263.5 V266.5"/>
</g>
<text x="50.3" y="15.6" text-anchor="end" textLength="7.17" lengthAdjust="spacingAndGlyphs">0</text>
<text x="512.3" y="15.6" text-anchor="end" textLength="7.17" lengthAdjust="spacingAndGlyphs">0</text>
<text x="50.3" y="48.1" text-anchor="end" textLength="21.52" lengthAdjust="spacingAndGlyphs">200</text>
<text x="512.3" y="48.1" text-anchor="end" textLength="21.52" lengthAdjust="spacingAndGlyphs">200</text>
<text x="50.3" y="80.5" text-anchor="end" textLength="21.52" lengthAdjust="spacingAndGlyphs">400</text>
<text x="512.3" y="80.5" text-anchor="end" textLength="21.52" lengthAdjust="spacingAndGlyphs">400</text>
<text x="50.3" y="113.0" text-anchor="end" textLength="21.52" lengthAdjust="spacingAndGlyphs">600</text>
<text x="512.3" y="113.0" text-anchor="end" textLength="21.52" lengthAdjust="spacingAndGlyphs">600</text>
<text x="50.3" y="145.4" text-anchor="end" textLength="21.52" lengthAdjust="spacingAndGlyphs">800</text>
<text x="512.3" y="145.4" text-anchor="end" textLength="21.52" lengthAdjust="spacingAndGlyphs">800</text>
<text x="50.3" y="177.8" text-anchor="end" textLength="32.28" lengthAdjust="spacingAndGlyphs">1,000</text>
<text x="512.3" y="177.8" text-anchor="end" textLength="32.28" lengthAdjust="spacingAndGlyphs">1,000</text>
<text x="50.3" y="210.3" text-anchor="end" textLength="32.28" lengthAdjust="spacingAndGlyphs">1,200</text>
<text x="512.3" y="210.3" text-anchor="end" textLength="32.28" lengthAdjust="spacingAndGlyphs">1,200</text>
<text x="50.3" y="242.8" text-anchor="end" textLength="32.28" lengthAdjust="spacingAndGlyphs">1,400</text>
<text x="512.3" y="242.8" text-anchor="end" textLength="32.28" lengthAdjust="spacingAndGlyphs">1,400</text>
<text x="88.8" y="284">10<tspan dy="-4.6" font-size="8.8px">19</tspan></text>
<text x="148.5" y="284">10<tspan dy="-4.6" font-size="8.8px">21</tspan></text>
<text x="208.1" y="284">10<tspan dy="-4.6" font-size="8.8px">23</tspan></text>
<text x="267.8" y="284">10<tspan dy="-4.6" font-size="8.8px">25</tspan></text>
<text x="327.4" y="284">10<tspan dy="-4.6" font-size="8.8px">27</tspan></text>
<text x="387.0" y="284">10<tspan dy="-4.6" font-size="8.8px">29</tspan></text>
<text x="585.1" y="282.1" text-anchor="middle" textLength="31.68" lengthAdjust="spacingAndGlyphs">1,000</text>
<text x="651.1" y="282.1" text-anchor="middle" textLength="31.68" lengthAdjust="spacingAndGlyphs">2,000</text>
<text x="251.5" y="302.6" text-anchor="middle" textLength="85" lengthAdjust="spacingAndGlyphs">Viscosity (Pa s)</text>
<text x="603.6" y="302" text-anchor="middle" textLength="89.8" lengthAdjust="spacingAndGlyphs">Temperature (K)</text>
<text transform="translate(9.8,136.6) rotate(-90)" text-anchor="middle" textLength="61.3" lengthAdjust="spacingAndGlyphs">Depth (km)</text>
<text transform="translate(469.7,136.6) rotate(-90)" text-anchor="middle" textLength="61.3" lengthAdjust="spacingAndGlyphs">Depth (km)</text>
<text x="-0.3" y="10.5" font-weight="bold" font-size="14.5px" style="stroke-width:.55px">a</text>
<text x="459.3" y="10.5" font-weight="bold" font-size="15.5px" style="stroke-width:.55px">b</text>
<rect x="64.2" y="316.3" width="330.3" height="9.8" fill="url(#vg)" stroke="#555" stroke-width="0.8"/>
<text x="34.7" y="325.7" textLength="23.2" lengthAdjust="spacingAndGlyphs">Low</text><text x="400.4" y="325.7" textLength="26" lengthAdjust="spacingAndGlyphs">High</text>
<text x="122" y="342.7" textLength="215.6" lengthAdjust="spacingAndGlyphs">Crustal thickness and HPE enrichment</text>
<rect x="478" y="316.4" width="9.9" height="9.9" fill="#808080"/>
<text x="492.6" y="325.5" textLength="152.8" lengthAdjust="spacingAndGlyphs">Pre-InSight models (ref. 18)</text>
</svg></body></html>
